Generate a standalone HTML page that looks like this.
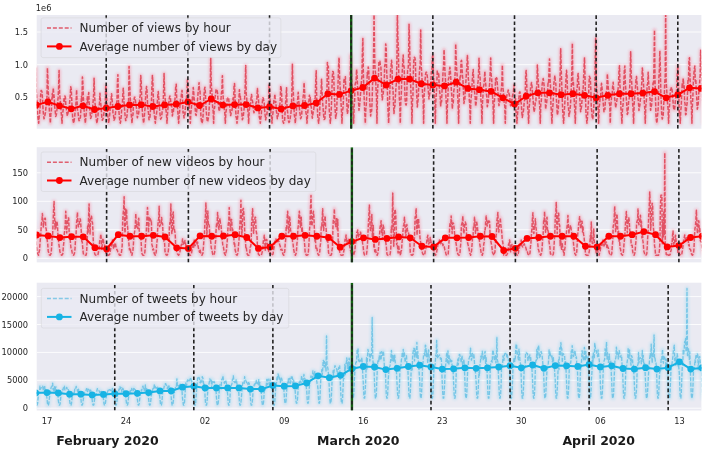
<!DOCTYPE html>
<html><head><meta charset="utf-8"><title>chart</title>
<style>html,body{margin:0;padding:0;background:#fff;width:705px;height:449px;overflow:hidden}svg{display:block}</style>
</head><body>
<svg width="705" height="449" viewBox="0 0 705 449">
<rect x="0" y="0" width="705" height="449" fill="#ffffff"/>
<defs><filter id="blur" x="-5%" y="-5%" width="110%" height="110%"><feGaussianBlur stdDeviation="0.4"/></filter><filter id="blur2" x="-5%" y="-5%" width="110%" height="110%"><feGaussianBlur stdDeviation="1.2"/></filter>
<clipPath id="c0"><rect x="36.7" y="15.0" width="664.70" height="113.70"/></clipPath>
<clipPath id="c1"><rect x="36.7" y="147.2" width="664.70" height="115.20"/></clipPath>
<clipPath id="c2"><rect x="36.7" y="282.7" width="664.70" height="127.80"/></clipPath>
</defs>
<rect x="36.7" y="15.0" width="664.70" height="113.70" fill="#EAEAF2"/>
<g clip-path="url(#c0)">
<line x1="36.7" x2="701.4" y1="32.0" y2="32.0" stroke="#ffffff" stroke-opacity="0.85" stroke-width="1"/>
<line x1="36.7" x2="701.4" y1="64.7" y2="64.7" stroke="#ffffff" stroke-opacity="0.85" stroke-width="1"/>
<line x1="36.7" x2="701.4" y1="97.4" y2="97.4" stroke="#ffffff" stroke-opacity="0.85" stroke-width="1"/>
<polyline points="24.58,76.54 25.07,89.27 25.55,102.79 26.04,117.48 26.52,120.23 27.01,123.2 27.5,119.12 27.98,115.8 28.47,105.13 28.95,105.71 29.44,86.42 29.93,89.66 30.41,92.28 30.9,104.08 31.38,112.69 31.87,115.84 32.36,120.37 32.84,119.58 33.33,118.33 33.81,111.82 34.3,109.83 34.79,105.56 35.27,90.27 35.76,68 36.24,90.99 36.73,97.51 37.22,104.98 37.7,115.9 38.19,119.2 38.68,123.2 39.16,116.8 39.65,113.5 40.13,106.45 40.62,95.78 41.11,90.5 41.59,90.79 42.08,92.5 42.56,98.77 43.05,109.75 43.54,114.86 44.02,118.86 44.51,117.27 44.99,114.97 45.48,112.47 45.97,106.77 46.45,101.07 46.94,99.1 47.42,68 47.91,79.53 48.4,95.38 48.88,98.14 49.37,110.55 49.85,115.16 50.34,123.2 50.83,113.92 51.31,111.91 51.8,100.58 52.28,93.57 52.77,97.92 53.26,87.86 53.74,93.85 54.23,97.29 54.71,107.03 55.2,110.8 55.69,116.39 56.17,115.48 56.66,112.43 57.14,107.34 57.63,101.37 58.12,97.78 58.6,87.62 59.09,70.5 59.57,93.13 60.06,98.4 60.55,102.95 61.03,110.57 61.52,116.39 62.01,123.2 62.49,114.26 62.98,111.09 63.46,106.75 63.95,98.78 64.44,101.51 64.92,95.91 65.41,97.22 65.89,106.15 66.38,108.62 66.87,112.82 67.35,116.02 67.84,113.59 68.32,111.74 68.81,111.1 69.3,106.42 69.78,100.45 70.27,95.32 70.75,86.8 71.24,89.5 71.73,99.41 72.21,109.6 72.7,118.56 73.18,121.14 73.67,123.2 74.16,120.23 74.64,117.5 75.13,110.8 75.61,107.37 76.1,101.15 76.59,89.73 77.07,101.24 77.56,111.23 78.04,112.45 78.53,117.44 79.02,120.69 79.5,120.34 79.99,119.68 80.47,117.07 80.96,108.13 81.45,96.4 81.93,101.34 82.42,77 82.91,83.69 83.39,98.41 83.88,105.12 84.36,115.24 84.85,118.3 85.34,123.2 85.82,117.65 86.31,112.44 86.79,106.26 87.28,96.85 87.77,102.45 88.25,96.78 88.74,92.61 89.22,103.91 89.71,108.87 90.2,113.59 90.68,118.53 91.17,117.09 91.65,115.34 92.14,110.93 92.63,107.41 93.11,101.46 93.6,94.87 94.08,78.2 94.57,94.63 95.06,103.21 95.54,109.27 96.03,117.6 96.51,120.75 97,123.2 97.49,119.24 97.97,115.43 98.46,109.35 98.94,106.41 99.43,104.08 99.92,93.17 100.4,100.97 100.89,104.56 101.37,111.09 101.86,117.55 102.35,120.3 102.83,119.12 103.32,117.96 103.8,113.72 104.29,110.4 104.78,105.39 105.26,105.6 105.75,85 106.23,90.64 106.72,99.1 107.21,108.41 107.69,115.82 108.18,118.94 108.67,123.2 109.15,118.54 109.64,115.17 110.12,109.05 110.61,102.17 111.1,100.05 111.58,93.78 112.07,99.45 112.55,104.21 113.04,114.09 113.53,114.96 114.01,120.33 114.5,119.17 114.98,117.67 115.47,113.65 115.96,108.07 116.44,104.38 116.93,101.06 117.41,82.5 117.9,74.64 118.39,97.95 118.87,110.32 119.36,117.21 119.84,120.85 120.33,123.2 120.82,120.39 121.3,115.57 121.79,107.1 122.27,105.77 122.76,95.58 123.25,88.22 123.73,96.33 124.22,104.64 124.7,111.22 125.19,116.49 125.68,120.58 126.16,119.6 126.65,117.9 127.13,114.95 127.62,107.15 128.11,103.75 128.59,100.1 129.08,66.5 129.56,80.39 130.05,93.31 130.54,104.71 131.02,112.48 131.51,117.21 132,123.2 132.48,116.02 132.97,114.91 133.45,103.95 133.94,100.91 134.43,97.16 134.91,97.24 135.4,100.61 135.88,103.98 136.37,107.16 136.86,110.74 137.34,117.79 137.83,115.29 138.31,114.83 138.8,112.27 139.29,104.53 139.77,98 140.26,95.4 140.74,75.5 141.23,81.95 141.72,98.93 142.2,109.28 142.69,116.33 143.17,119.53 143.66,123.2 144.15,118.1 144.63,112.75 145.12,107.34 145.6,95.72 146.09,90.07 146.58,86.45 147.06,91.23 147.55,104.24 148.03,109.81 148.52,113.22 149.01,119.75 149.49,119.14 149.98,116.89 150.46,109.99 150.95,106.03 151.44,101.59 151.92,85.87 152.41,75.4 152.89,83.15 153.38,98.45 153.87,109.23 154.35,114.78 154.84,118.87 155.33,123.2 155.81,118.02 156.3,115.23 156.78,111.4 157.27,102.72 157.76,96.4 158.24,91.6 158.73,97.87 159.21,104.55 159.7,110.73 160.19,115.55 160.67,119.23 161.16,118.31 161.64,116.9 162.13,111.49 162.62,109.99 163.1,103.82 163.59,90.91 164.07,73.6 164.56,91.58 165.05,97.16 165.53,103.81 166.02,110.44 166.5,114.65 166.99,123.2 167.48,114.63 167.96,108.28 168.45,104.36 168.93,102.26 169.42,97.59 169.91,96.08 170.39,97.51 170.88,103.69 171.36,106.22 171.85,106.98 172.34,115.92 172.82,113.13 173.31,112.22 173.79,107.14 174.28,106.82 174.77,102.03 175.25,95.6 175.74,86.3 176.22,84.16 176.71,98.73 177.2,103.47 177.68,110.1 178.17,117.03 178.66,123.2 179.14,115.72 179.63,111.69 180.11,102.94 180.6,98.39 181.09,98.04 181.57,92.7 182.06,90.36 182.54,99.51 183.03,112.89 183.52,112.4 184,117.9 184.49,115.24 184.97,114.38 185.46,106.52 185.95,103.27 186.43,97.63 186.92,94.53 187.4,80 187.89,86.05 188.38,90.53 188.86,99.42 189.35,110.3 189.83,113.04 190.32,123.2 190.81,113.12 191.29,109.56 191.78,102.19 192.26,96.96 192.75,100.98 193.24,87.57 193.72,92.24 194.21,99.18 194.69,103.47 195.18,108.69 195.67,114.76 196.15,115.44 196.64,111.62 197.12,105.07 197.61,98.76 198.1,92.42 198.58,88.33 199.07,82.7 199.56,91.44 200.04,91.06 200.53,107.22 201.01,117.66 201.5,121.24 201.99,123.2 202.47,121.41 202.96,116.89 203.44,109.63 203.93,96.43 204.42,89.55 204.9,87.15 205.39,92.5 205.87,104.5 206.36,112.28 206.85,117.46 207.33,121.83 207.82,120.98 208.3,118.42 208.79,114.82 209.28,106.27 209.76,98.25 210.25,93.91 210.73,57.9 211.22,82.84 211.71,90.43 212.19,96.02 212.68,107.78 213.16,111.09 213.65,123.2 214.14,108.15 214.62,108.21 215.11,96.95 215.59,93.72 216.08,89.29 216.57,89.32 217.05,90.2 217.54,92.77 218.02,100.88 218.51,105.01 219,111.42 219.48,110.26 219.97,107.2 220.45,102.49 220.94,99.56 221.43,93.47 221.91,90.04 222.4,75.7 222.88,92.92 223.37,99.82 223.86,101.73 224.34,109.76 224.83,113.11 225.32,123.2 225.8,113.2 226.29,109.96 226.77,104.45 227.26,98.65 227.75,98.13 228.23,99.63 228.72,98.97 229.2,104.61 229.69,106.72 230.18,111.23 230.66,115.55 231.15,113.03 231.63,111.83 232.12,109.5 232.61,103.45 233.09,97.65 233.58,100.59 234.06,84.7 234.55,83.63 235.04,96.77 235.52,104.97 236.01,116.85 236.49,118.02 236.98,123.2 237.47,118.58 237.95,114.29 238.44,109.12 238.92,98.76 239.41,89.81 239.9,97.6 240.38,96.54 240.87,101.83 241.35,108.32 241.84,113.05 242.33,119.77 242.81,118.57 243.3,116.23 243.78,111.67 244.27,106.69 244.76,95.4 245.24,85.26 245.73,65.5 246.21,94.11 246.7,98.05 247.19,105.45 247.67,109.28 248.16,113.15 248.65,123.2 249.13,111.2 249.62,108.17 250.1,103.57 250.59,103.95 251.08,97.34 251.56,94.61 252.05,99.95 252.53,101.03 253.02,105.15 253.51,110.22 253.99,112.76 254.48,110.81 254.96,110.21 255.45,106.49 255.94,102.74 256.42,102.72 256.91,97.74 257.39,88.5 257.88,94.08 258.37,96.98 258.85,107.67 259.34,117.46 259.82,118.62 260.31,123.2 260.8,117.69 261.28,115.6 261.77,105.61 262.25,103.55 262.74,97.7 263.23,97.86 263.71,100.58 264.2,102.64 264.68,110.94 265.17,115.28 265.66,119.86 266.14,117.18 266.63,116.07 267.11,112.42 267.6,107.53 268.09,105.2 268.57,100.89 269.06,85 269.54,89.59 270.03,98.79 270.52,107.09 271,113.26 271.49,116.72 271.98,123.2 272.46,115.78 272.95,113.11 273.43,106.55 273.92,100.14 274.41,98.76 274.89,94.24 275.38,102.58 275.86,101.62 276.35,110.88 276.84,113.52 277.32,118.72 277.81,116.06 278.29,114.14 278.78,109.21 279.27,105.43 279.75,105.5 280.24,99.9 280.72,86 281.21,88.27 281.7,95.92 282.18,111.5 282.67,120.33 283.15,121.95 283.64,123.2 284.13,122.03 284.61,120.2 285.1,111.63 285.58,103.18 286.07,96.74 286.56,87.75 287.04,107.49 287.53,111.29 288.01,116.64 288.5,120.84 288.99,122.46 289.47,121.43 289.96,120.54 290.44,116.19 290.93,113.21 291.42,106.89 291.9,92.01 292.39,64.3 292.87,87.16 293.36,93.01 293.85,105.53 294.33,114.91 294.82,117.78 295.31,123.2 295.79,116.68 296.28,112.84 296.76,104.35 297.25,103.66 297.74,98.62 298.22,92.26 298.71,99.77 299.19,106.09 299.68,111.53 300.17,114.67 300.65,118.67 301.14,117.76 301.62,115.39 302.11,108 302.6,106.26 303.08,96.84 303.57,93.9 304.05,82.7 304.54,90.7 305.03,100.31 305.51,102.76 306,113.35 306.48,114.83 306.97,123.2 307.46,116.48 307.94,110.21 308.43,102.19 308.91,101.32 309.4,95.15 309.89,99.91 310.37,97.51 310.86,105.75 311.34,107.36 311.83,113.55 312.32,118.26 312.8,114.59 313.29,111.63 313.77,109.48 314.26,103.7 314.75,100.24 315.23,97.34 315.72,82.2 316.2,70.84 316.69,98.51 317.18,102.35 317.66,115.14 318.15,119.97 318.64,123.2 319.12,117.02 319.61,115.4 320.09,100.31 320.58,95.88 321.07,92.27 321.55,79.15 322.04,92.04 322.52,100.37 323.01,107.23 323.5,113.27 323.98,119.43 324.47,119.37 324.95,118.38 325.44,109.12 325.93,107.93 326.41,97.09 326.9,95.23 327.38,62.5 327.87,66.46 328.36,66.46 328.84,97.64 329.33,111.18 329.81,116.75 330.3,123.2 330.79,117 331.27,108.89 331.76,95.58 332.24,78.44 332.73,71.49 333.22,71.64 333.7,75.41 334.19,91.26 334.67,101.28 335.16,110.08 335.65,118.26 336.13,115.44 336.62,112.64 337.1,98.17 337.59,97.62 338.08,82.15 338.56,66.46 339.05,57.7 339.53,76.16 340.02,85.93 340.51,91.98 340.99,102.09 341.48,111.23 341.97,123.2 342.45,110.61 342.94,108.8 343.42,99.95 343.91,80.16 344.4,78.87 344.88,81.79 345.37,76.69 345.85,94.25 346.34,96.08 346.83,102.4 347.31,113.83 347.8,111.74 348.28,106.78 348.77,102.36 349.26,91 349.74,89.76 350.23,74.95 350.71,55 351.2,68.45 351.69,82.09 352.17,87.63 352.66,105.18 353.14,108.18 353.63,123.2 354.12,105.58 354.6,102.18 355.09,84.98 355.57,82.37 356.06,81.93 356.55,69.45 357.03,73.56 357.52,86.45 358,96.76 358.49,100.72 358.98,110.17 359.46,106.85 359.95,101.76 360.43,95.08 360.92,89.46 361.41,81.56 361.89,76.8 362.38,54 362.86,38.4 363.35,74.23 363.84,87.78 364.32,102.72 364.81,113.48 365.3,123.2 365.78,109.91 366.27,104.88 366.75,94.42 367.24,72.45 367.73,75.75 368.21,66.9 368.7,69.76 369.18,84.94 369.67,100.51 370.16,107.29 370.64,116.02 371.13,111.03 371.61,111.08 372.1,101.43 372.59,82.74 373.07,81.77 373.56,57.31 374.04,12 374.53,51.37 375.02,69.38 375.5,72.72 375.99,88.69 376.47,96.4 376.96,123.2 377.45,94.07 377.93,84.71 378.42,78.46 378.9,61.65 379.39,61.8 379.88,61.23 380.36,64.92 380.85,65.85 381.33,79.09 381.82,93 382.31,99.84 382.79,96.23 383.28,93.12 383.76,84.23 384.25,80.49 384.74,64.93 385.22,65.03 385.71,44 386.19,48.2 386.68,71.51 387.17,79.98 387.65,102.64 388.14,111.98 388.63,123.2 389.11,110.13 389.6,98.44 390.08,84.24 390.57,69.95 391.06,66.84 391.54,60.25 392.03,65.49 392.51,88.78 393,88.31 393.49,104.02 393.97,113.47 394.46,107.39 394.94,105.91 395.43,95.1 395.92,88.29 396.4,82.6 396.89,61.3 397.37,12 397.86,39.17 398.35,46.9 398.83,78.82 399.32,98.15 399.8,104.63 400.29,123.2 400.78,102.1 401.26,95.23 401.75,79.83 402.23,72.49 402.72,61.83 403.21,55.06 403.69,65.44 404.18,67.15 404.66,87.07 405.15,100.52 405.64,104.24 406.12,105.06 406.61,102.63 407.09,82.23 407.58,70.73 408.07,69.74 408.55,61.97 409.04,24.2 409.52,39.65 410.01,64.8 410.5,79.3 410.98,94.69 411.47,101.05 411.96,123.2 412.44,101.66 412.93,95.57 413.41,70.25 413.9,59.12 414.39,57.26 414.87,57.8 415.36,60.29 415.84,82.13 416.33,84.23 416.82,96.6 417.3,107.01 417.79,102.25 418.27,98.32 418.76,85.03 419.25,75.95 419.73,67.33 420.22,65.01 420.7,29.9 421.19,66.33 421.68,71.44 422.16,82.65 422.65,96.7 423.13,98.14 423.62,123.2 424.11,95.53 424.59,90.26 425.08,79.73 425.56,74.61 426.05,72.17 426.54,72.32 427.02,73.85 427.51,78.54 427.99,86.9 428.48,92.64 428.97,99.03 429.45,94.94 429.94,92.84 430.42,85.83 430.91,80.92 431.4,71.58 431.88,71.85 432.37,58 432.85,54.72 433.34,71.93 433.83,81.22 434.31,94.81 434.8,101.41 435.29,123.2 435.77,101.42 436.26,94.28 436.74,86.55 437.23,71.07 437.72,71.84 438.2,74.74 438.69,72.64 439.17,85.21 439.66,91.43 440.15,95.49 440.63,106.57 441.12,100.42 441.6,101.75 442.09,89.58 442.58,82.13 443.06,71.48 443.55,66.4 444.03,49.7 444.52,59.64 445.01,73.49 445.49,80.23 445.98,99.49 446.46,104.4 446.95,123.2 447.44,103.14 447.92,96.59 448.41,78.81 448.89,78.26 449.38,71.06 449.87,67.32 450.35,71.08 450.84,79.46 451.32,89.47 451.81,95.31 452.3,108.79 452.78,103.47 453.27,102.85 453.75,91.23 454.24,88.62 454.73,80.68 455.21,71.01 455.7,44 456.18,59.64 456.67,69.1 457.16,75.88 457.64,95.84 458.13,104.35 458.62,123.2 459.1,99.8 459.59,89.47 460.07,75.2 460.56,77.1 461.05,61.23 461.53,60.33 462.02,67.36 462.5,76.05 462.99,81.17 463.48,92.71 463.96,103.54 464.45,99.16 464.93,98.98 465.42,86.52 465.91,81.45 466.39,72.77 466.88,66.56 467.36,55.4 467.85,62.39 468.34,79.05 468.82,82.24 469.31,100.48 469.79,103.45 470.28,123.2 470.77,102.35 471.25,96.8 471.74,91.39 472.22,81.46 472.71,74.45 473.2,69.62 473.68,80.66 474.17,88.59 474.65,92.53 475.14,96.92 475.63,106.35 476.11,103.56 476.6,98.56 477.08,89.83 477.57,84.14 478.06,81.98 478.54,73.39 479.03,58.2 479.51,73.61 480,76.18 480.49,87.3 480.97,101.19 481.46,104.83 481.95,123.2 482.43,103.95 482.92,96.49 483.4,86.69 483.89,85.09 484.38,79.04 484.86,71.43 485.35,81.34 485.83,85.22 486.32,92.81 486.81,97.13 487.29,106.67 487.78,103.9 488.26,102.81 488.75,92.97 489.24,87.76 489.72,82.75 490.21,72.52 490.69,57.9 491.18,75.2 491.67,78.52 492.15,88.76 492.64,98.15 493.12,106.16 493.61,123.2 494.1,104.22 494.58,98.85 495.07,93.17 495.55,78.65 496.04,80.96 496.53,77.65 497.01,78.87 497.5,86.74 497.98,92.35 498.47,100.24 498.96,105.62 499.44,103.55 499.93,100.22 500.41,93.85 500.9,92.36 501.39,88.75 501.87,82.48 502.36,65.1 502.84,87.09 503.33,91.37 503.82,97.95 504.3,104.32 504.79,105.38 505.28,123.2 505.76,104.55 506.25,100.23 506.73,95.99 507.22,94.28 507.71,92.6 508.19,90.09 508.68,91.77 509.16,94.57 509.65,96.2 510.14,101.25 510.62,105.81 511.11,104.88 511.59,102.98 512.08,98.21 512.57,95.49 513.05,93.42 513.54,90.56 514.02,85 514.51,93.17 515,104.85 515.48,98.43 515.97,110.89 516.45,115.6 516.94,123.2 517.43,115.76 517.91,108.93 518.4,109.05 518.88,98.33 519.37,92.62 519.86,91.91 520.34,93.84 520.83,101.15 521.31,103.74 521.8,112.3 522.29,117.38 522.77,114.49 523.26,111.87 523.74,107.96 524.23,101.84 524.72,99.74 525.2,97.35 525.69,74 526.17,70.58 526.66,82.34 527.15,95.39 527.63,107.33 528.12,111.92 528.61,123.2 529.09,108.94 529.58,103.27 530.06,98.53 530.55,88.04 531.04,85.47 531.52,82.43 532.01,86.58 532.49,92.89 532.98,98.73 533.47,104.64 533.95,111.81 534.44,110.31 534.92,107 535.41,100.99 535.9,100.75 536.38,88.4 536.87,85.37 537.35,65.1 537.84,74.9 538.33,83.69 538.81,90.15 539.3,101.5 539.78,107.25 540.27,123.2 540.76,103.58 541.24,102.41 541.73,92.03 542.21,83.74 542.7,81.6 543.19,78.58 543.67,81.55 544.16,86.11 544.64,95.18 545.13,96.89 545.62,109.21 546.1,105.26 546.59,103.82 547.07,97.6 547.56,91.24 548.05,83.01 548.53,83.69 549.02,71 549.5,58.9 549.99,77.96 550.48,86.12 550.96,105.53 551.45,112.8 551.94,123.2 552.42,111.5 552.91,105.51 553.39,97.75 553.88,83.52 554.37,79.64 554.85,75.55 555.34,82.32 555.82,83.54 556.31,98.01 556.8,104.55 557.28,114.99 557.77,113.02 558.25,109.79 558.74,100.43 559.23,95.12 559.71,85.94 560.2,72.8 560.68,48.7 561.17,67.57 561.66,82.64 562.14,96.29 562.63,109.44 563.11,116.47 563.6,123.2 564.09,113.35 564.57,107.66 565.06,98.34 565.54,87.08 566.03,77.86 566.52,70.26 567,76.01 567.49,91.23 567.97,105.57 568.46,106.24 568.95,116.31 569.43,113.67 569.92,111.44 570.4,105.99 570.89,97.03 571.38,84.8 571.86,70.94 572.35,43.4 572.84,84.62 573.32,81.59 573.81,89.59 574.29,102.21 574.78,109.33 575.27,123.2 575.75,107.09 576.24,99.96 576.72,89.05 577.21,88.3 577.7,76.37 578.18,73.49 578.67,82.66 579.15,86.37 579.64,96.27 580.13,104.04 580.61,111.71 581.1,109.1 581.58,106.03 582.07,99.3 582.56,90.76 583.04,91.53 583.53,79.33 584.01,68.1 584.5,57.89 584.99,76.26 585.47,95.71 585.96,112.8 586.44,117.63 586.93,123.2 587.42,117.75 587.9,108.97 588.39,103.17 588.87,86.96 589.36,76.24 589.85,77.36 590.33,78.3 590.82,88.65 591.3,108.13 591.79,111.76 592.28,118.99 592.76,118.59 593.25,114.87 593.73,108.3 594.22,93.12 594.71,91.37 595.19,62.89 595.68,38.3 596.16,77.45 596.65,87.2 597.14,94.49 597.62,104.52 598.11,109.42 598.6,123.2 599.08,107.49 599.57,104.49 600.05,98.65 600.54,97.56 601.03,88.67 601.51,83.25 602,87.59 602.48,93.39 602.97,100.77 603.46,105.61 603.94,111.7 604.43,108.74 604.91,109.4 605.4,99.94 605.89,99.53 606.37,91.6 606.86,88.54 607.34,74 607.83,81.07 608.32,88.62 608.8,92.57 609.29,103.33 609.77,104.55 610.26,123.2 610.75,106.27 611.23,101.14 611.72,94.84 612.2,93.55 612.69,85.74 613.18,82.29 613.66,89.54 614.15,90.53 614.63,98.71 615.12,101.15 615.61,107.71 616.09,105.06 616.58,103.07 617.06,98.63 617.55,91.72 618.04,89.3 618.52,83.63 619.01,71 619.5,65.84 619.98,86.7 620.47,90.51 620.95,109.25 621.44,114.08 621.93,123.2 622.41,110.86 622.9,105.63 623.38,101.07 623.87,80.95 624.36,70.18 624.84,66.09 625.33,83.33 625.81,89.33 626.3,98.67 626.79,104.77 627.27,114.45 627.76,113.19 628.24,108.43 628.73,99.79 629.22,98.51 629.7,87.01 630.19,76.48 630.67,51.7 631.16,72.64 631.65,82.07 632.13,90.57 632.62,103.16 633.1,109.79 633.59,123.2 634.08,105.54 634.56,98.51 635.05,92.58 635.53,86.23 636.02,79.42 636.51,76.54 636.99,83.26 637.48,88.2 637.96,98.51 638.45,101.29 638.94,110.48 639.42,107.21 639.91,105.03 640.39,98.89 640.88,98.02 641.37,89.35 641.85,81.4 642.34,68.1 642.83,73.48 643.31,81.21 643.8,88.91 644.28,101.14 644.77,108.82 645.26,123.2 645.74,107.01 646.23,102.08 646.71,94.97 647.2,84.8 647.69,84.17 648.17,72.32 648.66,82.74 649.14,89 649.63,96.9 650.12,98.75 650.6,110.33 651.09,106.8 651.57,105.41 652.06,97.38 652.55,91.93 653.03,82.81 653.52,85.12 654,65.1 654.49,30.15 654.98,78.28 655.46,95.35 655.95,115.19 656.43,120.76 656.92,123.2 657.41,116.66 657.89,112.57 658.38,104.81 658.86,77.82 659.35,70.14 659.84,50.84 660.32,65.92 660.81,91.42 661.29,103.86 661.78,115.96 662.27,119.04 662.75,117.61 663.24,114.35 663.72,103.69 664.21,98.61 664.7,83.87 665.18,76.3 665.67,12 666.15,81.56 666.64,88.76 667.13,97.4 667.61,103.9 668.1,109.19 668.59,123.2 669.07,108.99 669.56,105.84 670.04,94.6 670.53,89.44 671.02,88.59 671.5,87.23 671.99,89.73 672.47,93.98 672.96,100.54 673.45,106.82 673.93,109.87 674.42,109.8 674.9,106.72 675.39,101.01 675.88,95.92 676.36,95.18 676.85,84.93 677.33,74 677.82,65.75 678.31,75.48 678.79,95.41 679.28,113.37 679.76,113.04 680.25,123.2 680.74,110.79 681.22,106.66 681.71,94.15 682.19,82.97 682.68,88.31 683.17,78.43 683.65,83.87 684.14,84.47 684.62,101.83 685.11,103.95 685.6,114.72 686.08,114.19 686.57,106.77 687.05,103.8 687.54,92.74 688.03,79.24 688.51,80.48 689,59.2 689.49,57.82 689.97,75.11 690.46,88.92 690.94,101.58 691.43,106.64 691.92,123.2 692.4,105.01 692.89,96.23 693.37,81.9 693.86,73.81 694.35,69.1 694.83,65.99 695.32,81.58 695.8,79.18 696.29,91.31 696.78,98.72 697.26,109.14 697.75,107 698.23,103.79 698.72,93.36 699.21,90.26 699.69,82.06 700.18,75.31 700.66,50.2 701.15,64.69 701.64,75.74 702.12,81.57 702.61,100.26 703.09,105.52 703.58,123.2 704.07,104.28 704.55,97.32 705.04,85.71 705.52,79.45 706.01,77.99 706.5,71.63 706.98,76.94 707.47,79.62 707.95,90.05 708.44,100.96 708.93,107.26 709.41,105.43 709.9,101.32 710.38,94.49 710.87,91.22 711.36,75.92 711.84,71.04 712.33,60 712.81,75.67 713.3,79.36 713.79,87.52 714.27,96.51 714.76,100.93 715.25,123.2 715.73,100.71 716.22,92.23 716.7,83.41 717.19,80.81 717.68,81.75 718.16,72.74 718.65,76.58 719.13,78.58 719.62,87.62 720.11,93.93 720.59,101.51 721.08,101.63 721.56,97.67 722.05,91.44 722.54,82.92 723.02,79.44 723.51,85.85 723.99,60 724.48,71.3 724.97,75.69 725.45,86.48 725.94,96.9 726.42,102.46 726.91,123.2 727.4,103.06 727.88,93.27 728.37,85.28 728.85,79.71 729.34,74.89 729.83,75.78 730.31,73.01 730.8,82.85 731.28,90.2 731.77,95.78 732.26,105.84 732.74,103.37 733.23,99.03 733.71,91.28 734.2,83.92 734.69,79.58 735.17,79.13 735.66,60" fill="none" stroke="#ff4060" stroke-opacity="0.26" stroke-width="4" stroke-linejoin="round" filter="url(#blur2)"/>
<polyline points="24.58,76.54 25.07,89.27 25.55,102.79 26.04,117.48 26.52,120.23 27.01,123.2 27.5,119.12 27.98,115.8 28.47,105.13 28.95,105.71 29.44,86.42 29.93,89.66 30.41,92.28 30.9,104.08 31.38,112.69 31.87,115.84 32.36,120.37 32.84,119.58 33.33,118.33 33.81,111.82 34.3,109.83 34.79,105.56 35.27,90.27 35.76,68 36.24,90.99 36.73,97.51 37.22,104.98 37.7,115.9 38.19,119.2 38.68,123.2 39.16,116.8 39.65,113.5 40.13,106.45 40.62,95.78 41.11,90.5 41.59,90.79 42.08,92.5 42.56,98.77 43.05,109.75 43.54,114.86 44.02,118.86 44.51,117.27 44.99,114.97 45.48,112.47 45.97,106.77 46.45,101.07 46.94,99.1 47.42,68 47.91,79.53 48.4,95.38 48.88,98.14 49.37,110.55 49.85,115.16 50.34,123.2 50.83,113.92 51.31,111.91 51.8,100.58 52.28,93.57 52.77,97.92 53.26,87.86 53.74,93.85 54.23,97.29 54.71,107.03 55.2,110.8 55.69,116.39 56.17,115.48 56.66,112.43 57.14,107.34 57.63,101.37 58.12,97.78 58.6,87.62 59.09,70.5 59.57,93.13 60.06,98.4 60.55,102.95 61.03,110.57 61.52,116.39 62.01,123.2 62.49,114.26 62.98,111.09 63.46,106.75 63.95,98.78 64.44,101.51 64.92,95.91 65.41,97.22 65.89,106.15 66.38,108.62 66.87,112.82 67.35,116.02 67.84,113.59 68.32,111.74 68.81,111.1 69.3,106.42 69.78,100.45 70.27,95.32 70.75,86.8 71.24,89.5 71.73,99.41 72.21,109.6 72.7,118.56 73.18,121.14 73.67,123.2 74.16,120.23 74.64,117.5 75.13,110.8 75.61,107.37 76.1,101.15 76.59,89.73 77.07,101.24 77.56,111.23 78.04,112.45 78.53,117.44 79.02,120.69 79.5,120.34 79.99,119.68 80.47,117.07 80.96,108.13 81.45,96.4 81.93,101.34 82.42,77 82.91,83.69 83.39,98.41 83.88,105.12 84.36,115.24 84.85,118.3 85.34,123.2 85.82,117.65 86.31,112.44 86.79,106.26 87.28,96.85 87.77,102.45 88.25,96.78 88.74,92.61 89.22,103.91 89.71,108.87 90.2,113.59 90.68,118.53 91.17,117.09 91.65,115.34 92.14,110.93 92.63,107.41 93.11,101.46 93.6,94.87 94.08,78.2 94.57,94.63 95.06,103.21 95.54,109.27 96.03,117.6 96.51,120.75 97,123.2 97.49,119.24 97.97,115.43 98.46,109.35 98.94,106.41 99.43,104.08 99.92,93.17 100.4,100.97 100.89,104.56 101.37,111.09 101.86,117.55 102.35,120.3 102.83,119.12 103.32,117.96 103.8,113.72 104.29,110.4 104.78,105.39 105.26,105.6 105.75,85 106.23,90.64 106.72,99.1 107.21,108.41 107.69,115.82 108.18,118.94 108.67,123.2 109.15,118.54 109.64,115.17 110.12,109.05 110.61,102.17 111.1,100.05 111.58,93.78 112.07,99.45 112.55,104.21 113.04,114.09 113.53,114.96 114.01,120.33 114.5,119.17 114.98,117.67 115.47,113.65 115.96,108.07 116.44,104.38 116.93,101.06 117.41,82.5 117.9,74.64 118.39,97.95 118.87,110.32 119.36,117.21 119.84,120.85 120.33,123.2 120.82,120.39 121.3,115.57 121.79,107.1 122.27,105.77 122.76,95.58 123.25,88.22 123.73,96.33 124.22,104.64 124.7,111.22 125.19,116.49 125.68,120.58 126.16,119.6 126.65,117.9 127.13,114.95 127.62,107.15 128.11,103.75 128.59,100.1 129.08,66.5 129.56,80.39 130.05,93.31 130.54,104.71 131.02,112.48 131.51,117.21 132,123.2 132.48,116.02 132.97,114.91 133.45,103.95 133.94,100.91 134.43,97.16 134.91,97.24 135.4,100.61 135.88,103.98 136.37,107.16 136.86,110.74 137.34,117.79 137.83,115.29 138.31,114.83 138.8,112.27 139.29,104.53 139.77,98 140.26,95.4 140.74,75.5 141.23,81.95 141.72,98.93 142.2,109.28 142.69,116.33 143.17,119.53 143.66,123.2 144.15,118.1 144.63,112.75 145.12,107.34 145.6,95.72 146.09,90.07 146.58,86.45 147.06,91.23 147.55,104.24 148.03,109.81 148.52,113.22 149.01,119.75 149.49,119.14 149.98,116.89 150.46,109.99 150.95,106.03 151.44,101.59 151.92,85.87 152.41,75.4 152.89,83.15 153.38,98.45 153.87,109.23 154.35,114.78 154.84,118.87 155.33,123.2 155.81,118.02 156.3,115.23 156.78,111.4 157.27,102.72 157.76,96.4 158.24,91.6 158.73,97.87 159.21,104.55 159.7,110.73 160.19,115.55 160.67,119.23 161.16,118.31 161.64,116.9 162.13,111.49 162.62,109.99 163.1,103.82 163.59,90.91 164.07,73.6 164.56,91.58 165.05,97.16 165.53,103.81 166.02,110.44 166.5,114.65 166.99,123.2 167.48,114.63 167.96,108.28 168.45,104.36 168.93,102.26 169.42,97.59 169.91,96.08 170.39,97.51 170.88,103.69 171.36,106.22 171.85,106.98 172.34,115.92 172.82,113.13 173.31,112.22 173.79,107.14 174.28,106.82 174.77,102.03 175.25,95.6 175.74,86.3 176.22,84.16 176.71,98.73 177.2,103.47 177.68,110.1 178.17,117.03 178.66,123.2 179.14,115.72 179.63,111.69 180.11,102.94 180.6,98.39 181.09,98.04 181.57,92.7 182.06,90.36 182.54,99.51 183.03,112.89 183.52,112.4 184,117.9 184.49,115.24 184.97,114.38 185.46,106.52 185.95,103.27 186.43,97.63 186.92,94.53 187.4,80 187.89,86.05 188.38,90.53 188.86,99.42 189.35,110.3 189.83,113.04 190.32,123.2 190.81,113.12 191.29,109.56 191.78,102.19 192.26,96.96 192.75,100.98 193.24,87.57 193.72,92.24 194.21,99.18 194.69,103.47 195.18,108.69 195.67,114.76 196.15,115.44 196.64,111.62 197.12,105.07 197.61,98.76 198.1,92.42 198.58,88.33 199.07,82.7 199.56,91.44 200.04,91.06 200.53,107.22 201.01,117.66 201.5,121.24 201.99,123.2 202.47,121.41 202.96,116.89 203.44,109.63 203.93,96.43 204.42,89.55 204.9,87.15 205.39,92.5 205.87,104.5 206.36,112.28 206.85,117.46 207.33,121.83 207.82,120.98 208.3,118.42 208.79,114.82 209.28,106.27 209.76,98.25 210.25,93.91 210.73,57.9 211.22,82.84 211.71,90.43 212.19,96.02 212.68,107.78 213.16,111.09 213.65,123.2 214.14,108.15 214.62,108.21 215.11,96.95 215.59,93.72 216.08,89.29 216.57,89.32 217.05,90.2 217.54,92.77 218.02,100.88 218.51,105.01 219,111.42 219.48,110.26 219.97,107.2 220.45,102.49 220.94,99.56 221.43,93.47 221.91,90.04 222.4,75.7 222.88,92.92 223.37,99.82 223.86,101.73 224.34,109.76 224.83,113.11 225.32,123.2 225.8,113.2 226.29,109.96 226.77,104.45 227.26,98.65 227.75,98.13 228.23,99.63 228.72,98.97 229.2,104.61 229.69,106.72 230.18,111.23 230.66,115.55 231.15,113.03 231.63,111.83 232.12,109.5 232.61,103.45 233.09,97.65 233.58,100.59 234.06,84.7 234.55,83.63 235.04,96.77 235.52,104.97 236.01,116.85 236.49,118.02 236.98,123.2 237.47,118.58 237.95,114.29 238.44,109.12 238.92,98.76 239.41,89.81 239.9,97.6 240.38,96.54 240.87,101.83 241.35,108.32 241.84,113.05 242.33,119.77 242.81,118.57 243.3,116.23 243.78,111.67 244.27,106.69 244.76,95.4 245.24,85.26 245.73,65.5 246.21,94.11 246.7,98.05 247.19,105.45 247.67,109.28 248.16,113.15 248.65,123.2 249.13,111.2 249.62,108.17 250.1,103.57 250.59,103.95 251.08,97.34 251.56,94.61 252.05,99.95 252.53,101.03 253.02,105.15 253.51,110.22 253.99,112.76 254.48,110.81 254.96,110.21 255.45,106.49 255.94,102.74 256.42,102.72 256.91,97.74 257.39,88.5 257.88,94.08 258.37,96.98 258.85,107.67 259.34,117.46 259.82,118.62 260.31,123.2 260.8,117.69 261.28,115.6 261.77,105.61 262.25,103.55 262.74,97.7 263.23,97.86 263.71,100.58 264.2,102.64 264.68,110.94 265.17,115.28 265.66,119.86 266.14,117.18 266.63,116.07 267.11,112.42 267.6,107.53 268.09,105.2 268.57,100.89 269.06,85 269.54,89.59 270.03,98.79 270.52,107.09 271,113.26 271.49,116.72 271.98,123.2 272.46,115.78 272.95,113.11 273.43,106.55 273.92,100.14 274.41,98.76 274.89,94.24 275.38,102.58 275.86,101.62 276.35,110.88 276.84,113.52 277.32,118.72 277.81,116.06 278.29,114.14 278.78,109.21 279.27,105.43 279.75,105.5 280.24,99.9 280.72,86 281.21,88.27 281.7,95.92 282.18,111.5 282.67,120.33 283.15,121.95 283.64,123.2 284.13,122.03 284.61,120.2 285.1,111.63 285.58,103.18 286.07,96.74 286.56,87.75 287.04,107.49 287.53,111.29 288.01,116.64 288.5,120.84 288.99,122.46 289.47,121.43 289.96,120.54 290.44,116.19 290.93,113.21 291.42,106.89 291.9,92.01 292.39,64.3 292.87,87.16 293.36,93.01 293.85,105.53 294.33,114.91 294.82,117.78 295.31,123.2 295.79,116.68 296.28,112.84 296.76,104.35 297.25,103.66 297.74,98.62 298.22,92.26 298.71,99.77 299.19,106.09 299.68,111.53 300.17,114.67 300.65,118.67 301.14,117.76 301.62,115.39 302.11,108 302.6,106.26 303.08,96.84 303.57,93.9 304.05,82.7 304.54,90.7 305.03,100.31 305.51,102.76 306,113.35 306.48,114.83 306.97,123.2 307.46,116.48 307.94,110.21 308.43,102.19 308.91,101.32 309.4,95.15 309.89,99.91 310.37,97.51 310.86,105.75 311.34,107.36 311.83,113.55 312.32,118.26 312.8,114.59 313.29,111.63 313.77,109.48 314.26,103.7 314.75,100.24 315.23,97.34 315.72,82.2 316.2,70.84 316.69,98.51 317.18,102.35 317.66,115.14 318.15,119.97 318.64,123.2 319.12,117.02 319.61,115.4 320.09,100.31 320.58,95.88 321.07,92.27 321.55,79.15 322.04,92.04 322.52,100.37 323.01,107.23 323.5,113.27 323.98,119.43 324.47,119.37 324.95,118.38 325.44,109.12 325.93,107.93 326.41,97.09 326.9,95.23 327.38,62.5 327.87,66.46 328.36,66.46 328.84,97.64 329.33,111.18 329.81,116.75 330.3,123.2 330.79,117 331.27,108.89 331.76,95.58 332.24,78.44 332.73,71.49 333.22,71.64 333.7,75.41 334.19,91.26 334.67,101.28 335.16,110.08 335.65,118.26 336.13,115.44 336.62,112.64 337.1,98.17 337.59,97.62 338.08,82.15 338.56,66.46 339.05,57.7 339.53,76.16 340.02,85.93 340.51,91.98 340.99,102.09 341.48,111.23 341.97,123.2 342.45,110.61 342.94,108.8 343.42,99.95 343.91,80.16 344.4,78.87 344.88,81.79 345.37,76.69 345.85,94.25 346.34,96.08 346.83,102.4 347.31,113.83 347.8,111.74 348.28,106.78 348.77,102.36 349.26,91 349.74,89.76 350.23,74.95 350.71,55 351.2,68.45 351.69,82.09 352.17,87.63 352.66,105.18 353.14,108.18 353.63,123.2 354.12,105.58 354.6,102.18 355.09,84.98 355.57,82.37 356.06,81.93 356.55,69.45 357.03,73.56 357.52,86.45 358,96.76 358.49,100.72 358.98,110.17 359.46,106.85 359.95,101.76 360.43,95.08 360.92,89.46 361.41,81.56 361.89,76.8 362.38,54 362.86,38.4 363.35,74.23 363.84,87.78 364.32,102.72 364.81,113.48 365.3,123.2 365.78,109.91 366.27,104.88 366.75,94.42 367.24,72.45 367.73,75.75 368.21,66.9 368.7,69.76 369.18,84.94 369.67,100.51 370.16,107.29 370.64,116.02 371.13,111.03 371.61,111.08 372.1,101.43 372.59,82.74 373.07,81.77 373.56,57.31 374.04,12 374.53,51.37 375.02,69.38 375.5,72.72 375.99,88.69 376.47,96.4 376.96,123.2 377.45,94.07 377.93,84.71 378.42,78.46 378.9,61.65 379.39,61.8 379.88,61.23 380.36,64.92 380.85,65.85 381.33,79.09 381.82,93 382.31,99.84 382.79,96.23 383.28,93.12 383.76,84.23 384.25,80.49 384.74,64.93 385.22,65.03 385.71,44 386.19,48.2 386.68,71.51 387.17,79.98 387.65,102.64 388.14,111.98 388.63,123.2 389.11,110.13 389.6,98.44 390.08,84.24 390.57,69.95 391.06,66.84 391.54,60.25 392.03,65.49 392.51,88.78 393,88.31 393.49,104.02 393.97,113.47 394.46,107.39 394.94,105.91 395.43,95.1 395.92,88.29 396.4,82.6 396.89,61.3 397.37,12 397.86,39.17 398.35,46.9 398.83,78.82 399.32,98.15 399.8,104.63 400.29,123.2 400.78,102.1 401.26,95.23 401.75,79.83 402.23,72.49 402.72,61.83 403.21,55.06 403.69,65.44 404.18,67.15 404.66,87.07 405.15,100.52 405.64,104.24 406.12,105.06 406.61,102.63 407.09,82.23 407.58,70.73 408.07,69.74 408.55,61.97 409.04,24.2 409.52,39.65 410.01,64.8 410.5,79.3 410.98,94.69 411.47,101.05 411.96,123.2 412.44,101.66 412.93,95.57 413.41,70.25 413.9,59.12 414.39,57.26 414.87,57.8 415.36,60.29 415.84,82.13 416.33,84.23 416.82,96.6 417.3,107.01 417.79,102.25 418.27,98.32 418.76,85.03 419.25,75.95 419.73,67.33 420.22,65.01 420.7,29.9 421.19,66.33 421.68,71.44 422.16,82.65 422.65,96.7 423.13,98.14 423.62,123.2 424.11,95.53 424.59,90.26 425.08,79.73 425.56,74.61 426.05,72.17 426.54,72.32 427.02,73.85 427.51,78.54 427.99,86.9 428.48,92.64 428.97,99.03 429.45,94.94 429.94,92.84 430.42,85.83 430.91,80.92 431.4,71.58 431.88,71.85 432.37,58 432.85,54.72 433.34,71.93 433.83,81.22 434.31,94.81 434.8,101.41 435.29,123.2 435.77,101.42 436.26,94.28 436.74,86.55 437.23,71.07 437.72,71.84 438.2,74.74 438.69,72.64 439.17,85.21 439.66,91.43 440.15,95.49 440.63,106.57 441.12,100.42 441.6,101.75 442.09,89.58 442.58,82.13 443.06,71.48 443.55,66.4 444.03,49.7 444.52,59.64 445.01,73.49 445.49,80.23 445.98,99.49 446.46,104.4 446.95,123.2 447.44,103.14 447.92,96.59 448.41,78.81 448.89,78.26 449.38,71.06 449.87,67.32 450.35,71.08 450.84,79.46 451.32,89.47 451.81,95.31 452.3,108.79 452.78,103.47 453.27,102.85 453.75,91.23 454.24,88.62 454.73,80.68 455.21,71.01 455.7,44 456.18,59.64 456.67,69.1 457.16,75.88 457.64,95.84 458.13,104.35 458.62,123.2 459.1,99.8 459.59,89.47 460.07,75.2 460.56,77.1 461.05,61.23 461.53,60.33 462.02,67.36 462.5,76.05 462.99,81.17 463.48,92.71 463.96,103.54 464.45,99.16 464.93,98.98 465.42,86.52 465.91,81.45 466.39,72.77 466.88,66.56 467.36,55.4 467.85,62.39 468.34,79.05 468.82,82.24 469.31,100.48 469.79,103.45 470.28,123.2 470.77,102.35 471.25,96.8 471.74,91.39 472.22,81.46 472.71,74.45 473.2,69.62 473.68,80.66 474.17,88.59 474.65,92.53 475.14,96.92 475.63,106.35 476.11,103.56 476.6,98.56 477.08,89.83 477.57,84.14 478.06,81.98 478.54,73.39 479.03,58.2 479.51,73.61 480,76.18 480.49,87.3 480.97,101.19 481.46,104.83 481.95,123.2 482.43,103.95 482.92,96.49 483.4,86.69 483.89,85.09 484.38,79.04 484.86,71.43 485.35,81.34 485.83,85.22 486.32,92.81 486.81,97.13 487.29,106.67 487.78,103.9 488.26,102.81 488.75,92.97 489.24,87.76 489.72,82.75 490.21,72.52 490.69,57.9 491.18,75.2 491.67,78.52 492.15,88.76 492.64,98.15 493.12,106.16 493.61,123.2 494.1,104.22 494.58,98.85 495.07,93.17 495.55,78.65 496.04,80.96 496.53,77.65 497.01,78.87 497.5,86.74 497.98,92.35 498.47,100.24 498.96,105.62 499.44,103.55 499.93,100.22 500.41,93.85 500.9,92.36 501.39,88.75 501.87,82.48 502.36,65.1 502.84,87.09 503.33,91.37 503.82,97.95 504.3,104.32 504.79,105.38 505.28,123.2 505.76,104.55 506.25,100.23 506.73,95.99 507.22,94.28 507.71,92.6 508.19,90.09 508.68,91.77 509.16,94.57 509.65,96.2 510.14,101.25 510.62,105.81 511.11,104.88 511.59,102.98 512.08,98.21 512.57,95.49 513.05,93.42 513.54,90.56 514.02,85 514.51,93.17 515,104.85 515.48,98.43 515.97,110.89 516.45,115.6 516.94,123.2 517.43,115.76 517.91,108.93 518.4,109.05 518.88,98.33 519.37,92.62 519.86,91.91 520.34,93.84 520.83,101.15 521.31,103.74 521.8,112.3 522.29,117.38 522.77,114.49 523.26,111.87 523.74,107.96 524.23,101.84 524.72,99.74 525.2,97.35 525.69,74 526.17,70.58 526.66,82.34 527.15,95.39 527.63,107.33 528.12,111.92 528.61,123.2 529.09,108.94 529.58,103.27 530.06,98.53 530.55,88.04 531.04,85.47 531.52,82.43 532.01,86.58 532.49,92.89 532.98,98.73 533.47,104.64 533.95,111.81 534.44,110.31 534.92,107 535.41,100.99 535.9,100.75 536.38,88.4 536.87,85.37 537.35,65.1 537.84,74.9 538.33,83.69 538.81,90.15 539.3,101.5 539.78,107.25 540.27,123.2 540.76,103.58 541.24,102.41 541.73,92.03 542.21,83.74 542.7,81.6 543.19,78.58 543.67,81.55 544.16,86.11 544.64,95.18 545.13,96.89 545.62,109.21 546.1,105.26 546.59,103.82 547.07,97.6 547.56,91.24 548.05,83.01 548.53,83.69 549.02,71 549.5,58.9 549.99,77.96 550.48,86.12 550.96,105.53 551.45,112.8 551.94,123.2 552.42,111.5 552.91,105.51 553.39,97.75 553.88,83.52 554.37,79.64 554.85,75.55 555.34,82.32 555.82,83.54 556.31,98.01 556.8,104.55 557.28,114.99 557.77,113.02 558.25,109.79 558.74,100.43 559.23,95.12 559.71,85.94 560.2,72.8 560.68,48.7 561.17,67.57 561.66,82.64 562.14,96.29 562.63,109.44 563.11,116.47 563.6,123.2 564.09,113.35 564.57,107.66 565.06,98.34 565.54,87.08 566.03,77.86 566.52,70.26 567,76.01 567.49,91.23 567.97,105.57 568.46,106.24 568.95,116.31 569.43,113.67 569.92,111.44 570.4,105.99 570.89,97.03 571.38,84.8 571.86,70.94 572.35,43.4 572.84,84.62 573.32,81.59 573.81,89.59 574.29,102.21 574.78,109.33 575.27,123.2 575.75,107.09 576.24,99.96 576.72,89.05 577.21,88.3 577.7,76.37 578.18,73.49 578.67,82.66 579.15,86.37 579.64,96.27 580.13,104.04 580.61,111.71 581.1,109.1 581.58,106.03 582.07,99.3 582.56,90.76 583.04,91.53 583.53,79.33 584.01,68.1 584.5,57.89 584.99,76.26 585.47,95.71 585.96,112.8 586.44,117.63 586.93,123.2 587.42,117.75 587.9,108.97 588.39,103.17 588.87,86.96 589.36,76.24 589.85,77.36 590.33,78.3 590.82,88.65 591.3,108.13 591.79,111.76 592.28,118.99 592.76,118.59 593.25,114.87 593.73,108.3 594.22,93.12 594.71,91.37 595.19,62.89 595.68,38.3 596.16,77.45 596.65,87.2 597.14,94.49 597.62,104.52 598.11,109.42 598.6,123.2 599.08,107.49 599.57,104.49 600.05,98.65 600.54,97.56 601.03,88.67 601.51,83.25 602,87.59 602.48,93.39 602.97,100.77 603.46,105.61 603.94,111.7 604.43,108.74 604.91,109.4 605.4,99.94 605.89,99.53 606.37,91.6 606.86,88.54 607.34,74 607.83,81.07 608.32,88.62 608.8,92.57 609.29,103.33 609.77,104.55 610.26,123.2 610.75,106.27 611.23,101.14 611.72,94.84 612.2,93.55 612.69,85.74 613.18,82.29 613.66,89.54 614.15,90.53 614.63,98.71 615.12,101.15 615.61,107.71 616.09,105.06 616.58,103.07 617.06,98.63 617.55,91.72 618.04,89.3 618.52,83.63 619.01,71 619.5,65.84 619.98,86.7 620.47,90.51 620.95,109.25 621.44,114.08 621.93,123.2 622.41,110.86 622.9,105.63 623.38,101.07 623.87,80.95 624.36,70.18 624.84,66.09 625.33,83.33 625.81,89.33 626.3,98.67 626.79,104.77 627.27,114.45 627.76,113.19 628.24,108.43 628.73,99.79 629.22,98.51 629.7,87.01 630.19,76.48 630.67,51.7 631.16,72.64 631.65,82.07 632.13,90.57 632.62,103.16 633.1,109.79 633.59,123.2 634.08,105.54 634.56,98.51 635.05,92.58 635.53,86.23 636.02,79.42 636.51,76.54 636.99,83.26 637.48,88.2 637.96,98.51 638.45,101.29 638.94,110.48 639.42,107.21 639.91,105.03 640.39,98.89 640.88,98.02 641.37,89.35 641.85,81.4 642.34,68.1 642.83,73.48 643.31,81.21 643.8,88.91 644.28,101.14 644.77,108.82 645.26,123.2 645.74,107.01 646.23,102.08 646.71,94.97 647.2,84.8 647.69,84.17 648.17,72.32 648.66,82.74 649.14,89 649.63,96.9 650.12,98.75 650.6,110.33 651.09,106.8 651.57,105.41 652.06,97.38 652.55,91.93 653.03,82.81 653.52,85.12 654,65.1 654.49,30.15 654.98,78.28 655.46,95.35 655.95,115.19 656.43,120.76 656.92,123.2 657.41,116.66 657.89,112.57 658.38,104.81 658.86,77.82 659.35,70.14 659.84,50.84 660.32,65.92 660.81,91.42 661.29,103.86 661.78,115.96 662.27,119.04 662.75,117.61 663.24,114.35 663.72,103.69 664.21,98.61 664.7,83.87 665.18,76.3 665.67,12 666.15,81.56 666.64,88.76 667.13,97.4 667.61,103.9 668.1,109.19 668.59,123.2 669.07,108.99 669.56,105.84 670.04,94.6 670.53,89.44 671.02,88.59 671.5,87.23 671.99,89.73 672.47,93.98 672.96,100.54 673.45,106.82 673.93,109.87 674.42,109.8 674.9,106.72 675.39,101.01 675.88,95.92 676.36,95.18 676.85,84.93 677.33,74 677.82,65.75 678.31,75.48 678.79,95.41 679.28,113.37 679.76,113.04 680.25,123.2 680.74,110.79 681.22,106.66 681.71,94.15 682.19,82.97 682.68,88.31 683.17,78.43 683.65,83.87 684.14,84.47 684.62,101.83 685.11,103.95 685.6,114.72 686.08,114.19 686.57,106.77 687.05,103.8 687.54,92.74 688.03,79.24 688.51,80.48 689,59.2 689.49,57.82 689.97,75.11 690.46,88.92 690.94,101.58 691.43,106.64 691.92,123.2 692.4,105.01 692.89,96.23 693.37,81.9 693.86,73.81 694.35,69.1 694.83,65.99 695.32,81.58 695.8,79.18 696.29,91.31 696.78,98.72 697.26,109.14 697.75,107 698.23,103.79 698.72,93.36 699.21,90.26 699.69,82.06 700.18,75.31 700.66,50.2 701.15,64.69 701.64,75.74 702.12,81.57 702.61,100.26 703.09,105.52 703.58,123.2 704.07,104.28 704.55,97.32 705.04,85.71 705.52,79.45 706.01,77.99 706.5,71.63 706.98,76.94 707.47,79.62 707.95,90.05 708.44,100.96 708.93,107.26 709.41,105.43 709.9,101.32 710.38,94.49 710.87,91.22 711.36,75.92 711.84,71.04 712.33,60 712.81,75.67 713.3,79.36 713.79,87.52 714.27,96.51 714.76,100.93 715.25,123.2 715.73,100.71 716.22,92.23 716.7,83.41 717.19,80.81 717.68,81.75 718.16,72.74 718.65,76.58 719.13,78.58 719.62,87.62 720.11,93.93 720.59,101.51 721.08,101.63 721.56,97.67 722.05,91.44 722.54,82.92 723.02,79.44 723.51,85.85 723.99,60 724.48,71.3 724.97,75.69 725.45,86.48 725.94,96.9 726.42,102.46 726.91,123.2 727.4,103.06 727.88,93.27 728.37,85.28 728.85,79.71 729.34,74.89 729.83,75.78 730.31,73.01 730.8,82.85 731.28,90.2 731.77,95.78 732.26,105.84 732.74,103.37 733.23,99.03 733.71,91.28 734.2,83.92 734.69,79.58 735.17,79.13 735.66,60" fill="none" stroke="#dc2436" stroke-opacity="0.72" stroke-width="1.5" stroke-dasharray="4 1.5" stroke-linejoin="round" filter="url(#blur)"/>
<polyline points="36.24,105 47.91,101.9 59.57,105.8 71.24,108.8 82.91,105.8 94.57,109.5 106.23,108.1 117.9,106.5 129.56,104.9 141.23,104.7 152.89,106.5 164.56,104.9 176.22,104.2 187.89,101.9 199.56,105.5 211.22,99 222.88,105.1 234.55,104.6 246.21,104.6 257.88,107.9 269.54,106.7 281.21,109 292.87,105.9 304.54,105.5 316.2,103 327.87,93.8 339.53,94.4 351.2,90.6 362.86,87.5 374.53,78.1 386.19,85 397.86,79.1 409.52,79.1 421.19,83.75 432.85,85 444.52,85.9 456.18,82.2 467.85,88.4 479.51,89.7 491.18,91.4 502.84,97.8 514.51,104.1 526.17,96.25 537.84,92.8 549.5,92.8 561.17,94.7 572.84,93.75 584.5,95.3 596.16,97.8 607.83,95.3 619.5,93.75 631.16,93.75 642.83,93.1 654.49,91.6 666.15,97.8 677.82,94.7 689.49,87.8 701.15,88.4 712.81,88" fill="none" stroke="#ff0000" stroke-width="2" stroke-linejoin="round"/>
<circle cx="36.24" cy="105" r="3.4" fill="#ff0000"/>
<circle cx="47.91" cy="101.9" r="3.4" fill="#ff0000"/>
<circle cx="59.57" cy="105.8" r="3.4" fill="#ff0000"/>
<circle cx="71.24" cy="108.8" r="3.4" fill="#ff0000"/>
<circle cx="82.91" cy="105.8" r="3.4" fill="#ff0000"/>
<circle cx="94.57" cy="109.5" r="3.4" fill="#ff0000"/>
<circle cx="106.23" cy="108.1" r="3.4" fill="#ff0000"/>
<circle cx="117.9" cy="106.5" r="3.4" fill="#ff0000"/>
<circle cx="129.56" cy="104.9" r="3.4" fill="#ff0000"/>
<circle cx="141.23" cy="104.7" r="3.4" fill="#ff0000"/>
<circle cx="152.89" cy="106.5" r="3.4" fill="#ff0000"/>
<circle cx="164.56" cy="104.9" r="3.4" fill="#ff0000"/>
<circle cx="176.22" cy="104.2" r="3.4" fill="#ff0000"/>
<circle cx="187.89" cy="101.9" r="3.4" fill="#ff0000"/>
<circle cx="199.56" cy="105.5" r="3.4" fill="#ff0000"/>
<circle cx="211.22" cy="99" r="3.4" fill="#ff0000"/>
<circle cx="222.88" cy="105.1" r="3.4" fill="#ff0000"/>
<circle cx="234.55" cy="104.6" r="3.4" fill="#ff0000"/>
<circle cx="246.21" cy="104.6" r="3.4" fill="#ff0000"/>
<circle cx="257.88" cy="107.9" r="3.4" fill="#ff0000"/>
<circle cx="269.54" cy="106.7" r="3.4" fill="#ff0000"/>
<circle cx="281.21" cy="109" r="3.4" fill="#ff0000"/>
<circle cx="292.87" cy="105.9" r="3.4" fill="#ff0000"/>
<circle cx="304.54" cy="105.5" r="3.4" fill="#ff0000"/>
<circle cx="316.2" cy="103" r="3.4" fill="#ff0000"/>
<circle cx="327.87" cy="93.8" r="3.4" fill="#ff0000"/>
<circle cx="339.53" cy="94.4" r="3.4" fill="#ff0000"/>
<circle cx="351.2" cy="90.6" r="3.4" fill="#ff0000"/>
<circle cx="362.86" cy="87.5" r="3.4" fill="#ff0000"/>
<circle cx="374.53" cy="78.1" r="3.4" fill="#ff0000"/>
<circle cx="386.19" cy="85" r="3.4" fill="#ff0000"/>
<circle cx="397.86" cy="79.1" r="3.4" fill="#ff0000"/>
<circle cx="409.52" cy="79.1" r="3.4" fill="#ff0000"/>
<circle cx="421.19" cy="83.75" r="3.4" fill="#ff0000"/>
<circle cx="432.85" cy="85" r="3.4" fill="#ff0000"/>
<circle cx="444.52" cy="85.9" r="3.4" fill="#ff0000"/>
<circle cx="456.18" cy="82.2" r="3.4" fill="#ff0000"/>
<circle cx="467.85" cy="88.4" r="3.4" fill="#ff0000"/>
<circle cx="479.51" cy="89.7" r="3.4" fill="#ff0000"/>
<circle cx="491.18" cy="91.4" r="3.4" fill="#ff0000"/>
<circle cx="502.84" cy="97.8" r="3.4" fill="#ff0000"/>
<circle cx="514.51" cy="104.1" r="3.4" fill="#ff0000"/>
<circle cx="526.17" cy="96.25" r="3.4" fill="#ff0000"/>
<circle cx="537.84" cy="92.8" r="3.4" fill="#ff0000"/>
<circle cx="549.5" cy="92.8" r="3.4" fill="#ff0000"/>
<circle cx="561.17" cy="94.7" r="3.4" fill="#ff0000"/>
<circle cx="572.84" cy="93.75" r="3.4" fill="#ff0000"/>
<circle cx="584.5" cy="95.3" r="3.4" fill="#ff0000"/>
<circle cx="596.16" cy="97.8" r="3.4" fill="#ff0000"/>
<circle cx="607.83" cy="95.3" r="3.4" fill="#ff0000"/>
<circle cx="619.5" cy="93.75" r="3.4" fill="#ff0000"/>
<circle cx="631.16" cy="93.75" r="3.4" fill="#ff0000"/>
<circle cx="642.83" cy="93.1" r="3.4" fill="#ff0000"/>
<circle cx="654.49" cy="91.6" r="3.4" fill="#ff0000"/>
<circle cx="666.15" cy="97.8" r="3.4" fill="#ff0000"/>
<circle cx="677.82" cy="94.7" r="3.4" fill="#ff0000"/>
<circle cx="689.49" cy="87.8" r="3.4" fill="#ff0000"/>
<circle cx="701.15" cy="88.4" r="3.4" fill="#ff0000"/>
<circle cx="712.81" cy="88" r="3.4" fill="#ff0000"/>
<line x1="106.23" x2="106.23" y1="128.7" y2="15.0" stroke="#222" stroke-width="1.6" stroke-dasharray="3.6 2.5"/>
<line x1="187.89" x2="187.89" y1="128.7" y2="15.0" stroke="#222" stroke-width="1.6" stroke-dasharray="3.6 2.5"/>
<line x1="269.54" x2="269.54" y1="128.7" y2="15.0" stroke="#222" stroke-width="1.6" stroke-dasharray="3.6 2.5"/>
<line x1="351.2" x2="351.2" y1="128.7" y2="15.0" stroke="#136313" stroke-width="2.4"/>
<line x1="351.2" x2="351.2" y1="128.7" y2="15.0" stroke="#222" stroke-width="1.6" stroke-dasharray="3.6 2.5"/>
<line x1="432.85" x2="432.85" y1="128.7" y2="15.0" stroke="#222" stroke-width="1.6" stroke-dasharray="3.6 2.5"/>
<line x1="514.51" x2="514.51" y1="128.7" y2="15.0" stroke="#222" stroke-width="1.6" stroke-dasharray="3.6 2.5"/>
<line x1="596.16" x2="596.16" y1="128.7" y2="15.0" stroke="#222" stroke-width="1.6" stroke-dasharray="3.6 2.5"/>
<line x1="677.82" x2="677.82" y1="128.7" y2="15.0" stroke="#222" stroke-width="1.6" stroke-dasharray="3.6 2.5"/>
</g>
<text x="28" y="35.00" text-anchor="end" font-family="'DejaVu Sans', 'Liberation Sans', sans-serif" font-size="8.3" fill="#262626">1.5</text>
<text x="28" y="67.70" text-anchor="end" font-family="'DejaVu Sans', 'Liberation Sans', sans-serif" font-size="8.3" fill="#262626">1.0</text>
<text x="28" y="100.40" text-anchor="end" font-family="'DejaVu Sans', 'Liberation Sans', sans-serif" font-size="8.3" fill="#262626">0.5</text>
<rect x="36.7" y="147.2" width="664.70" height="115.20" fill="#EAEAF2"/>
<g clip-path="url(#c1)">
<line x1="36.7" x2="701.4" y1="172.8" y2="172.8" stroke="#ffffff" stroke-opacity="0.85" stroke-width="1"/>
<line x1="36.7" x2="701.4" y1="201.3" y2="201.3" stroke="#ffffff" stroke-opacity="0.85" stroke-width="1"/>
<line x1="36.7" x2="701.4" y1="229.8" y2="229.8" stroke="#ffffff" stroke-opacity="0.85" stroke-width="1"/>
<line x1="36.7" x2="701.4" y1="258.3" y2="258.3" stroke="#ffffff" stroke-opacity="0.85" stroke-width="1"/>
<polyline points="24.87,245.1 25.36,248 25.84,252.26 26.33,253.67 26.82,255.3 27.3,252.17 27.79,249.66 28.28,244.43 28.76,234.97 29.25,232.1 29.74,220.97 30.22,217.78 30.71,213.6 31.2,227.07 31.68,231.22 32.17,228.45 32.66,220.85 33.14,219.22 33.63,223.85 34.12,226.94 34.6,230.12 35.09,233.73 35.58,236.25 36.06,242.27 36.55,246.86 37.04,251.04 37.52,253.47 38.01,254.1 38.5,255.3 38.98,252.66 39.47,250.48 39.96,243.89 40.44,238.13 40.93,231.37 41.42,222.72 41.9,221.68 42.39,213.6 42.88,220.46 43.36,227.02 43.85,222.11 44.34,221.53 44.82,218.34 45.31,218.34 45.79,227.45 46.28,229.36 46.77,235.44 47.25,240.72 47.74,243.94 48.23,251.22 48.71,252.6 49.2,254.64 49.69,254.97 50.17,255.3 50.66,254.4 51.15,253.04 51.63,246.91 52.12,238.85 52.61,234.63 53.09,222.75 53.58,209.87 54.07,201.5 54.55,215.63 55.04,229.14 55.53,221.5 56.01,227.88 56.5,222.33 56.99,221.27 57.47,225.43 57.96,235.9 58.45,239.72 58.93,244.6 59.42,247.53 59.91,251.58 60.39,253.26 60.88,254.57 61.37,255.04 61.85,255.3 62.34,254.48 62.83,253.74 63.31,247.19 63.8,242.46 64.29,233.56 64.77,230.04 65.26,224.16 65.75,211.2 66.23,221.03 66.72,233.07 67.21,225.42 67.69,221.98 68.18,217.97 68.67,217.97 69.15,231.88 69.64,233.98 70.13,238.77 70.61,244.73 71.1,249.01 71.59,249.54 72.07,252.17 72.56,254.45 73.05,254.88 73.53,255.3 74.02,254.39 74.51,253.06 74.99,249.17 75.48,240.13 75.97,237.1 76.45,224.29 76.94,218.89 77.43,212.4 77.91,222.95 78.4,226.87 78.89,226 79.37,222.56 79.86,218.89 80.35,218.89 80.83,225.02 81.32,231.79 81.81,241.62 82.29,241.94 82.78,248.48 83.27,253.36 83.75,254.81 84.24,255.17 84.72,255.28 85.21,255.3 85.7,255.15 86.18,255.08 86.67,251.53 87.16,240.59 87.64,225.94 88.13,233.25 88.62,216.2 89.1,203.9 89.59,224.68 90.08,234.02 90.56,216.2 91.05,216.2 91.54,216.2 92.02,221.39 92.51,222.76 93,232.81 93.48,245.85 93.97,245.15 94.46,252.39 94.94,254.43 95.43,254.83 95.92,255.2 96.4,255.28 96.89,255.3 97.38,255.18 97.86,255 98.35,252.77 98.84,249.65 99.32,246 99.81,239.37 100.3,238.53 100.78,234 101.27,238.53 101.76,249.68 102.24,245.46 102.73,238.53 103.22,238.53 103.7,243.55 104.19,243.78 104.68,245.65 105.16,250.71 105.65,251.45 106.14,253.38 106.62,253.3 107.11,254.05 107.6,254.82 108.08,255.11 108.57,255.3 109.06,254.74 109.54,254.53 110.03,252.84 110.52,249.64 111,247.49 111.49,245.24 111.98,243.28 112.46,240 112.95,242.05 113.44,248.06 113.92,246.24 114.41,246.66 114.9,243.95 115.38,242.81 115.87,246.53 116.36,247.51 116.84,249.93 117.33,249.9 117.82,252.03 118.3,253.09 118.79,253.63 119.28,255.09 119.76,255.2 120.25,255.3 120.74,254.96 121.22,254.41 121.71,250.2 122.2,245.67 122.68,221.13 123.17,213.38 123.65,208.96 124.14,196.7 124.63,228.49 125.11,232.85 125.6,208.96 126.09,216.25 126.57,208.96 127.06,226.03 127.55,226.06 128.03,233.28 128.52,239.34 129.01,245.05 129.49,249.81 129.98,247.73 130.47,249.85 130.95,253.05 131.44,254.02 131.93,255.3 132.41,252.68 132.9,250.96 133.39,244.39 133.87,235.24 134.36,233.42 134.85,230.17 135.33,224.27 135.82,213.6 136.31,226.96 136.79,224.63 137.28,225.51 137.77,228.52 138.25,220.34 138.74,218.31 139.23,230.71 139.71,235.76 140.2,234.73 140.69,237.8 141.17,242.04 141.66,252.77 142.15,253.96 142.63,255.06 143.12,255.19 143.61,255.3 144.09,255 144.58,254.25 145.07,250.17 145.55,241.52 146.04,237.16 146.53,226.08 147.01,217.28 147.5,207.6 147.99,217.28 148.47,232.71 148.96,222.83 149.45,217.58 149.93,217.28 150.42,219.12 150.91,221.2 151.39,220.08 151.88,244.82 152.37,245.8 152.85,249.96 153.34,248.86 153.83,250.41 154.31,253.83 154.8,254.37 155.29,255.3 155.77,253.85 156.26,251.62 156.75,243.44 157.23,239.84 157.72,227.7 158.21,220.41 158.69,219.22 159.18,206.3 159.67,226.41 160.15,225.21 160.64,224.8 161.12,225.18 161.61,217.48 162.1,223.53 162.58,223.52 163.07,236.32 163.56,236.38 164.04,241.43 164.53,241.8 165.02,251.64 165.5,252.28 165.99,254.83 166.48,254.96 166.96,255.3 167.45,254.39 167.94,253.73 168.42,250.11 168.91,244.93 169.4,227.39 169.88,222.53 170.37,223.58 170.86,203.9 171.34,225.78 171.83,233.53 172.32,232.03 172.8,214.58 173.29,212.05 173.78,228.94 174.26,227.99 174.75,231.3 175.24,233.74 175.72,248.73 176.21,247.36 176.7,251.62 177.18,253.29 177.67,254.2 178.16,254.62 178.64,255.3 179.13,254.16 179.62,253.29 180.1,250.79 180.59,247.86 181.08,245.71 181.56,244.19 182.05,244.51 182.54,238.9 183.02,241.81 183.51,244.38 184,245.04 184.48,243.67 184.97,240.57 185.46,242.81 185.94,246 186.43,246.4 186.92,247.68 187.4,249.4 187.89,250.98 188.38,252.5 188.86,253.7 189.35,254.83 189.84,255.1 190.32,255.3 190.81,254.71 191.3,254.07 191.78,251.76 192.27,248.19 192.76,245.95 193.24,244.54 193.73,247.2 194.22,240 194.7,245.3 195.19,245.61 195.68,243.41 196.16,242.05 196.65,242.05 197.14,245.26 197.62,242.05 198.11,246.49 198.6,248.79 199.08,250.44 199.57,252.29 200.06,249.2 200.54,251.9 201.03,254.16 201.51,254.77 202,255.3 202.49,253.93 202.97,253.12 203.46,246.71 203.95,239.12 204.43,234.78 204.92,220.88 205.41,216.33 205.89,203 206.38,217.75 206.87,235.91 207.35,222.24 207.84,210.92 208.33,225.57 208.81,224.38 209.3,225.86 209.79,236.93 210.27,238.7 210.76,242.13 211.25,248.01 211.73,249.32 212.22,251.57 212.71,254.38 213.19,254.7 213.68,255.3 214.17,253.95 214.65,252.54 215.14,245.32 215.63,240.65 216.11,229.17 216.6,223.3 217.09,225.54 217.57,212.4 218.06,219.12 218.55,227.64 219.03,229.51 219.52,220.99 220.01,218.28 220.49,223.94 220.98,225.17 221.47,230.34 221.95,238.62 222.44,241.69 222.93,246.54 223.41,246.78 223.9,250.28 224.39,253.43 224.87,254.11 225.36,255.3 225.85,252.83 226.33,251.13 226.82,245.8 227.31,239.82 227.79,230.78 228.28,223.99 228.77,221.74 229.25,207.6 229.74,220.15 230.23,230.42 230.71,224.73 231.2,219.35 231.69,219.87 232.17,232.07 232.66,229.1 233.15,233.22 233.63,232.6 234.12,244.29 234.61,242.21 235.09,249.77 235.58,251.47 236.07,254.37 236.55,254.79 237.04,255.3 237.53,254.07 238.01,252.5 238.5,246.06 238.98,240.14 239.47,230.94 239.96,223.8 240.44,216.27 240.93,200.3 241.42,225.55 241.9,234.98 242.39,223.41 242.88,209.25 243.36,208.4 243.85,214 244.34,221.07 244.82,234.92 245.31,236.92 245.8,247.71 246.28,246.82 246.77,251.55 247.26,254.08 247.74,255.07 248.23,255.18 248.72,255.3 249.2,254.7 249.69,253.55 250.18,247.23 250.66,246.41 251.15,242.96 251.64,222.58 252.12,217.2 252.61,208.8 253.1,224.34 253.58,233.2 254.07,225.84 254.56,222.02 255.04,217.2 255.53,217.2 256.02,229.44 256.5,233.02 256.99,235.25 257.48,247.62 257.96,250.25 258.45,254.41 258.94,254.77 259.42,255.24 259.91,255.27 260.4,255.3 260.88,255.2 261.37,255.1 261.86,253.39 262.34,251.3 262.83,247.68 263.32,240.89 263.8,239.44 264.29,235.3 264.78,240.9 265.26,250.22 265.75,243.14 266.24,239.44 266.72,239.44 267.21,243.1 267.7,246.75 268.18,247.98 268.67,251.42 269.16,252.2 269.64,253.73 270.13,252.4 270.62,253.32 271.1,254.63 271.59,255.01 272.08,255.3 272.56,254.47 273.05,254.17 273.54,249.89 274.02,247.72 274.51,243.85 275,241.09 275.48,241.09 275.97,239 276.46,241.09 276.94,242.92 277.43,241.09 277.92,241.55 278.4,241.09 278.89,241.09 279.37,243.4 279.86,245.35 280.35,246.68 280.83,249.84 281.32,249.58 281.81,249.26 282.29,250.91 282.78,253.85 283.27,254.53 283.75,255.3 284.24,253.23 284.73,251.39 285.21,243.88 285.7,239.31 286.19,227.57 286.67,229.25 287.16,218.2 287.65,211.2 288.13,218.59 288.62,232.66 289.11,230.97 289.59,216.86 290.08,220.16 290.57,230.2 291.05,232.23 291.54,232.32 292.03,233.83 292.51,241.25 293,243.06 293.49,248.49 293.97,250.95 294.46,253.79 294.95,254.62 295.43,255.3 295.92,253.77 296.41,252.56 296.89,243.93 297.38,240.14 297.87,229.31 298.35,225.21 298.84,217.16 299.33,211.2 299.81,217.16 300.3,227.24 300.79,223.12 301.27,217.16 301.76,232.26 302.25,226.88 302.73,238.03 303.22,231.81 303.71,235.31 304.19,240.04 304.68,244.55 305.17,252.84 305.65,253.29 306.14,255.03 306.63,255.21 307.11,255.3 307.6,254.92 308.09,254.5 308.57,249.81 309.06,241.54 309.55,229.58 310.03,224.28 310.52,207.51 311.01,195.5 311.49,223.93 311.98,225.78 312.47,220.17 312.95,213.6 313.44,211.31 313.93,217.4 314.41,229.65 314.9,241.21 315.39,237.55 315.87,247.74 316.36,249.54 316.85,248.14 317.33,251.23 317.82,253.44 318.3,254.71 318.79,255.3 319.28,253.63 319.76,251.71 320.25,245.5 320.74,242.1 321.22,226.84 321.71,227.25 322.2,219.44 322.68,208.8 323.17,224.41 323.66,230.47 324.14,222.91 324.63,222.18 325.12,216.01 325.6,227.39 326.09,228.29 326.58,236.19 327.06,241.14 327.55,238.41 328.04,244.52 328.52,252.44 329.01,254.46 329.5,255.13 329.98,255.24 330.47,255.3 330.96,255.03 331.44,254.75 331.93,250.59 332.42,247.85 332.9,228.5 333.39,218.62 333.88,218.62 334.36,208.8 334.85,222.57 335.34,223.47 335.82,226.54 336.31,218.62 336.8,218.62 337.28,229.81 337.77,219.5 338.26,244.52 338.74,241.52 339.23,247.39 339.72,252.11 340.2,254.18 340.69,254.76 341.18,255.22 341.66,255.28 342.15,255.3 342.64,255.16 343.12,254.99 343.61,252.23 344.1,249.47 344.58,244.32 345.07,239.24 345.56,239.87 346.04,235 346.53,239.24 347.02,243.49 347.5,239.24 347.99,239.24 348.48,239.24 348.96,240.04 349.45,244.83 349.94,247.87 350.42,250.21 350.91,251.03 351.4,253.36 351.88,248.43 352.37,250.05 352.86,252.94 353.34,253.69 353.83,255.3 354.32,252.38 354.8,251.17 355.29,245.52 355.77,241.49 356.26,241.12 356.75,232.31 357.23,232.31 357.72,230 358.21,237.39 358.69,235.85 359.18,234.37 359.67,234.21 360.15,232.31 360.64,232.31 361.13,236.96 361.61,240.12 362.1,239.24 362.59,243.19 363.07,245.75 363.56,251.06 364.05,253.82 364.53,255.02 365.02,255.18 365.51,255.3 365.99,254.9 366.48,254.34 366.97,250.51 367.45,244.61 367.94,233.92 368.43,223.04 368.91,214.54 369.4,205.1 369.89,221.17 370.37,230.48 370.86,230.01 371.35,224.5 371.83,214.54 372.32,236.74 372.81,229.91 373.29,225.57 373.78,247 374.27,244.25 374.75,251.69 375.24,248.89 375.73,250.54 376.21,253.6 376.7,254.58 377.19,255.3 377.67,253.91 378.16,252.02 378.65,246.53 379.13,240.76 379.62,233.67 380.11,226.97 380.59,225.06 381.08,220.8 381.57,232.97 382.05,228.74 382.54,239.32 383.03,225.06 383.51,226.59 384,229.12 384.49,233.69 384.97,236.89 385.46,239.53 385.95,243.65 386.43,247.42 386.92,253.88 387.41,254.96 387.89,255.24 388.38,255.29 388.87,255.3 389.35,255.23 389.84,255.02 390.33,253.13 390.81,247.68 391.3,226.92 391.79,230.28 392.27,220.14 392.76,193.1 393.25,229.19 393.73,246.32 394.22,238.23 394.71,211.83 395.19,209.41 395.68,214.38 396.16,227.78 396.65,244.54 397.14,242.98 397.62,247.8 398.11,252.96 398.6,245.15 399.08,248.81 399.57,252.09 400.06,253.16 400.54,255.3 401.03,251.21 401.52,250.28 402,242.72 402.49,238.33 402.98,230.82 403.46,225.83 403.95,224.16 404.44,217.2 404.92,225.07 405.41,231.54 405.9,236.56 406.38,226.67 406.87,224.58 407.36,229.44 407.84,232.11 408.33,231.91 408.82,234.39 409.3,237.02 409.79,241.24 410.28,252.38 410.76,253.42 411.25,254.98 411.74,255.08 412.22,255.3 412.71,254.81 413.2,254.1 413.68,249.53 414.17,245.09 414.66,231.03 415.14,216.76 415.63,216.91 416.12,208.8 416.6,224.39 417.09,235.14 417.58,218.93 418.06,227.28 418.55,218.38 419.04,228.04 419.52,230.26 420.01,238.01 420.5,240.77 420.98,248.42 421.47,249.36 421.96,250.79 422.44,252.93 422.93,254.27 423.42,254.51 423.9,255.3 424.39,253.84 424.88,253.74 425.36,249.59 425.85,248.21 426.34,245.72 426.82,240.47 427.31,237.46 427.8,235.3 428.28,242.34 428.77,243.97 429.26,241.97 429.74,242.74 430.23,237.45 430.72,240.2 431.2,243.33 431.69,245.25 432.18,244.12 432.66,246.5 433.15,250 433.63,250.4 434.12,251.38 434.61,253.7 435.09,254.13 435.58,255.3 436.07,253.4 436.55,252.46 437.04,249.79 437.53,247.36 438.01,243.77 438.5,243.35 438.99,242.95 439.47,240 439.96,241.29 440.45,243.71 440.93,243.5 441.42,241.77 441.91,241.29 442.39,242.27 442.88,245.61 443.37,244.7 443.85,246.44 444.34,247.22 444.83,249.81 445.31,250.52 445.8,253.39 446.29,254.97 446.77,255.03 447.26,255.3 447.75,254.63 448.23,253.93 448.72,246.51 449.21,238.25 449.69,226.18 450.18,222.86 450.67,226.25 451.15,216 451.64,222.86 452.13,233.5 452.61,222.86 453.1,222.86 453.59,223.74 454.07,227.48 454.56,233.36 455.05,237.47 455.53,239.97 456.02,243.1 456.51,246.17 456.99,251.3 457.48,252.81 457.97,254.34 458.45,254.87 458.94,255.3 459.43,254.71 459.91,253.67 460.4,247.09 460.89,242.52 461.37,225.52 461.86,224.09 462.35,221.99 462.83,216 463.32,228.09 463.81,233.49 464.29,229.59 464.78,223.73 465.27,221.99 465.75,223.35 466.24,225.55 466.73,239.48 467.21,238.95 467.7,243.58 468.19,245.2 468.67,247.34 469.16,249.35 469.65,252.96 470.13,253.59 470.62,255.3 471.11,252.54 471.59,250.88 472.08,244 472.57,238.06 473.05,236.23 473.54,226.29 474.02,226.93 474.51,217.2 475,223.48 475.48,233.24 475.97,231.54 476.46,221 476.94,223.42 477.43,227.13 477.92,232.7 478.4,235.1 478.89,236.42 479.38,240.32 479.86,244.97 480.35,247.26 480.84,250.73 481.32,253.97 481.81,254.33 482.3,255.3 482.78,253.25 483.27,252.24 483.76,244.19 484.24,242.18 484.73,229.31 485.22,229.97 485.7,221.01 486.19,216 486.68,221.71 487.16,226.1 487.65,223.03 488.14,221.01 488.62,223.42 489.11,221.01 489.6,221.87 490.08,236.24 490.57,238.78 491.06,242.35 491.54,244.74 492.03,248.33 492.52,252.4 493,253.59 493.49,254.43 493.98,255.3 494.46,253.16 494.95,252.11 495.44,243.48 495.92,237.93 496.41,232.84 496.9,220.56 497.38,217.71 497.87,212.4 498.36,230.42 498.84,231.95 499.33,224.48 499.82,224.5 500.3,217.71 500.79,224.1 501.28,228.62 501.76,232.46 502.25,239.65 502.74,241.97 503.22,245.9 503.71,255.17 504.2,255.24 504.68,255.29 505.17,255.3 505.66,255.3 506.14,255.29 506.63,255.25 507.12,254.28 507.6,252.9 508.09,250.66 508.58,244.04 509.06,244.04 509.55,240 510.04,244.04 510.52,251.83 511.01,245.16 511.5,247.66 511.98,244.57 512.47,247.41 512.95,248.05 513.44,250.57 513.93,252.17 514.41,253.67 514.9,254.11 515.39,251.45 515.87,252.86 516.36,254.25 516.85,254.72 517.33,255.3 517.82,254.1 518.31,253.49 518.79,250.24 519.28,249.96 519.77,243.54 520.25,245.57 520.74,242.62 521.23,240 521.71,245.29 522.2,246.13 522.69,247 523.17,245.36 523.66,245.32 524.15,243.79 524.63,244.93 525.12,246.97 525.61,247.03 526.09,248.62 526.58,250.67 527.07,250.53 527.55,252.45 528.04,254.45 528.53,254.73 529.01,255.3 529.5,254.23 529.99,253.21 530.47,246.67 530.96,242.62 531.45,233.69 531.93,227.84 532.42,218.82 532.91,212.8 533.39,232.3 533.88,233.45 534.37,226.64 534.85,227.96 535.34,218.82 535.83,226.28 536.31,229.95 536.8,236.61 537.29,239.67 537.77,243.49 538.26,249.11 538.75,250.32 539.23,252.24 539.72,253.82 540.21,254.62 540.69,255.3 541.18,253.81 541.67,252.83 542.15,247.31 542.64,239.03 543.13,234.85 543.61,220.83 544.1,222.05 544.59,211.5 545.07,226.29 545.56,232.25 546.05,228.53 546.53,219.07 547.02,217.29 547.51,231.64 547.99,230.3 548.48,233.47 548.97,241.34 549.45,244.38 549.94,246.94 550.43,253.96 550.91,253.86 551.4,255.09 551.88,255.22 552.37,255.3 552.86,254.99 553.34,254.09 553.83,249.52 554.32,240.59 554.8,234.63 555.29,215.97 555.78,213.31 556.26,202.4 556.75,223.38 557.24,233.6 557.72,218.84 558.21,213.31 558.7,213.31 559.18,224.35 559.67,225.17 560.16,245.56 560.64,237.75 561.13,246.41 561.62,249.39 562.1,242.72 562.59,246.77 563.08,250.22 563.56,252.07 564.05,255.3 564.54,250.19 565.02,247.65 565.51,238.75 566,236.64 566.48,231.84 566.97,227.24 567.46,223.43 567.94,215.4 568.43,226.93 568.92,234.12 569.4,228.93 569.89,229.55 570.38,225.16 570.86,226.42 571.35,231.06 571.84,233.05 572.32,237.85 572.81,237.4 573.3,241.29 573.78,246.68 574.27,249.59 574.76,253.55 575.24,254.19 575.73,255.3 576.22,252.77 576.7,252.19 577.19,244.14 577.68,234.32 578.16,231.29 578.65,223.77 579.14,221.18 579.62,216.7 580.11,221.18 580.6,228.53 581.08,225.57 581.57,221.18 582.06,221.18 582.54,231.91 583.03,226.99 583.52,234.32 584,236.23 584.49,242.02 584.98,245.23 585.46,254.03 585.95,254.83 586.44,255.23 586.92,255.27 587.41,255.3 587.9,255.19 588.38,255.15 588.87,253.55 589.36,250.65 589.84,244.14 590.33,235.52 590.81,240.56 591.3,221.9 591.79,238.58 592.27,243.29 592.76,243.44 593.25,241.15 593.73,229.09 594.22,241.12 594.71,244.11 595.19,244.71 595.68,247.09 596.17,252.89 596.65,253.2 597.14,250.07 597.63,250.76 598.11,252.77 598.6,253.78 599.09,255.3 599.57,252.74 600.06,251.62 600.55,248.72 601.03,245.79 601.52,244.76 602.01,245.38 602.49,242.84 602.98,240 603.47,241.19 603.95,245.92 604.44,244.63 604.93,241.86 605.41,245.26 605.9,241.69 606.39,242.45 606.87,247.52 607.36,245.32 607.85,247.42 608.33,247.82 608.82,250.69 609.31,252.91 609.79,254.63 610.28,254.94 610.77,255.3 611.25,254.46 611.74,253.98 612.23,247.08 612.71,241.44 613.2,226.09 613.69,224.34 614.17,219.27 614.66,206.3 615.15,218.02 615.63,231.64 616.12,229.82 616.61,214.08 617.09,214.08 617.58,226.58 618.07,234.06 618.55,231.29 619.04,241.95 619.53,239.2 620.01,247.85 620.5,248.9 620.99,252.58 621.47,254.27 621.96,254.68 622.45,255.3 622.93,254.12 623.42,251.96 623.91,245.23 624.39,240.43 624.88,233.83 625.37,224.97 625.85,217.72 626.34,211.5 626.83,221.56 627.31,232.82 627.8,220.23 628.28,222.53 628.77,217.72 629.26,221.05 629.74,230.98 630.23,231.51 630.72,235.88 631.2,244.95 631.69,245.27 632.18,245.2 632.66,251.32 633.15,253.84 633.64,254.72 634.12,255.3 634.61,253.8 635.1,251.9 635.58,244.65 636.07,240.51 636.56,224.37 637.04,220.95 637.53,220.49 638.02,208.9 638.5,222.93 638.99,224.71 639.48,222.3 639.96,219.71 640.45,215.24 640.94,226.37 641.42,221.12 641.91,237.86 642.4,231.24 642.88,240.38 643.37,244.97 643.86,251.44 644.34,252.7 644.83,254.78 645.32,255.07 645.8,255.3 646.29,254.66 646.78,253.79 647.26,246.44 647.75,236.11 648.24,228.79 648.72,214.69 649.21,207.54 649.7,192 650.18,203.12 650.67,230.27 651.16,219.88 651.64,213.11 652.13,203.12 652.62,204.55 653.1,223.65 653.59,229.97 654.08,233.26 654.56,245.87 655.05,248.27 655.54,255.22 656.02,255.28 656.51,255.3 657,255.3 657.48,255.3 657.97,255.3 658.46,255.3 658.94,254.42 659.43,250.51 659.92,240.92 660.4,206.79 660.89,195.2 661.38,195.2 661.86,195.2 662.35,243.8 662.84,222.18 663.32,236.9 663.81,211.17 664.3,234.55 664.78,152.8 665.27,247.09 665.76,249.88 666.24,254.37 666.73,254.83 667.22,253.4 667.7,254.4 668.19,255.01 668.67,255.22 669.16,255.3 669.65,254.82 670.13,254.69 670.62,251.64 671.11,250.29 671.59,243.53 672.08,243.66 672.57,235.2 673.05,231 673.54,243.14 674.03,245.34 674.51,244.2 675,238.02 675.49,235.2 675.97,239.65 676.46,244.61 676.95,246.41 677.43,247.26 677.92,252.31 678.41,251.3 678.89,251.45 679.38,253.78 679.87,254.37 680.35,254.95 680.84,255.3 681.33,254.18 681.81,253.96 682.3,251.14 682.79,247.7 683.27,244.11 683.76,238.52 684.25,237.6 684.73,235 685.22,238.45 685.71,241.5 686.19,241.09 686.68,237.6 687.17,237.6 687.65,240.63 688.14,237.6 688.63,245.32 689.11,244.48 689.6,248.63 690.09,249.42 690.57,249.71 691.06,251.76 691.55,254.12 692.03,254.86 692.52,255.3 693.01,254.03 693.49,253.29 693.98,248.66 694.47,236.24 694.95,228.46 695.44,226.6 695.93,218.25 696.41,210.2 696.9,224.26 697.39,233.41 697.87,228.43 698.36,220.84 698.85,221.02 699.33,231.86 699.82,228.23 700.31,240.75 700.79,241.43 701.28,241.68 701.77,246.61 702.25,249.17 702.74,251.66 703.23,254.01 703.71,254.72 704.2,255.3 704.69,253.88 705.17,253.92 705.66,248.75 706.15,235.43 706.63,227 707.12,224.9 707.6,218.09 708.09,212 708.58,218.09 709.06,231.86 709.55,228.74 710.04,223.89 710.52,218.09 711.01,221.32 711.5,229.37 711.98,230.35 712.47,240.29 712.96,242.41 713.44,246.77 713.93,250.86 714.42,251.55 714.9,254.37 715.39,254.87 715.88,255.3 716.36,254.28 716.85,252.79 717.34,245.74 717.82,238.75 718.31,236.94 718.8,226.64 719.28,218.13 719.77,212 720.26,218.2 720.74,226.05 721.23,233.62 721.72,218.44 722.2,218.13 722.69,222.08 723.18,224.29 723.66,233.86 724.15,239.24 724.64,242.6 725.12,247.27 725.61,249.64 726.1,253.19 726.58,254.14 727.07,254.87 727.56,255.3 728.04,254.11 728.53,253.03 729.02,246.51 729.5,240.24 729.99,238.14 730.48,226.64 730.96,218.35 731.45,212 731.94,227.47 732.42,221.69 732.91,220.41 733.4,218.35 733.88,218.35 734.37,222.62 734.86,225.91 735.34,232.32 735.83,238.97 736.32,246.09 736.8,247.67" fill="none" stroke="#ff4060" stroke-opacity="0.24" stroke-width="4" stroke-linejoin="round" filter="url(#blur2)"/>
<polyline points="24.87,245.1 25.36,248 25.84,252.26 26.33,253.67 26.82,255.3 27.3,252.17 27.79,249.66 28.28,244.43 28.76,234.97 29.25,232.1 29.74,220.97 30.22,217.78 30.71,213.6 31.2,227.07 31.68,231.22 32.17,228.45 32.66,220.85 33.14,219.22 33.63,223.85 34.12,226.94 34.6,230.12 35.09,233.73 35.58,236.25 36.06,242.27 36.55,246.86 37.04,251.04 37.52,253.47 38.01,254.1 38.5,255.3 38.98,252.66 39.47,250.48 39.96,243.89 40.44,238.13 40.93,231.37 41.42,222.72 41.9,221.68 42.39,213.6 42.88,220.46 43.36,227.02 43.85,222.11 44.34,221.53 44.82,218.34 45.31,218.34 45.79,227.45 46.28,229.36 46.77,235.44 47.25,240.72 47.74,243.94 48.23,251.22 48.71,252.6 49.2,254.64 49.69,254.97 50.17,255.3 50.66,254.4 51.15,253.04 51.63,246.91 52.12,238.85 52.61,234.63 53.09,222.75 53.58,209.87 54.07,201.5 54.55,215.63 55.04,229.14 55.53,221.5 56.01,227.88 56.5,222.33 56.99,221.27 57.47,225.43 57.96,235.9 58.45,239.72 58.93,244.6 59.42,247.53 59.91,251.58 60.39,253.26 60.88,254.57 61.37,255.04 61.85,255.3 62.34,254.48 62.83,253.74 63.31,247.19 63.8,242.46 64.29,233.56 64.77,230.04 65.26,224.16 65.75,211.2 66.23,221.03 66.72,233.07 67.21,225.42 67.69,221.98 68.18,217.97 68.67,217.97 69.15,231.88 69.64,233.98 70.13,238.77 70.61,244.73 71.1,249.01 71.59,249.54 72.07,252.17 72.56,254.45 73.05,254.88 73.53,255.3 74.02,254.39 74.51,253.06 74.99,249.17 75.48,240.13 75.97,237.1 76.45,224.29 76.94,218.89 77.43,212.4 77.91,222.95 78.4,226.87 78.89,226 79.37,222.56 79.86,218.89 80.35,218.89 80.83,225.02 81.32,231.79 81.81,241.62 82.29,241.94 82.78,248.48 83.27,253.36 83.75,254.81 84.24,255.17 84.72,255.28 85.21,255.3 85.7,255.15 86.18,255.08 86.67,251.53 87.16,240.59 87.64,225.94 88.13,233.25 88.62,216.2 89.1,203.9 89.59,224.68 90.08,234.02 90.56,216.2 91.05,216.2 91.54,216.2 92.02,221.39 92.51,222.76 93,232.81 93.48,245.85 93.97,245.15 94.46,252.39 94.94,254.43 95.43,254.83 95.92,255.2 96.4,255.28 96.89,255.3 97.38,255.18 97.86,255 98.35,252.77 98.84,249.65 99.32,246 99.81,239.37 100.3,238.53 100.78,234 101.27,238.53 101.76,249.68 102.24,245.46 102.73,238.53 103.22,238.53 103.7,243.55 104.19,243.78 104.68,245.65 105.16,250.71 105.65,251.45 106.14,253.38 106.62,253.3 107.11,254.05 107.6,254.82 108.08,255.11 108.57,255.3 109.06,254.74 109.54,254.53 110.03,252.84 110.52,249.64 111,247.49 111.49,245.24 111.98,243.28 112.46,240 112.95,242.05 113.44,248.06 113.92,246.24 114.41,246.66 114.9,243.95 115.38,242.81 115.87,246.53 116.36,247.51 116.84,249.93 117.33,249.9 117.82,252.03 118.3,253.09 118.79,253.63 119.28,255.09 119.76,255.2 120.25,255.3 120.74,254.96 121.22,254.41 121.71,250.2 122.2,245.67 122.68,221.13 123.17,213.38 123.65,208.96 124.14,196.7 124.63,228.49 125.11,232.85 125.6,208.96 126.09,216.25 126.57,208.96 127.06,226.03 127.55,226.06 128.03,233.28 128.52,239.34 129.01,245.05 129.49,249.81 129.98,247.73 130.47,249.85 130.95,253.05 131.44,254.02 131.93,255.3 132.41,252.68 132.9,250.96 133.39,244.39 133.87,235.24 134.36,233.42 134.85,230.17 135.33,224.27 135.82,213.6 136.31,226.96 136.79,224.63 137.28,225.51 137.77,228.52 138.25,220.34 138.74,218.31 139.23,230.71 139.71,235.76 140.2,234.73 140.69,237.8 141.17,242.04 141.66,252.77 142.15,253.96 142.63,255.06 143.12,255.19 143.61,255.3 144.09,255 144.58,254.25 145.07,250.17 145.55,241.52 146.04,237.16 146.53,226.08 147.01,217.28 147.5,207.6 147.99,217.28 148.47,232.71 148.96,222.83 149.45,217.58 149.93,217.28 150.42,219.12 150.91,221.2 151.39,220.08 151.88,244.82 152.37,245.8 152.85,249.96 153.34,248.86 153.83,250.41 154.31,253.83 154.8,254.37 155.29,255.3 155.77,253.85 156.26,251.62 156.75,243.44 157.23,239.84 157.72,227.7 158.21,220.41 158.69,219.22 159.18,206.3 159.67,226.41 160.15,225.21 160.64,224.8 161.12,225.18 161.61,217.48 162.1,223.53 162.58,223.52 163.07,236.32 163.56,236.38 164.04,241.43 164.53,241.8 165.02,251.64 165.5,252.28 165.99,254.83 166.48,254.96 166.96,255.3 167.45,254.39 167.94,253.73 168.42,250.11 168.91,244.93 169.4,227.39 169.88,222.53 170.37,223.58 170.86,203.9 171.34,225.78 171.83,233.53 172.32,232.03 172.8,214.58 173.29,212.05 173.78,228.94 174.26,227.99 174.75,231.3 175.24,233.74 175.72,248.73 176.21,247.36 176.7,251.62 177.18,253.29 177.67,254.2 178.16,254.62 178.64,255.3 179.13,254.16 179.62,253.29 180.1,250.79 180.59,247.86 181.08,245.71 181.56,244.19 182.05,244.51 182.54,238.9 183.02,241.81 183.51,244.38 184,245.04 184.48,243.67 184.97,240.57 185.46,242.81 185.94,246 186.43,246.4 186.92,247.68 187.4,249.4 187.89,250.98 188.38,252.5 188.86,253.7 189.35,254.83 189.84,255.1 190.32,255.3 190.81,254.71 191.3,254.07 191.78,251.76 192.27,248.19 192.76,245.95 193.24,244.54 193.73,247.2 194.22,240 194.7,245.3 195.19,245.61 195.68,243.41 196.16,242.05 196.65,242.05 197.14,245.26 197.62,242.05 198.11,246.49 198.6,248.79 199.08,250.44 199.57,252.29 200.06,249.2 200.54,251.9 201.03,254.16 201.51,254.77 202,255.3 202.49,253.93 202.97,253.12 203.46,246.71 203.95,239.12 204.43,234.78 204.92,220.88 205.41,216.33 205.89,203 206.38,217.75 206.87,235.91 207.35,222.24 207.84,210.92 208.33,225.57 208.81,224.38 209.3,225.86 209.79,236.93 210.27,238.7 210.76,242.13 211.25,248.01 211.73,249.32 212.22,251.57 212.71,254.38 213.19,254.7 213.68,255.3 214.17,253.95 214.65,252.54 215.14,245.32 215.63,240.65 216.11,229.17 216.6,223.3 217.09,225.54 217.57,212.4 218.06,219.12 218.55,227.64 219.03,229.51 219.52,220.99 220.01,218.28 220.49,223.94 220.98,225.17 221.47,230.34 221.95,238.62 222.44,241.69 222.93,246.54 223.41,246.78 223.9,250.28 224.39,253.43 224.87,254.11 225.36,255.3 225.85,252.83 226.33,251.13 226.82,245.8 227.31,239.82 227.79,230.78 228.28,223.99 228.77,221.74 229.25,207.6 229.74,220.15 230.23,230.42 230.71,224.73 231.2,219.35 231.69,219.87 232.17,232.07 232.66,229.1 233.15,233.22 233.63,232.6 234.12,244.29 234.61,242.21 235.09,249.77 235.58,251.47 236.07,254.37 236.55,254.79 237.04,255.3 237.53,254.07 238.01,252.5 238.5,246.06 238.98,240.14 239.47,230.94 239.96,223.8 240.44,216.27 240.93,200.3 241.42,225.55 241.9,234.98 242.39,223.41 242.88,209.25 243.36,208.4 243.85,214 244.34,221.07 244.82,234.92 245.31,236.92 245.8,247.71 246.28,246.82 246.77,251.55 247.26,254.08 247.74,255.07 248.23,255.18 248.72,255.3 249.2,254.7 249.69,253.55 250.18,247.23 250.66,246.41 251.15,242.96 251.64,222.58 252.12,217.2 252.61,208.8 253.1,224.34 253.58,233.2 254.07,225.84 254.56,222.02 255.04,217.2 255.53,217.2 256.02,229.44 256.5,233.02 256.99,235.25 257.48,247.62 257.96,250.25 258.45,254.41 258.94,254.77 259.42,255.24 259.91,255.27 260.4,255.3 260.88,255.2 261.37,255.1 261.86,253.39 262.34,251.3 262.83,247.68 263.32,240.89 263.8,239.44 264.29,235.3 264.78,240.9 265.26,250.22 265.75,243.14 266.24,239.44 266.72,239.44 267.21,243.1 267.7,246.75 268.18,247.98 268.67,251.42 269.16,252.2 269.64,253.73 270.13,252.4 270.62,253.32 271.1,254.63 271.59,255.01 272.08,255.3 272.56,254.47 273.05,254.17 273.54,249.89 274.02,247.72 274.51,243.85 275,241.09 275.48,241.09 275.97,239 276.46,241.09 276.94,242.92 277.43,241.09 277.92,241.55 278.4,241.09 278.89,241.09 279.37,243.4 279.86,245.35 280.35,246.68 280.83,249.84 281.32,249.58 281.81,249.26 282.29,250.91 282.78,253.85 283.27,254.53 283.75,255.3 284.24,253.23 284.73,251.39 285.21,243.88 285.7,239.31 286.19,227.57 286.67,229.25 287.16,218.2 287.65,211.2 288.13,218.59 288.62,232.66 289.11,230.97 289.59,216.86 290.08,220.16 290.57,230.2 291.05,232.23 291.54,232.32 292.03,233.83 292.51,241.25 293,243.06 293.49,248.49 293.97,250.95 294.46,253.79 294.95,254.62 295.43,255.3 295.92,253.77 296.41,252.56 296.89,243.93 297.38,240.14 297.87,229.31 298.35,225.21 298.84,217.16 299.33,211.2 299.81,217.16 300.3,227.24 300.79,223.12 301.27,217.16 301.76,232.26 302.25,226.88 302.73,238.03 303.22,231.81 303.71,235.31 304.19,240.04 304.68,244.55 305.17,252.84 305.65,253.29 306.14,255.03 306.63,255.21 307.11,255.3 307.6,254.92 308.09,254.5 308.57,249.81 309.06,241.54 309.55,229.58 310.03,224.28 310.52,207.51 311.01,195.5 311.49,223.93 311.98,225.78 312.47,220.17 312.95,213.6 313.44,211.31 313.93,217.4 314.41,229.65 314.9,241.21 315.39,237.55 315.87,247.74 316.36,249.54 316.85,248.14 317.33,251.23 317.82,253.44 318.3,254.71 318.79,255.3 319.28,253.63 319.76,251.71 320.25,245.5 320.74,242.1 321.22,226.84 321.71,227.25 322.2,219.44 322.68,208.8 323.17,224.41 323.66,230.47 324.14,222.91 324.63,222.18 325.12,216.01 325.6,227.39 326.09,228.29 326.58,236.19 327.06,241.14 327.55,238.41 328.04,244.52 328.52,252.44 329.01,254.46 329.5,255.13 329.98,255.24 330.47,255.3 330.96,255.03 331.44,254.75 331.93,250.59 332.42,247.85 332.9,228.5 333.39,218.62 333.88,218.62 334.36,208.8 334.85,222.57 335.34,223.47 335.82,226.54 336.31,218.62 336.8,218.62 337.28,229.81 337.77,219.5 338.26,244.52 338.74,241.52 339.23,247.39 339.72,252.11 340.2,254.18 340.69,254.76 341.18,255.22 341.66,255.28 342.15,255.3 342.64,255.16 343.12,254.99 343.61,252.23 344.1,249.47 344.58,244.32 345.07,239.24 345.56,239.87 346.04,235 346.53,239.24 347.02,243.49 347.5,239.24 347.99,239.24 348.48,239.24 348.96,240.04 349.45,244.83 349.94,247.87 350.42,250.21 350.91,251.03 351.4,253.36 351.88,248.43 352.37,250.05 352.86,252.94 353.34,253.69 353.83,255.3 354.32,252.38 354.8,251.17 355.29,245.52 355.77,241.49 356.26,241.12 356.75,232.31 357.23,232.31 357.72,230 358.21,237.39 358.69,235.85 359.18,234.37 359.67,234.21 360.15,232.31 360.64,232.31 361.13,236.96 361.61,240.12 362.1,239.24 362.59,243.19 363.07,245.75 363.56,251.06 364.05,253.82 364.53,255.02 365.02,255.18 365.51,255.3 365.99,254.9 366.48,254.34 366.97,250.51 367.45,244.61 367.94,233.92 368.43,223.04 368.91,214.54 369.4,205.1 369.89,221.17 370.37,230.48 370.86,230.01 371.35,224.5 371.83,214.54 372.32,236.74 372.81,229.91 373.29,225.57 373.78,247 374.27,244.25 374.75,251.69 375.24,248.89 375.73,250.54 376.21,253.6 376.7,254.58 377.19,255.3 377.67,253.91 378.16,252.02 378.65,246.53 379.13,240.76 379.62,233.67 380.11,226.97 380.59,225.06 381.08,220.8 381.57,232.97 382.05,228.74 382.54,239.32 383.03,225.06 383.51,226.59 384,229.12 384.49,233.69 384.97,236.89 385.46,239.53 385.95,243.65 386.43,247.42 386.92,253.88 387.41,254.96 387.89,255.24 388.38,255.29 388.87,255.3 389.35,255.23 389.84,255.02 390.33,253.13 390.81,247.68 391.3,226.92 391.79,230.28 392.27,220.14 392.76,193.1 393.25,229.19 393.73,246.32 394.22,238.23 394.71,211.83 395.19,209.41 395.68,214.38 396.16,227.78 396.65,244.54 397.14,242.98 397.62,247.8 398.11,252.96 398.6,245.15 399.08,248.81 399.57,252.09 400.06,253.16 400.54,255.3 401.03,251.21 401.52,250.28 402,242.72 402.49,238.33 402.98,230.82 403.46,225.83 403.95,224.16 404.44,217.2 404.92,225.07 405.41,231.54 405.9,236.56 406.38,226.67 406.87,224.58 407.36,229.44 407.84,232.11 408.33,231.91 408.82,234.39 409.3,237.02 409.79,241.24 410.28,252.38 410.76,253.42 411.25,254.98 411.74,255.08 412.22,255.3 412.71,254.81 413.2,254.1 413.68,249.53 414.17,245.09 414.66,231.03 415.14,216.76 415.63,216.91 416.12,208.8 416.6,224.39 417.09,235.14 417.58,218.93 418.06,227.28 418.55,218.38 419.04,228.04 419.52,230.26 420.01,238.01 420.5,240.77 420.98,248.42 421.47,249.36 421.96,250.79 422.44,252.93 422.93,254.27 423.42,254.51 423.9,255.3 424.39,253.84 424.88,253.74 425.36,249.59 425.85,248.21 426.34,245.72 426.82,240.47 427.31,237.46 427.8,235.3 428.28,242.34 428.77,243.97 429.26,241.97 429.74,242.74 430.23,237.45 430.72,240.2 431.2,243.33 431.69,245.25 432.18,244.12 432.66,246.5 433.15,250 433.63,250.4 434.12,251.38 434.61,253.7 435.09,254.13 435.58,255.3 436.07,253.4 436.55,252.46 437.04,249.79 437.53,247.36 438.01,243.77 438.5,243.35 438.99,242.95 439.47,240 439.96,241.29 440.45,243.71 440.93,243.5 441.42,241.77 441.91,241.29 442.39,242.27 442.88,245.61 443.37,244.7 443.85,246.44 444.34,247.22 444.83,249.81 445.31,250.52 445.8,253.39 446.29,254.97 446.77,255.03 447.26,255.3 447.75,254.63 448.23,253.93 448.72,246.51 449.21,238.25 449.69,226.18 450.18,222.86 450.67,226.25 451.15,216 451.64,222.86 452.13,233.5 452.61,222.86 453.1,222.86 453.59,223.74 454.07,227.48 454.56,233.36 455.05,237.47 455.53,239.97 456.02,243.1 456.51,246.17 456.99,251.3 457.48,252.81 457.97,254.34 458.45,254.87 458.94,255.3 459.43,254.71 459.91,253.67 460.4,247.09 460.89,242.52 461.37,225.52 461.86,224.09 462.35,221.99 462.83,216 463.32,228.09 463.81,233.49 464.29,229.59 464.78,223.73 465.27,221.99 465.75,223.35 466.24,225.55 466.73,239.48 467.21,238.95 467.7,243.58 468.19,245.2 468.67,247.34 469.16,249.35 469.65,252.96 470.13,253.59 470.62,255.3 471.11,252.54 471.59,250.88 472.08,244 472.57,238.06 473.05,236.23 473.54,226.29 474.02,226.93 474.51,217.2 475,223.48 475.48,233.24 475.97,231.54 476.46,221 476.94,223.42 477.43,227.13 477.92,232.7 478.4,235.1 478.89,236.42 479.38,240.32 479.86,244.97 480.35,247.26 480.84,250.73 481.32,253.97 481.81,254.33 482.3,255.3 482.78,253.25 483.27,252.24 483.76,244.19 484.24,242.18 484.73,229.31 485.22,229.97 485.7,221.01 486.19,216 486.68,221.71 487.16,226.1 487.65,223.03 488.14,221.01 488.62,223.42 489.11,221.01 489.6,221.87 490.08,236.24 490.57,238.78 491.06,242.35 491.54,244.74 492.03,248.33 492.52,252.4 493,253.59 493.49,254.43 493.98,255.3 494.46,253.16 494.95,252.11 495.44,243.48 495.92,237.93 496.41,232.84 496.9,220.56 497.38,217.71 497.87,212.4 498.36,230.42 498.84,231.95 499.33,224.48 499.82,224.5 500.3,217.71 500.79,224.1 501.28,228.62 501.76,232.46 502.25,239.65 502.74,241.97 503.22,245.9 503.71,255.17 504.2,255.24 504.68,255.29 505.17,255.3 505.66,255.3 506.14,255.29 506.63,255.25 507.12,254.28 507.6,252.9 508.09,250.66 508.58,244.04 509.06,244.04 509.55,240 510.04,244.04 510.52,251.83 511.01,245.16 511.5,247.66 511.98,244.57 512.47,247.41 512.95,248.05 513.44,250.57 513.93,252.17 514.41,253.67 514.9,254.11 515.39,251.45 515.87,252.86 516.36,254.25 516.85,254.72 517.33,255.3 517.82,254.1 518.31,253.49 518.79,250.24 519.28,249.96 519.77,243.54 520.25,245.57 520.74,242.62 521.23,240 521.71,245.29 522.2,246.13 522.69,247 523.17,245.36 523.66,245.32 524.15,243.79 524.63,244.93 525.12,246.97 525.61,247.03 526.09,248.62 526.58,250.67 527.07,250.53 527.55,252.45 528.04,254.45 528.53,254.73 529.01,255.3 529.5,254.23 529.99,253.21 530.47,246.67 530.96,242.62 531.45,233.69 531.93,227.84 532.42,218.82 532.91,212.8 533.39,232.3 533.88,233.45 534.37,226.64 534.85,227.96 535.34,218.82 535.83,226.28 536.31,229.95 536.8,236.61 537.29,239.67 537.77,243.49 538.26,249.11 538.75,250.32 539.23,252.24 539.72,253.82 540.21,254.62 540.69,255.3 541.18,253.81 541.67,252.83 542.15,247.31 542.64,239.03 543.13,234.85 543.61,220.83 544.1,222.05 544.59,211.5 545.07,226.29 545.56,232.25 546.05,228.53 546.53,219.07 547.02,217.29 547.51,231.64 547.99,230.3 548.48,233.47 548.97,241.34 549.45,244.38 549.94,246.94 550.43,253.96 550.91,253.86 551.4,255.09 551.88,255.22 552.37,255.3 552.86,254.99 553.34,254.09 553.83,249.52 554.32,240.59 554.8,234.63 555.29,215.97 555.78,213.31 556.26,202.4 556.75,223.38 557.24,233.6 557.72,218.84 558.21,213.31 558.7,213.31 559.18,224.35 559.67,225.17 560.16,245.56 560.64,237.75 561.13,246.41 561.62,249.39 562.1,242.72 562.59,246.77 563.08,250.22 563.56,252.07 564.05,255.3 564.54,250.19 565.02,247.65 565.51,238.75 566,236.64 566.48,231.84 566.97,227.24 567.46,223.43 567.94,215.4 568.43,226.93 568.92,234.12 569.4,228.93 569.89,229.55 570.38,225.16 570.86,226.42 571.35,231.06 571.84,233.05 572.32,237.85 572.81,237.4 573.3,241.29 573.78,246.68 574.27,249.59 574.76,253.55 575.24,254.19 575.73,255.3 576.22,252.77 576.7,252.19 577.19,244.14 577.68,234.32 578.16,231.29 578.65,223.77 579.14,221.18 579.62,216.7 580.11,221.18 580.6,228.53 581.08,225.57 581.57,221.18 582.06,221.18 582.54,231.91 583.03,226.99 583.52,234.32 584,236.23 584.49,242.02 584.98,245.23 585.46,254.03 585.95,254.83 586.44,255.23 586.92,255.27 587.41,255.3 587.9,255.19 588.38,255.15 588.87,253.55 589.36,250.65 589.84,244.14 590.33,235.52 590.81,240.56 591.3,221.9 591.79,238.58 592.27,243.29 592.76,243.44 593.25,241.15 593.73,229.09 594.22,241.12 594.71,244.11 595.19,244.71 595.68,247.09 596.17,252.89 596.65,253.2 597.14,250.07 597.63,250.76 598.11,252.77 598.6,253.78 599.09,255.3 599.57,252.74 600.06,251.62 600.55,248.72 601.03,245.79 601.52,244.76 602.01,245.38 602.49,242.84 602.98,240 603.47,241.19 603.95,245.92 604.44,244.63 604.93,241.86 605.41,245.26 605.9,241.69 606.39,242.45 606.87,247.52 607.36,245.32 607.85,247.42 608.33,247.82 608.82,250.69 609.31,252.91 609.79,254.63 610.28,254.94 610.77,255.3 611.25,254.46 611.74,253.98 612.23,247.08 612.71,241.44 613.2,226.09 613.69,224.34 614.17,219.27 614.66,206.3 615.15,218.02 615.63,231.64 616.12,229.82 616.61,214.08 617.09,214.08 617.58,226.58 618.07,234.06 618.55,231.29 619.04,241.95 619.53,239.2 620.01,247.85 620.5,248.9 620.99,252.58 621.47,254.27 621.96,254.68 622.45,255.3 622.93,254.12 623.42,251.96 623.91,245.23 624.39,240.43 624.88,233.83 625.37,224.97 625.85,217.72 626.34,211.5 626.83,221.56 627.31,232.82 627.8,220.23 628.28,222.53 628.77,217.72 629.26,221.05 629.74,230.98 630.23,231.51 630.72,235.88 631.2,244.95 631.69,245.27 632.18,245.2 632.66,251.32 633.15,253.84 633.64,254.72 634.12,255.3 634.61,253.8 635.1,251.9 635.58,244.65 636.07,240.51 636.56,224.37 637.04,220.95 637.53,220.49 638.02,208.9 638.5,222.93 638.99,224.71 639.48,222.3 639.96,219.71 640.45,215.24 640.94,226.37 641.42,221.12 641.91,237.86 642.4,231.24 642.88,240.38 643.37,244.97 643.86,251.44 644.34,252.7 644.83,254.78 645.32,255.07 645.8,255.3 646.29,254.66 646.78,253.79 647.26,246.44 647.75,236.11 648.24,228.79 648.72,214.69 649.21,207.54 649.7,192 650.18,203.12 650.67,230.27 651.16,219.88 651.64,213.11 652.13,203.12 652.62,204.55 653.1,223.65 653.59,229.97 654.08,233.26 654.56,245.87 655.05,248.27 655.54,255.22 656.02,255.28 656.51,255.3 657,255.3 657.48,255.3 657.97,255.3 658.46,255.3 658.94,254.42 659.43,250.51 659.92,240.92 660.4,206.79 660.89,195.2 661.38,195.2 661.86,195.2 662.35,243.8 662.84,222.18 663.32,236.9 663.81,211.17 664.3,234.55 664.78,152.8 665.27,247.09 665.76,249.88 666.24,254.37 666.73,254.83 667.22,253.4 667.7,254.4 668.19,255.01 668.67,255.22 669.16,255.3 669.65,254.82 670.13,254.69 670.62,251.64 671.11,250.29 671.59,243.53 672.08,243.66 672.57,235.2 673.05,231 673.54,243.14 674.03,245.34 674.51,244.2 675,238.02 675.49,235.2 675.97,239.65 676.46,244.61 676.95,246.41 677.43,247.26 677.92,252.31 678.41,251.3 678.89,251.45 679.38,253.78 679.87,254.37 680.35,254.95 680.84,255.3 681.33,254.18 681.81,253.96 682.3,251.14 682.79,247.7 683.27,244.11 683.76,238.52 684.25,237.6 684.73,235 685.22,238.45 685.71,241.5 686.19,241.09 686.68,237.6 687.17,237.6 687.65,240.63 688.14,237.6 688.63,245.32 689.11,244.48 689.6,248.63 690.09,249.42 690.57,249.71 691.06,251.76 691.55,254.12 692.03,254.86 692.52,255.3 693.01,254.03 693.49,253.29 693.98,248.66 694.47,236.24 694.95,228.46 695.44,226.6 695.93,218.25 696.41,210.2 696.9,224.26 697.39,233.41 697.87,228.43 698.36,220.84 698.85,221.02 699.33,231.86 699.82,228.23 700.31,240.75 700.79,241.43 701.28,241.68 701.77,246.61 702.25,249.17 702.74,251.66 703.23,254.01 703.71,254.72 704.2,255.3 704.69,253.88 705.17,253.92 705.66,248.75 706.15,235.43 706.63,227 707.12,224.9 707.6,218.09 708.09,212 708.58,218.09 709.06,231.86 709.55,228.74 710.04,223.89 710.52,218.09 711.01,221.32 711.5,229.37 711.98,230.35 712.47,240.29 712.96,242.41 713.44,246.77 713.93,250.86 714.42,251.55 714.9,254.37 715.39,254.87 715.88,255.3 716.36,254.28 716.85,252.79 717.34,245.74 717.82,238.75 718.31,236.94 718.8,226.64 719.28,218.13 719.77,212 720.26,218.2 720.74,226.05 721.23,233.62 721.72,218.44 722.2,218.13 722.69,222.08 723.18,224.29 723.66,233.86 724.15,239.24 724.64,242.6 725.12,247.27 725.61,249.64 726.1,253.19 726.58,254.14 727.07,254.87 727.56,255.3 728.04,254.11 728.53,253.03 729.02,246.51 729.5,240.24 729.99,238.14 730.48,226.64 730.96,218.35 731.45,212 731.94,227.47 732.42,221.69 732.91,220.41 733.4,218.35 733.88,218.35 734.37,222.62 734.86,225.91 735.34,232.32 735.83,238.97 736.32,246.09 736.8,247.67" fill="none" stroke="#dc2436" stroke-opacity="0.7" stroke-width="1.45" stroke-dasharray="4 1.5" stroke-linejoin="round" filter="url(#blur)"/>
<polyline points="36.55,235 48.23,235.9 59.91,237.6 71.59,236.7 83.27,236.8 94.94,247.7 106.62,249 118.3,234.7 129.98,236.25 141.66,236.25 153.34,235.3 165.02,236.9 176.7,247.8 188.38,248.4 200.06,235.9 211.73,236.25 223.41,235.9 235.09,234.7 246.77,237.5 258.45,248.4 270.13,246.9 281.81,236.25 293.49,236.25 305.17,235.3 316.85,236.25 328.52,237.5 340.2,247.2 351.88,241.6 363.56,237.8 375.24,239.4 386.92,238.4 398.6,236.9 410.28,237.8 421.96,246.25 433.63,246.9 445.31,237.8 456.99,237.8 468.67,237.5 480.35,236.25 492.03,236.5 503.71,250.5 515.39,248.3 527.07,238.4 538.75,237.5 550.43,236.25 562.1,236.25 573.78,236.25 585.46,246.25 597.14,246.9 608.82,236.25 620.5,236.25 632.18,234.7 643.86,231.6 655.54,234.7 667.22,246.9 678.89,245.6 690.57,237.5 702.25,236.25 713.93,236.5" fill="none" stroke="#ff0000" stroke-width="2" stroke-linejoin="round"/>
<circle cx="36.55" cy="235" r="3.4" fill="#ff0000"/>
<circle cx="48.23" cy="235.9" r="3.4" fill="#ff0000"/>
<circle cx="59.91" cy="237.6" r="3.4" fill="#ff0000"/>
<circle cx="71.59" cy="236.7" r="3.4" fill="#ff0000"/>
<circle cx="83.27" cy="236.8" r="3.4" fill="#ff0000"/>
<circle cx="94.94" cy="247.7" r="3.4" fill="#ff0000"/>
<circle cx="106.62" cy="249" r="3.4" fill="#ff0000"/>
<circle cx="118.3" cy="234.7" r="3.4" fill="#ff0000"/>
<circle cx="129.98" cy="236.25" r="3.4" fill="#ff0000"/>
<circle cx="141.66" cy="236.25" r="3.4" fill="#ff0000"/>
<circle cx="153.34" cy="235.3" r="3.4" fill="#ff0000"/>
<circle cx="165.02" cy="236.9" r="3.4" fill="#ff0000"/>
<circle cx="176.7" cy="247.8" r="3.4" fill="#ff0000"/>
<circle cx="188.38" cy="248.4" r="3.4" fill="#ff0000"/>
<circle cx="200.06" cy="235.9" r="3.4" fill="#ff0000"/>
<circle cx="211.73" cy="236.25" r="3.4" fill="#ff0000"/>
<circle cx="223.41" cy="235.9" r="3.4" fill="#ff0000"/>
<circle cx="235.09" cy="234.7" r="3.4" fill="#ff0000"/>
<circle cx="246.77" cy="237.5" r="3.4" fill="#ff0000"/>
<circle cx="258.45" cy="248.4" r="3.4" fill="#ff0000"/>
<circle cx="270.13" cy="246.9" r="3.4" fill="#ff0000"/>
<circle cx="281.81" cy="236.25" r="3.4" fill="#ff0000"/>
<circle cx="293.49" cy="236.25" r="3.4" fill="#ff0000"/>
<circle cx="305.17" cy="235.3" r="3.4" fill="#ff0000"/>
<circle cx="316.85" cy="236.25" r="3.4" fill="#ff0000"/>
<circle cx="328.52" cy="237.5" r="3.4" fill="#ff0000"/>
<circle cx="340.2" cy="247.2" r="3.4" fill="#ff0000"/>
<circle cx="351.88" cy="241.6" r="3.4" fill="#ff0000"/>
<circle cx="363.56" cy="237.8" r="3.4" fill="#ff0000"/>
<circle cx="375.24" cy="239.4" r="3.4" fill="#ff0000"/>
<circle cx="386.92" cy="238.4" r="3.4" fill="#ff0000"/>
<circle cx="398.6" cy="236.9" r="3.4" fill="#ff0000"/>
<circle cx="410.28" cy="237.8" r="3.4" fill="#ff0000"/>
<circle cx="421.96" cy="246.25" r="3.4" fill="#ff0000"/>
<circle cx="433.63" cy="246.9" r="3.4" fill="#ff0000"/>
<circle cx="445.31" cy="237.8" r="3.4" fill="#ff0000"/>
<circle cx="456.99" cy="237.8" r="3.4" fill="#ff0000"/>
<circle cx="468.67" cy="237.5" r="3.4" fill="#ff0000"/>
<circle cx="480.35" cy="236.25" r="3.4" fill="#ff0000"/>
<circle cx="492.03" cy="236.5" r="3.4" fill="#ff0000"/>
<circle cx="503.71" cy="250.5" r="3.4" fill="#ff0000"/>
<circle cx="515.39" cy="248.3" r="3.4" fill="#ff0000"/>
<circle cx="527.07" cy="238.4" r="3.4" fill="#ff0000"/>
<circle cx="538.75" cy="237.5" r="3.4" fill="#ff0000"/>
<circle cx="550.43" cy="236.25" r="3.4" fill="#ff0000"/>
<circle cx="562.1" cy="236.25" r="3.4" fill="#ff0000"/>
<circle cx="573.78" cy="236.25" r="3.4" fill="#ff0000"/>
<circle cx="585.46" cy="246.25" r="3.4" fill="#ff0000"/>
<circle cx="597.14" cy="246.9" r="3.4" fill="#ff0000"/>
<circle cx="608.82" cy="236.25" r="3.4" fill="#ff0000"/>
<circle cx="620.5" cy="236.25" r="3.4" fill="#ff0000"/>
<circle cx="632.18" cy="234.7" r="3.4" fill="#ff0000"/>
<circle cx="643.86" cy="231.6" r="3.4" fill="#ff0000"/>
<circle cx="655.54" cy="234.7" r="3.4" fill="#ff0000"/>
<circle cx="667.22" cy="246.9" r="3.4" fill="#ff0000"/>
<circle cx="678.89" cy="245.6" r="3.4" fill="#ff0000"/>
<circle cx="690.57" cy="237.5" r="3.4" fill="#ff0000"/>
<circle cx="702.25" cy="236.25" r="3.4" fill="#ff0000"/>
<circle cx="713.93" cy="236.5" r="3.4" fill="#ff0000"/>
<line x1="106.62" x2="106.62" y1="262.4" y2="147.2" stroke="#222" stroke-width="1.6" stroke-dasharray="3.6 2.5"/>
<line x1="188.38" x2="188.38" y1="262.4" y2="147.2" stroke="#222" stroke-width="1.6" stroke-dasharray="3.6 2.5"/>
<line x1="270.13" x2="270.13" y1="262.4" y2="147.2" stroke="#222" stroke-width="1.6" stroke-dasharray="3.6 2.5"/>
<line x1="351.88" x2="351.88" y1="262.4" y2="147.2" stroke="#136313" stroke-width="2.4"/>
<line x1="351.88" x2="351.88" y1="262.4" y2="147.2" stroke="#222" stroke-width="1.6" stroke-dasharray="3.6 2.5"/>
<line x1="433.63" x2="433.63" y1="262.4" y2="147.2" stroke="#222" stroke-width="1.6" stroke-dasharray="3.6 2.5"/>
<line x1="515.39" x2="515.39" y1="262.4" y2="147.2" stroke="#222" stroke-width="1.6" stroke-dasharray="3.6 2.5"/>
<line x1="597.14" x2="597.14" y1="262.4" y2="147.2" stroke="#222" stroke-width="1.6" stroke-dasharray="3.6 2.5"/>
<line x1="678.89" x2="678.89" y1="262.4" y2="147.2" stroke="#222" stroke-width="1.6" stroke-dasharray="3.6 2.5"/>
</g>
<text x="28" y="175.80" text-anchor="end" font-family="'DejaVu Sans', 'Liberation Sans', sans-serif" font-size="8.3" fill="#262626">150</text>
<text x="28" y="204.30" text-anchor="end" font-family="'DejaVu Sans', 'Liberation Sans', sans-serif" font-size="8.3" fill="#262626">100</text>
<text x="28" y="232.80" text-anchor="end" font-family="'DejaVu Sans', 'Liberation Sans', sans-serif" font-size="8.3" fill="#262626">50</text>
<text x="28" y="261.30" text-anchor="end" font-family="'DejaVu Sans', 'Liberation Sans', sans-serif" font-size="8.3" fill="#262626">0</text>
<rect x="36.7" y="282.7" width="664.70" height="127.80" fill="#EAEAF2"/>
<g clip-path="url(#c2)">
<line x1="36.7" x2="701.4" y1="296.6" y2="296.6" stroke="#ffffff" stroke-opacity="0.85" stroke-width="1"/>
<line x1="36.7" x2="701.4" y1="324.5" y2="324.5" stroke="#ffffff" stroke-opacity="0.85" stroke-width="1"/>
<line x1="36.7" x2="701.4" y1="352.4" y2="352.4" stroke="#ffffff" stroke-opacity="0.85" stroke-width="1"/>
<line x1="36.7" x2="701.4" y1="380.3" y2="380.3" stroke="#ffffff" stroke-opacity="0.85" stroke-width="1"/>
<line x1="36.7" x2="701.4" y1="408.2" y2="408.2" stroke="#ffffff" stroke-opacity="0.85" stroke-width="1"/>
<polyline points="35.7,399.54 36.17,402.99 36.64,405.2 37.11,405.2 37.58,403.24 38.05,398.52 38.52,393.15 38.99,392.7 39.46,392.31 39.94,386.12 40.41,389.29 40.88,387.98 41.35,387.69 41.82,387.66 42.29,387.07 42.76,386.25 43.23,389.9 43.7,387.37 44.17,388.89 44.64,385.99 45.11,390.55 45.58,389.54 46.05,389.9 46.52,395.36 46.99,398.47 47.46,403.27 47.94,405.2 48.41,405.2 48.88,403.11 49.35,398.39 49.82,394.28 50.29,392.18 50.76,389.32 51.23,386.98 51.7,386.73 52.17,385.83 52.64,383.21 53.11,389.58 53.58,389.78 54.05,391.67 54.52,386.68 54.99,391.92 55.46,387.82 55.94,386.82 56.41,390.86 56.88,390.77 57.35,391.35 57.82,392.98 58.29,400.03 58.76,403.4 59.23,405.2 59.7,405.2 60.17,403.43 60.64,398.33 61.11,394.51 61.58,393.02 62.05,391.72 62.52,389.41 62.99,389.97 63.46,387.55 63.94,387.59 64.41,386.28 64.88,389.96 65.35,388.96 65.82,388.96 66.29,388.68 66.76,387.34 67.23,388.89 67.7,388.47 68.17,388.2 68.64,391.02 69.11,395.85 69.58,400.42 70.05,403.5 70.52,405.2 70.99,405.2 71.46,403.63 71.93,398.89 72.41,394.49 72.88,395.31 73.35,392.1 73.82,392.06 74.29,392.74 74.76,389.08 75.23,389.49 75.7,388.97 76.17,386.3 76.64,388.5 77.11,389.27 77.58,391.29 78.05,392.28 78.52,389.07 78.99,391.6 79.46,392.16 79.93,393.7 80.41,395.54 80.88,397.76 81.35,403.54 81.82,405.2 82.29,405.2 82.76,403.44 83.23,399.93 83.7,396.75 84.17,393.92 84.64,391.8 85.11,391.8 85.58,391.35 86.05,390.48 86.52,388.77 86.99,388.73 87.46,391.61 87.93,390.26 88.41,389.27 88.88,389.84 89.35,391.62 89.82,390.38 90.29,390.2 90.76,390.21 91.23,394.48 91.7,394.25 92.17,399.97 92.64,403.6 93.11,405.2 93.58,405.2 94.05,403.76 94.52,399.78 94.99,395.13 95.46,394.84 95.93,394.45 96.41,392.83 96.88,390.58 97.35,388.61 97.82,390.35 98.29,390.44 98.76,390.61 99.23,390.93 99.7,392.46 100.17,391.6 100.64,390.51 101.11,390.98 101.58,391.41 102.05,393.74 102.52,394.12 102.99,396.49 103.46,399.03 103.93,403.37 104.41,405.2 104.88,405.2 105.35,403.65 105.82,399.78 106.29,396.87 106.76,393.77 107.23,393.01 107.7,391.51 108.17,390.14 108.64,390.4 109.11,391.03 109.58,389.7 110.05,390.14 110.52,390.39 110.99,389.86 111.46,390.98 111.93,390.9 112.41,388.35 112.88,389.64 113.35,392.3 113.82,394.33 114.29,396.04 114.76,398.91 115.23,403.32 115.7,405.2 116.17,405.2 116.64,403.44 117.11,399.35 117.58,394.72 118.05,393.53 118.52,392.81 118.99,388.98 119.46,389.4 119.93,386.63 120.41,388.73 120.88,387.85 121.35,387.65 121.82,392.14 122.29,391.63 122.76,388.24 123.23,389.08 123.7,392.42 124.17,391.04 124.64,392.52 125.11,392.8 125.58,393.19 126.05,399.87 126.52,403.26 126.99,405.2 127.46,405.2 127.93,403.33 128.4,399.01 128.88,394.18 129.35,391.71 129.82,390.9 130.29,389.79 130.76,393.11 131.23,391.08 131.7,388.31 132.17,389.1 132.64,388.72 133.11,390.92 133.58,389.02 134.05,387.52 134.52,389.43 134.99,389.41 135.46,390.22 135.93,390.78 136.4,392.78 136.88,395.95 137.35,398.84 137.82,403.4 138.29,405.2 138.76,405.2 139.23,403.41 139.7,398.84 140.17,395.09 140.64,392.14 141.11,390.07 141.58,391.11 142.05,388.66 142.52,386.98 142.99,386.08 143.46,389.41 143.93,389.99 144.4,388.69 144.88,390.84 145.35,385.02 145.82,390.15 146.29,390.46 146.76,388.56 147.23,391.39 147.7,394.96 148.17,394.7 148.64,399.16 149.11,403.39 149.58,405.2 150.05,405.2 150.52,403.32 150.99,398.57 151.46,395.01 151.93,392.8 152.4,391.23 152.88,388.77 153.35,388.31 153.82,389.35 154.29,384.94 154.76,387.92 155.23,386.42 155.7,389.2 156.17,387.57 156.64,388.09 157.11,387.6 157.58,387.23 158.05,387.74 158.52,389.45 158.99,390.71 159.46,395.23 159.93,397.94 160.4,403.57 160.88,405.2 161.35,405.2 161.82,403.16 162.29,396.8 162.76,391.84 163.23,388.97 163.7,389 164.17,386.66 164.64,384.22 165.11,384.3 165.58,383.56 166.05,384.6 166.52,387.14 166.99,387.56 167.46,389.04 167.93,385.39 168.4,386.46 168.88,387.62 169.35,386.13 169.82,389.1 170.29,387.87 170.76,390.26 171.23,397.42 171.7,403.22 172.17,405.2 172.64,405.2 173.11,402.98 173.58,398.61 174.05,391.06 174.52,392.75 174.99,388.9 175.46,387.52 175.93,386.71 176.4,387.25 176.88,378.84 177.35,385.25 177.82,384.19 178.29,385.42 178.76,389.06 179.23,386.87 179.7,385.19 180.17,384.25 180.64,387.09 181.11,387.2 181.58,389.75 182.05,391.67 182.52,398.37 182.99,402.46 183.46,405.2 183.93,405.2 184.4,403.34 184.87,397.11 185.35,388.74 185.82,382.95 186.29,385.96 186.76,384.66 187.23,380.79 187.7,379.93 188.17,380.85 188.64,380.4 189.11,381.56 189.58,379.8 190.05,380.08 190.52,377.54 190.99,379.23 191.46,380.37 191.93,382.07 192.4,382.15 192.87,387.69 193.35,386.34 193.82,394.87 194.29,401.93 194.76,405.2 195.23,405.2 195.7,402.21 196.17,395.34 196.64,389.12 197.11,386.86 197.58,378.12 198.05,377.83 198.52,379.06 198.99,377.39 199.46,378.56 199.93,382.32 200.4,382.78 200.87,380.25 201.35,379.75 201.82,382.12 202.29,376.68 202.76,378.03 203.23,379.52 203.7,385.9 204.17,384.12 204.64,388.02 205.11,397.41 205.58,403.21 206.05,405.2 206.52,405.2 206.99,402.75 207.46,394.87 207.93,388.24 208.4,386.59 208.87,384.38 209.35,381.88 209.82,378.95 210.29,380.85 210.76,380.33 211.23,378.94 211.7,387.83 212.17,381.45 212.64,383.22 213.11,382.08 213.58,382.22 214.05,381.52 214.52,382.57 214.99,384.32 215.46,386.36 215.93,389.23 216.4,396.66 216.87,402.38 217.35,405.2 217.82,405.2 218.29,402.51 218.76,397.35 219.23,390.44 219.7,384.83 220.17,384.91 220.64,385.28 221.11,388.96 221.58,379.95 222.05,379.23 222.52,378.61 222.99,375.78 223.46,381.43 223.93,381.76 224.4,383.42 224.87,381.7 225.35,382.13 225.82,380.87 226.29,383.09 226.76,387.39 227.23,390.51 227.7,395.05 228.17,402.9 228.64,405.2 229.11,405.2 229.58,402.48 230.05,396.05 230.52,387.82 230.99,386.73 231.46,384.83 231.93,383.97 232.4,379.62 232.87,379.3 233.35,375.77 233.82,381.18 234.29,381.74 234.76,382.65 235.23,381.62 235.7,383.61 236.17,379.58 236.64,381.48 237.11,384.97 237.58,390.58 238.05,389.57 238.52,387.71 238.99,396.02 239.46,402.52 239.93,405.2 240.4,405.2 240.87,403.07 241.34,397.82 241.82,391.97 242.29,386.62 242.76,382.62 243.23,381.72 243.7,381.77 244.17,383.36 244.64,376.73 245.11,380.21 245.58,380.2 246.05,380.99 246.52,382.58 246.99,382.94 247.46,382.38 247.93,384.54 248.4,381.42 248.87,384.08 249.34,383.41 249.82,392.25 250.29,396.18 250.76,402.91 251.23,405.2 251.7,405.2 252.17,403.08 252.64,398.33 253.11,390.12 253.58,389.4 254.05,385.42 254.52,383.97 254.99,385.48 255.46,383.81 255.93,382.93 256.4,380.4 256.87,383 257.34,383.5 257.82,382.94 258.29,384.37 258.76,379.64 259.23,386.37 259.7,382.35 260.17,383.76 260.64,389.87 261.11,390.16 261.58,396.31 262.05,402.51 262.52,405.2 262.99,405.2 263.46,402.97 263.93,396.84 264.4,388.27 264.87,388.14 265.34,389.89 265.82,387.14 266.29,385.5 266.76,379.34 267.23,382.22 267.7,384.86 268.17,379.11 268.64,381.77 269.11,382.2 269.58,384.51 270.05,379.22 270.52,383.24 270.99,387.75 271.46,387.36 271.93,388.23 272.4,390.61 272.87,393.92 273.34,402.42 273.82,405.2 274.29,405.2 274.76,402.18 275.23,395.27 275.7,387.17 276.17,386.86 276.64,379.96 277.11,377.28 277.58,379.81 278.05,373.9 278.52,376.12 278.99,375.16 279.46,378.86 279.93,379.71 280.4,382.29 280.87,377.35 281.34,378.43 281.82,378.93 282.29,381.82 282.76,383.64 283.23,384.16 283.7,386.39 284.17,393.99 284.64,400.82 285.11,403.2 285.58,403.2 286.05,400.62 286.52,392.45 286.99,387.21 287.46,382.93 287.93,383.84 288.4,378.93 288.87,382.93 289.34,378.34 289.81,378.51 290.29,383.26 290.76,382.24 291.23,376.89 291.7,379.08 292.17,376.94 292.64,379.24 293.11,386.88 293.58,380.16 294.05,383.57 294.52,385.01 294.99,388.56 295.46,394.85 295.93,400.86 296.4,403.2 296.87,403.2 297.34,400.79 297.81,394.54 298.29,386.19 298.76,384.43 299.23,382.13 299.7,383.94 300.17,380.96 300.64,381.45 301.11,382.33 301.58,375.77 302.05,379.47 302.52,380.3 302.99,382.19 303.46,377.92 303.93,374.47 304.4,378.6 304.87,378.36 305.34,384.78 305.81,383.49 306.29,387.37 306.76,391.27 307.23,400.23 307.7,403.2 308.17,403.2 308.64,400.36 309.11,391.32 309.58,384.22 310.05,381.73 310.52,379.05 310.99,375.87 311.46,377.83 311.93,377.62 312.4,379.14 312.87,370.86 313.34,373.61 313.81,374.02 314.29,376.41 314.76,371.74 315.23,378.61 315.7,373.31 316.17,379.32 316.64,380.14 317.11,383.68 317.58,385.26 318.05,389.47 318.52,398.99 318.99,403.2 319.46,403.2 319.93,398.93 320.4,387.24 320.87,377.18 321.34,375.09 321.81,369.59 322.29,374.72 322.76,368.08 323.23,360.38 323.7,360.97 324.17,367.21 324.64,361.56 325.11,366.35 325.58,364.21 326.05,371.65 326.52,336 326.99,365.68 327.46,366.6 327.93,368.47 328.4,372.96 328.87,379.46 329.34,389.02 329.81,399 330.29,403.2 330.76,403.2 331.23,399.41 331.7,389.45 332.17,377.64 332.64,379.72 333.11,370.6 333.58,376.02 334.05,371.01 334.52,368.37 334.99,365.56 335.46,367.79 335.93,368.34 336.4,368.64 336.87,369.33 337.34,374.49 337.81,372.59 338.29,369.9 338.76,367.36 339.23,368.51 339.7,365.92 340.17,379.74 340.64,390.04 341.11,399.05 341.58,403.2 342.05,403.2 342.52,399.55 342.99,389.06 343.46,378.81 343.93,378.64 344.4,374.48 344.87,364.35 345.34,374.63 345.81,363.76 346.29,363.44 346.76,357.89 347.23,362.06 347.7,368.69 348.17,361.84 348.64,368.13 349.11,358.19 349.58,360.39 350.05,367.56 350.52,367.36 350.99,372.01 351.46,380.9 351.93,381.76 352.4,393.77 352.87,398.2 353.34,398.2 353.81,393.35 354.28,381.8 354.76,372.93 355.23,368.19 355.7,362.8 356.17,362.5 356.64,360.84 357.11,350.35 357.58,353.62 358.05,348.94 358.52,360.89 358.99,359.03 359.46,361.58 359.93,361 360.4,360.2 360.87,360.39 361.34,362.39 361.81,357.34 362.28,364.16 362.76,374.56 363.23,381.87 363.7,392.9 364.17,398.2 364.64,398.2 365.11,392.82 365.58,383.39 366.05,369.99 366.52,357.76 366.99,368.92 367.46,357.12 367.93,349.46 368.4,352.01 368.87,352.69 369.34,354.34 369.81,360.99 370.28,358.56 370.76,353.51 371.23,355.84 371.7,352.87 372.17,317.5 372.64,353.56 373.11,364.61 373.58,362.33 374.05,369.59 374.52,382.94 374.99,394.1 375.46,398.2 375.93,398.2 376.4,393.34 376.87,378.76 377.34,369.25 377.81,361.58 378.28,360.08 378.76,361.39 379.23,355.72 379.7,360.39 380.17,352.12 380.64,354.8 381.11,359.92 381.58,351.54 382.05,353.22 382.52,355.38 382.99,353.46 383.46,351.1 383.93,359.12 384.4,366.43 384.87,367.63 385.34,369.33 385.81,383.14 386.28,394.61 386.76,398.2 387.23,398.2 387.7,393.32 388.17,381.83 388.64,374.04 389.11,368.47 389.58,366.99 390.05,365.41 390.52,361.44 390.99,356.24 391.46,350.41 391.93,360.78 392.4,355.43 392.87,359.11 393.34,361.13 393.81,355.6 394.28,360.81 394.76,355.12 395.23,362.35 395.7,367 396.17,364.2 396.64,376.56 397.11,384.68 397.58,393.9 398.05,398.2 398.52,398.2 398.99,394.68 399.46,384.9 399.93,370.59 400.4,365.9 400.87,366.66 401.34,359.98 401.81,357.97 402.28,352.39 402.75,357.57 403.23,349.31 403.7,357.82 404.17,351.87 404.64,355.15 405.11,362.31 405.58,359.12 406.05,357.64 406.52,355.75 406.99,367.38 407.46,366.96 407.93,370.28 408.4,381.39 408.87,394.09 409.34,398.2 409.81,398.2 410.28,394.08 410.75,381.78 411.23,368.19 411.7,366.05 412.17,371.27 412.64,354.69 413.11,352.22 413.58,348.51 414.05,348.44 414.52,360.96 414.99,348.52 415.46,354.33 415.93,353.08 416.4,357.13 416.87,342.5 417.34,357.9 417.81,351.45 418.28,359.81 418.75,364.5 419.23,374.18 419.7,380.24 420.17,393.29 420.64,398.2 421.11,398.2 421.58,392.95 422.05,381.04 422.52,368.16 422.99,363.58 423.46,356.19 423.93,353.67 424.4,353.46 424.87,355.59 425.34,345.07 425.81,346.13 426.28,356.58 426.75,351.11 427.23,355.78 427.7,363.28 428.17,353.31 428.64,349.93 429.11,358.21 429.58,361.07 430.05,357.73 430.52,372.03 430.99,383.91 431.46,393.84 431.93,398.2 432.4,398.2 432.87,393.93 433.34,382.92 433.81,370.94 434.28,367.9 434.75,365.28 435.23,364.09 435.7,354.81 436.17,356.37 436.64,340.36 437.11,351.58 437.58,358.63 438.05,356.55 438.52,356.31 438.99,355.61 439.46,354.95 439.93,355.86 440.4,359.13 440.87,359.14 441.34,357.1 441.81,372.37 442.28,383.38 442.75,393.49 443.23,398.2 443.7,398.2 444.17,393.27 444.64,382.88 445.11,372.4 445.58,365.4 446.05,360.64 446.52,354.58 446.99,352.46 447.46,363.99 447.93,350.8 448.4,358.16 448.87,365.16 449.34,355.92 449.81,359.27 450.28,359.56 450.75,362.9 451.23,362.62 451.7,360.33 452.17,367.69 452.64,365.58 453.11,371.52 453.58,382.62 454.05,393.54 454.52,398.2 454.99,398.2 455.46,394.15 455.93,382.17 456.4,368.48 456.87,366.09 457.34,363.86 457.81,359.16 458.28,364.86 458.75,359.53 459.23,354.72 459.7,354.44 460.17,356.68 460.64,357.55 461.11,362.36 461.58,359.45 462.05,355.62 462.52,365.02 462.99,363.22 463.46,362.68 463.93,359.33 464.4,369.28 464.87,380.12 465.34,393.13 465.81,398.2 466.28,398.2 466.75,394.25 467.22,380.73 467.7,369.44 468.17,365.08 468.64,360.09 469.11,358.47 469.58,357.15 470.05,354.58 470.52,348.12 470.99,358.05 471.46,360.17 471.93,356.85 472.4,353.33 472.87,356.56 473.34,357.93 473.81,354.64 474.28,358.43 474.75,368.67 475.22,368.04 475.7,376.97 476.17,382.62 476.64,393.85 477.11,398.2 477.58,398.2 478.05,393.92 478.52,382.26 478.99,371.93 479.46,375.26 479.93,364.55 480.4,362.28 480.87,356.12 481.34,358.57 481.81,358.53 482.28,351.22 482.75,355.24 483.22,359.85 483.7,360.32 484.17,358.02 484.64,352.91 485.11,351.43 485.58,363.35 486.05,356.79 486.52,363.87 486.99,369.9 487.46,381.97 487.93,394.38 488.4,398.2 488.87,398.2 489.34,394.17 489.81,384.65 490.28,368.56 490.75,363.76 491.22,361.81 491.7,360.4 492.17,362.14 492.64,351.05 493.11,350.01 493.58,353.25 494.05,358.44 494.52,360.41 494.99,360.43 495.46,354.6 495.93,362.91 496.4,359.65 496.87,337.5 497.34,360.66 497.81,360.94 498.28,371.74 498.75,381.45 499.22,392.98 499.7,398.2 500.17,398.2 500.64,393.84 501.11,384.48 501.58,366.57 502.05,367.36 502.52,364.15 502.99,355.79 503.46,360.46 503.93,360.36 504.4,354.82 504.87,353.65 505.34,353.34 505.81,353.51 506.28,352.85 506.75,356.83 507.22,354.36 507.7,357.26 508.17,360.27 508.64,359.22 509.11,362.49 509.58,365.55 510.05,380.19 510.52,393.68 510.99,398.2 511.46,398.2 511.93,392.59 512.4,384.05 512.87,370.95 513.34,366.4 513.81,358.87 514.28,357.43 514.75,361.31 515.22,360.5 515.7,348.74 516.17,343.99 516.64,345.44 517.11,355.02 517.58,352.49 518.05,357.74 518.52,359.84 518.99,349.19 519.46,352.59 519.93,359.89 520.4,363.09 520.87,366.41 521.34,381.89 521.81,393.83 522.28,398.2 522.75,398.2 523.22,393.86 523.69,383.5 524.17,368.63 524.64,368.04 525.11,366.23 525.58,352.98 526.05,352.56 526.52,353.07 526.99,353.3 527.46,353.29 527.93,361.37 528.4,356.48 528.87,356.44 529.34,357.89 529.81,354.87 530.28,360.6 530.75,357.75 531.22,367.05 531.69,364.42 532.17,372.74 532.64,382.85 533.11,393.36 533.58,398.2 534.05,398.2 534.52,392.7 534.99,381.77 535.46,365.2 535.93,360.42 536.4,360.28 536.87,349.38 537.34,358.91 537.81,347.85 538.28,347.51 538.75,345.43 539.22,357.69 539.69,357.05 540.17,356.58 540.64,352.31 541.11,351.53 541.58,352.84 542.05,355.06 542.52,360.05 542.99,365.54 543.46,369.3 543.93,381.8 544.4,393.3 544.87,398.2 545.34,398.2 545.81,394.34 546.28,381.42 546.75,374.32 547.22,366.28 547.69,365.9 548.17,363.94 548.64,360.26 549.11,350.01 549.58,356.57 550.05,352.14 550.52,355.25 550.99,355.79 551.46,356.89 551.93,355.18 552.4,362.04 552.87,357.95 553.34,357.67 553.81,363.97 554.28,363.63 554.75,374.14 555.22,379.53 555.69,393.56 556.17,398.2 556.64,398.2 557.11,392.69 557.58,381.73 558.05,370.18 558.52,359.97 558.99,369.56 559.46,350.33 559.93,347.71 560.4,355.81 560.87,342.6 561.34,347.92 561.81,348.77 562.28,362.56 562.75,355.53 563.22,353.73 563.69,354.22 564.17,355.08 564.64,355.6 565.11,368.98 565.58,361.58 566.05,370.35 566.52,381.46 566.99,393.61 567.46,398.2 567.93,398.2 568.4,392.54 568.87,382.68 569.34,364.48 569.81,365.24 570.28,362.99 570.75,363.01 571.22,351.13 571.69,359.18 572.17,345.68 572.64,349.59 573.11,354.94 573.58,356.51 574.05,352.75 574.52,353.66 574.99,350.62 575.46,354.81 575.93,357.9 576.4,356.84 576.87,366.28 577.34,366.88 577.81,381.32 578.28,393.93 578.75,398.2 579.22,398.2 579.69,394.26 580.16,379.12 580.64,366.69 581.11,368.23 581.58,360.26 582.05,350.65 582.52,353.33 582.99,357.18 583.46,360.39 583.93,358.97 584.4,347.3 584.87,352.46 585.34,360.59 585.81,351.52 586.28,355.65 586.75,357.87 587.22,358.16 587.69,360.9 588.16,356.31 588.64,372.11 589.11,381.18 589.58,392.47 590.05,398.2 590.52,398.2 590.99,392.1 591.46,378.55 591.93,372.27 592.4,356.42 592.87,363.61 593.34,352.26 593.81,357.81 594.28,358.56 594.75,343.29 595.22,346.76 595.69,350.48 596.16,350.47 596.64,353.08 597.11,353.29 597.58,356.54 598.05,349.99 598.52,353.54 598.99,357.92 599.46,362.36 599.93,368.66 600.4,384.73 600.87,393.81 601.34,398.2 601.81,398.2 602.28,394.1 602.75,383.05 603.22,370.98 603.69,363.99 604.16,360.3 604.64,359.63 605.11,348.7 605.58,355.23 606.05,351.45 606.52,342.06 606.99,358.96 607.46,352.29 607.93,355.63 608.4,362.36 608.87,359.1 609.34,354.06 609.81,364.07 610.28,361.96 610.75,361.08 611.22,371.66 611.69,381.51 612.16,393.86 612.64,398.2 613.11,398.2 613.58,393.72 614.05,380.92 614.52,370.11 614.99,359.32 615.46,359 615.93,357.62 616.4,347.06 616.87,354.54 617.34,355.46 617.81,352.21 618.28,358.84 618.75,353.02 619.22,350.72 619.69,353.25 620.16,357.19 620.64,356.99 621.11,355.35 621.58,355.9 622.05,364.74 622.52,371.47 622.99,381.82 623.46,393.88 623.93,398.2 624.4,398.2 624.87,394.3 625.34,383.63 625.81,370.17 626.28,369.08 626.75,365.06 627.22,361.21 627.69,358.7 628.16,347.92 628.64,359.33 629.11,356.42 629.58,350.01 630.05,358.97 630.52,358.73 630.99,365.28 631.46,355.55 631.93,356.87 632.4,357.97 632.87,364.37 633.34,365.33 633.81,373 634.28,381.63 634.75,393.84 635.22,398.2 635.69,398.2 636.16,393.98 636.63,387.24 637.11,372.39 637.58,365.3 638.05,364.17 638.52,352.43 638.99,362.78 639.46,358.11 639.93,358.55 640.4,357.76 640.87,358.66 641.34,363.72 641.81,362.72 642.28,350.47 642.75,359.08 643.22,355.35 643.69,364.63 644.16,363.03 644.63,363.72 645.11,372.46 645.58,383.27 646.05,393.79 646.52,398.2 646.99,398.2 647.46,393.17 647.93,384.53 648.4,376.74 648.87,367.34 649.34,362.23 649.81,357.28 650.28,353.46 650.75,358.32 651.22,344.05 651.69,353.26 652.16,363 652.63,352.66 653.11,356.63 653.58,356.13 654.05,335 654.52,358.97 654.99,358.02 655.46,362.13 655.93,362.19 656.4,367.87 656.87,380.18 657.34,393.17 657.81,398.2 658.28,398.2 658.75,393.61 659.22,381.22 659.69,372.02 660.16,371.24 660.63,370.5 661.11,359.5 661.58,360.67 662.05,355.76 662.52,349.52 662.99,361.23 663.46,363.17 663.93,355.78 664.4,356.5 664.87,358.62 665.34,359.22 665.81,364.33 666.28,359.2 666.75,364.45 667.22,363.23 667.69,368.85 668.16,383.53 668.63,393.58 669.11,398.2 669.58,398.2 670.05,393.09 670.52,381.65 670.99,369.7 671.46,364.69 671.93,364.21 672.4,360.52 672.87,356.9 673.34,350.87 673.81,348.13 674.28,345.18 674.75,360.63 675.22,357.33 675.69,365.12 676.16,359.99 676.63,364.05 677.11,353.64 677.58,356.23 678.05,365.9 678.52,363.82 678.99,369.63 679.46,375.59 679.93,392.24 680.4,398.2 680.87,398.2 681.34,392.35 681.81,378.34 682.28,366.72 682.75,364.32 683.22,349.52 683.69,354.74 684.16,349.96 684.63,341.72 685.11,343.43 685.58,338.45 686.05,351.71 686.52,343.4 686.99,288.5 687.46,355.56 687.93,352.78 688.4,348.05 688.87,352.99 689.34,359.47 689.81,351.96 690.28,368.32 690.75,382.95 691.22,393.68 691.69,398.2 692.16,398.2 692.63,393.52 693.1,382.93 693.58,369.02 694.05,369.17 694.52,366.66 694.99,359.98 695.46,362.36 695.93,354.77 696.4,354.58 696.87,357.24 697.34,353.93 697.81,355.27 698.28,370.22 698.75,359.37 699.22,357.1 699.69,356.61 700.16,361.53 700.63,366.39 701.1,364.74 701.58,369.97 702.05,386.1 702.52,394.5 702.99,398.2 703.46,398.2 703.93,394.11 704.4,381.73 704.87,374.87 705.34,367.34 705.81,366.49 706.28,359.68 706.75,356.53 707.22,351.53 707.69,354.39 708.16,351.36 708.63,355.24 709.1,359.88 709.58,353.32 710.05,360.99 710.52,357.52 710.99,349.52 711.46,356.62 711.93,365.67 712.4,364.63 712.87,373.55 713.34,382.28 713.81,394.28 714.28,398.2 714.75,398.2 715.22,393.41 715.69,381.44 716.16,368.17 716.63,358.71 717.1,367.37 717.58,363.64 718.05,360.79 718.52,356.83 718.99,347.99 719.46,354.71 719.93,356.91 720.4,360.31 720.87,359.27 721.34,358.04 721.81,356.18 722.28,362.6 722.75,357.89 723.22,358.46 723.69,362.38 724.16,373.95" fill="none" stroke="#40c8f0" stroke-opacity="0.2" stroke-width="4" stroke-linejoin="round" filter="url(#blur2)"/>
<polyline points="35.7,399.54 36.17,402.99 36.64,405.2 37.11,405.2 37.58,403.24 38.05,398.52 38.52,393.15 38.99,392.7 39.46,392.31 39.94,386.12 40.41,389.29 40.88,387.98 41.35,387.69 41.82,387.66 42.29,387.07 42.76,386.25 43.23,389.9 43.7,387.37 44.17,388.89 44.64,385.99 45.11,390.55 45.58,389.54 46.05,389.9 46.52,395.36 46.99,398.47 47.46,403.27 47.94,405.2 48.41,405.2 48.88,403.11 49.35,398.39 49.82,394.28 50.29,392.18 50.76,389.32 51.23,386.98 51.7,386.73 52.17,385.83 52.64,383.21 53.11,389.58 53.58,389.78 54.05,391.67 54.52,386.68 54.99,391.92 55.46,387.82 55.94,386.82 56.41,390.86 56.88,390.77 57.35,391.35 57.82,392.98 58.29,400.03 58.76,403.4 59.23,405.2 59.7,405.2 60.17,403.43 60.64,398.33 61.11,394.51 61.58,393.02 62.05,391.72 62.52,389.41 62.99,389.97 63.46,387.55 63.94,387.59 64.41,386.28 64.88,389.96 65.35,388.96 65.82,388.96 66.29,388.68 66.76,387.34 67.23,388.89 67.7,388.47 68.17,388.2 68.64,391.02 69.11,395.85 69.58,400.42 70.05,403.5 70.52,405.2 70.99,405.2 71.46,403.63 71.93,398.89 72.41,394.49 72.88,395.31 73.35,392.1 73.82,392.06 74.29,392.74 74.76,389.08 75.23,389.49 75.7,388.97 76.17,386.3 76.64,388.5 77.11,389.27 77.58,391.29 78.05,392.28 78.52,389.07 78.99,391.6 79.46,392.16 79.93,393.7 80.41,395.54 80.88,397.76 81.35,403.54 81.82,405.2 82.29,405.2 82.76,403.44 83.23,399.93 83.7,396.75 84.17,393.92 84.64,391.8 85.11,391.8 85.58,391.35 86.05,390.48 86.52,388.77 86.99,388.73 87.46,391.61 87.93,390.26 88.41,389.27 88.88,389.84 89.35,391.62 89.82,390.38 90.29,390.2 90.76,390.21 91.23,394.48 91.7,394.25 92.17,399.97 92.64,403.6 93.11,405.2 93.58,405.2 94.05,403.76 94.52,399.78 94.99,395.13 95.46,394.84 95.93,394.45 96.41,392.83 96.88,390.58 97.35,388.61 97.82,390.35 98.29,390.44 98.76,390.61 99.23,390.93 99.7,392.46 100.17,391.6 100.64,390.51 101.11,390.98 101.58,391.41 102.05,393.74 102.52,394.12 102.99,396.49 103.46,399.03 103.93,403.37 104.41,405.2 104.88,405.2 105.35,403.65 105.82,399.78 106.29,396.87 106.76,393.77 107.23,393.01 107.7,391.51 108.17,390.14 108.64,390.4 109.11,391.03 109.58,389.7 110.05,390.14 110.52,390.39 110.99,389.86 111.46,390.98 111.93,390.9 112.41,388.35 112.88,389.64 113.35,392.3 113.82,394.33 114.29,396.04 114.76,398.91 115.23,403.32 115.7,405.2 116.17,405.2 116.64,403.44 117.11,399.35 117.58,394.72 118.05,393.53 118.52,392.81 118.99,388.98 119.46,389.4 119.93,386.63 120.41,388.73 120.88,387.85 121.35,387.65 121.82,392.14 122.29,391.63 122.76,388.24 123.23,389.08 123.7,392.42 124.17,391.04 124.64,392.52 125.11,392.8 125.58,393.19 126.05,399.87 126.52,403.26 126.99,405.2 127.46,405.2 127.93,403.33 128.4,399.01 128.88,394.18 129.35,391.71 129.82,390.9 130.29,389.79 130.76,393.11 131.23,391.08 131.7,388.31 132.17,389.1 132.64,388.72 133.11,390.92 133.58,389.02 134.05,387.52 134.52,389.43 134.99,389.41 135.46,390.22 135.93,390.78 136.4,392.78 136.88,395.95 137.35,398.84 137.82,403.4 138.29,405.2 138.76,405.2 139.23,403.41 139.7,398.84 140.17,395.09 140.64,392.14 141.11,390.07 141.58,391.11 142.05,388.66 142.52,386.98 142.99,386.08 143.46,389.41 143.93,389.99 144.4,388.69 144.88,390.84 145.35,385.02 145.82,390.15 146.29,390.46 146.76,388.56 147.23,391.39 147.7,394.96 148.17,394.7 148.64,399.16 149.11,403.39 149.58,405.2 150.05,405.2 150.52,403.32 150.99,398.57 151.46,395.01 151.93,392.8 152.4,391.23 152.88,388.77 153.35,388.31 153.82,389.35 154.29,384.94 154.76,387.92 155.23,386.42 155.7,389.2 156.17,387.57 156.64,388.09 157.11,387.6 157.58,387.23 158.05,387.74 158.52,389.45 158.99,390.71 159.46,395.23 159.93,397.94 160.4,403.57 160.88,405.2 161.35,405.2 161.82,403.16 162.29,396.8 162.76,391.84 163.23,388.97 163.7,389 164.17,386.66 164.64,384.22 165.11,384.3 165.58,383.56 166.05,384.6 166.52,387.14 166.99,387.56 167.46,389.04 167.93,385.39 168.4,386.46 168.88,387.62 169.35,386.13 169.82,389.1 170.29,387.87 170.76,390.26 171.23,397.42 171.7,403.22 172.17,405.2 172.64,405.2 173.11,402.98 173.58,398.61 174.05,391.06 174.52,392.75 174.99,388.9 175.46,387.52 175.93,386.71 176.4,387.25 176.88,378.84 177.35,385.25 177.82,384.19 178.29,385.42 178.76,389.06 179.23,386.87 179.7,385.19 180.17,384.25 180.64,387.09 181.11,387.2 181.58,389.75 182.05,391.67 182.52,398.37 182.99,402.46 183.46,405.2 183.93,405.2 184.4,403.34 184.87,397.11 185.35,388.74 185.82,382.95 186.29,385.96 186.76,384.66 187.23,380.79 187.7,379.93 188.17,380.85 188.64,380.4 189.11,381.56 189.58,379.8 190.05,380.08 190.52,377.54 190.99,379.23 191.46,380.37 191.93,382.07 192.4,382.15 192.87,387.69 193.35,386.34 193.82,394.87 194.29,401.93 194.76,405.2 195.23,405.2 195.7,402.21 196.17,395.34 196.64,389.12 197.11,386.86 197.58,378.12 198.05,377.83 198.52,379.06 198.99,377.39 199.46,378.56 199.93,382.32 200.4,382.78 200.87,380.25 201.35,379.75 201.82,382.12 202.29,376.68 202.76,378.03 203.23,379.52 203.7,385.9 204.17,384.12 204.64,388.02 205.11,397.41 205.58,403.21 206.05,405.2 206.52,405.2 206.99,402.75 207.46,394.87 207.93,388.24 208.4,386.59 208.87,384.38 209.35,381.88 209.82,378.95 210.29,380.85 210.76,380.33 211.23,378.94 211.7,387.83 212.17,381.45 212.64,383.22 213.11,382.08 213.58,382.22 214.05,381.52 214.52,382.57 214.99,384.32 215.46,386.36 215.93,389.23 216.4,396.66 216.87,402.38 217.35,405.2 217.82,405.2 218.29,402.51 218.76,397.35 219.23,390.44 219.7,384.83 220.17,384.91 220.64,385.28 221.11,388.96 221.58,379.95 222.05,379.23 222.52,378.61 222.99,375.78 223.46,381.43 223.93,381.76 224.4,383.42 224.87,381.7 225.35,382.13 225.82,380.87 226.29,383.09 226.76,387.39 227.23,390.51 227.7,395.05 228.17,402.9 228.64,405.2 229.11,405.2 229.58,402.48 230.05,396.05 230.52,387.82 230.99,386.73 231.46,384.83 231.93,383.97 232.4,379.62 232.87,379.3 233.35,375.77 233.82,381.18 234.29,381.74 234.76,382.65 235.23,381.62 235.7,383.61 236.17,379.58 236.64,381.48 237.11,384.97 237.58,390.58 238.05,389.57 238.52,387.71 238.99,396.02 239.46,402.52 239.93,405.2 240.4,405.2 240.87,403.07 241.34,397.82 241.82,391.97 242.29,386.62 242.76,382.62 243.23,381.72 243.7,381.77 244.17,383.36 244.64,376.73 245.11,380.21 245.58,380.2 246.05,380.99 246.52,382.58 246.99,382.94 247.46,382.38 247.93,384.54 248.4,381.42 248.87,384.08 249.34,383.41 249.82,392.25 250.29,396.18 250.76,402.91 251.23,405.2 251.7,405.2 252.17,403.08 252.64,398.33 253.11,390.12 253.58,389.4 254.05,385.42 254.52,383.97 254.99,385.48 255.46,383.81 255.93,382.93 256.4,380.4 256.87,383 257.34,383.5 257.82,382.94 258.29,384.37 258.76,379.64 259.23,386.37 259.7,382.35 260.17,383.76 260.64,389.87 261.11,390.16 261.58,396.31 262.05,402.51 262.52,405.2 262.99,405.2 263.46,402.97 263.93,396.84 264.4,388.27 264.87,388.14 265.34,389.89 265.82,387.14 266.29,385.5 266.76,379.34 267.23,382.22 267.7,384.86 268.17,379.11 268.64,381.77 269.11,382.2 269.58,384.51 270.05,379.22 270.52,383.24 270.99,387.75 271.46,387.36 271.93,388.23 272.4,390.61 272.87,393.92 273.34,402.42 273.82,405.2 274.29,405.2 274.76,402.18 275.23,395.27 275.7,387.17 276.17,386.86 276.64,379.96 277.11,377.28 277.58,379.81 278.05,373.9 278.52,376.12 278.99,375.16 279.46,378.86 279.93,379.71 280.4,382.29 280.87,377.35 281.34,378.43 281.82,378.93 282.29,381.82 282.76,383.64 283.23,384.16 283.7,386.39 284.17,393.99 284.64,400.82 285.11,403.2 285.58,403.2 286.05,400.62 286.52,392.45 286.99,387.21 287.46,382.93 287.93,383.84 288.4,378.93 288.87,382.93 289.34,378.34 289.81,378.51 290.29,383.26 290.76,382.24 291.23,376.89 291.7,379.08 292.17,376.94 292.64,379.24 293.11,386.88 293.58,380.16 294.05,383.57 294.52,385.01 294.99,388.56 295.46,394.85 295.93,400.86 296.4,403.2 296.87,403.2 297.34,400.79 297.81,394.54 298.29,386.19 298.76,384.43 299.23,382.13 299.7,383.94 300.17,380.96 300.64,381.45 301.11,382.33 301.58,375.77 302.05,379.47 302.52,380.3 302.99,382.19 303.46,377.92 303.93,374.47 304.4,378.6 304.87,378.36 305.34,384.78 305.81,383.49 306.29,387.37 306.76,391.27 307.23,400.23 307.7,403.2 308.17,403.2 308.64,400.36 309.11,391.32 309.58,384.22 310.05,381.73 310.52,379.05 310.99,375.87 311.46,377.83 311.93,377.62 312.4,379.14 312.87,370.86 313.34,373.61 313.81,374.02 314.29,376.41 314.76,371.74 315.23,378.61 315.7,373.31 316.17,379.32 316.64,380.14 317.11,383.68 317.58,385.26 318.05,389.47 318.52,398.99 318.99,403.2 319.46,403.2 319.93,398.93 320.4,387.24 320.87,377.18 321.34,375.09 321.81,369.59 322.29,374.72 322.76,368.08 323.23,360.38 323.7,360.97 324.17,367.21 324.64,361.56 325.11,366.35 325.58,364.21 326.05,371.65 326.52,336 326.99,365.68 327.46,366.6 327.93,368.47 328.4,372.96 328.87,379.46 329.34,389.02 329.81,399 330.29,403.2 330.76,403.2 331.23,399.41 331.7,389.45 332.17,377.64 332.64,379.72 333.11,370.6 333.58,376.02 334.05,371.01 334.52,368.37 334.99,365.56 335.46,367.79 335.93,368.34 336.4,368.64 336.87,369.33 337.34,374.49 337.81,372.59 338.29,369.9 338.76,367.36 339.23,368.51 339.7,365.92 340.17,379.74 340.64,390.04 341.11,399.05 341.58,403.2 342.05,403.2 342.52,399.55 342.99,389.06 343.46,378.81 343.93,378.64 344.4,374.48 344.87,364.35 345.34,374.63 345.81,363.76 346.29,363.44 346.76,357.89 347.23,362.06 347.7,368.69 348.17,361.84 348.64,368.13 349.11,358.19 349.58,360.39 350.05,367.56 350.52,367.36 350.99,372.01 351.46,380.9 351.93,381.76 352.4,393.77 352.87,398.2 353.34,398.2 353.81,393.35 354.28,381.8 354.76,372.93 355.23,368.19 355.7,362.8 356.17,362.5 356.64,360.84 357.11,350.35 357.58,353.62 358.05,348.94 358.52,360.89 358.99,359.03 359.46,361.58 359.93,361 360.4,360.2 360.87,360.39 361.34,362.39 361.81,357.34 362.28,364.16 362.76,374.56 363.23,381.87 363.7,392.9 364.17,398.2 364.64,398.2 365.11,392.82 365.58,383.39 366.05,369.99 366.52,357.76 366.99,368.92 367.46,357.12 367.93,349.46 368.4,352.01 368.87,352.69 369.34,354.34 369.81,360.99 370.28,358.56 370.76,353.51 371.23,355.84 371.7,352.87 372.17,317.5 372.64,353.56 373.11,364.61 373.58,362.33 374.05,369.59 374.52,382.94 374.99,394.1 375.46,398.2 375.93,398.2 376.4,393.34 376.87,378.76 377.34,369.25 377.81,361.58 378.28,360.08 378.76,361.39 379.23,355.72 379.7,360.39 380.17,352.12 380.64,354.8 381.11,359.92 381.58,351.54 382.05,353.22 382.52,355.38 382.99,353.46 383.46,351.1 383.93,359.12 384.4,366.43 384.87,367.63 385.34,369.33 385.81,383.14 386.28,394.61 386.76,398.2 387.23,398.2 387.7,393.32 388.17,381.83 388.64,374.04 389.11,368.47 389.58,366.99 390.05,365.41 390.52,361.44 390.99,356.24 391.46,350.41 391.93,360.78 392.4,355.43 392.87,359.11 393.34,361.13 393.81,355.6 394.28,360.81 394.76,355.12 395.23,362.35 395.7,367 396.17,364.2 396.64,376.56 397.11,384.68 397.58,393.9 398.05,398.2 398.52,398.2 398.99,394.68 399.46,384.9 399.93,370.59 400.4,365.9 400.87,366.66 401.34,359.98 401.81,357.97 402.28,352.39 402.75,357.57 403.23,349.31 403.7,357.82 404.17,351.87 404.64,355.15 405.11,362.31 405.58,359.12 406.05,357.64 406.52,355.75 406.99,367.38 407.46,366.96 407.93,370.28 408.4,381.39 408.87,394.09 409.34,398.2 409.81,398.2 410.28,394.08 410.75,381.78 411.23,368.19 411.7,366.05 412.17,371.27 412.64,354.69 413.11,352.22 413.58,348.51 414.05,348.44 414.52,360.96 414.99,348.52 415.46,354.33 415.93,353.08 416.4,357.13 416.87,342.5 417.34,357.9 417.81,351.45 418.28,359.81 418.75,364.5 419.23,374.18 419.7,380.24 420.17,393.29 420.64,398.2 421.11,398.2 421.58,392.95 422.05,381.04 422.52,368.16 422.99,363.58 423.46,356.19 423.93,353.67 424.4,353.46 424.87,355.59 425.34,345.07 425.81,346.13 426.28,356.58 426.75,351.11 427.23,355.78 427.7,363.28 428.17,353.31 428.64,349.93 429.11,358.21 429.58,361.07 430.05,357.73 430.52,372.03 430.99,383.91 431.46,393.84 431.93,398.2 432.4,398.2 432.87,393.93 433.34,382.92 433.81,370.94 434.28,367.9 434.75,365.28 435.23,364.09 435.7,354.81 436.17,356.37 436.64,340.36 437.11,351.58 437.58,358.63 438.05,356.55 438.52,356.31 438.99,355.61 439.46,354.95 439.93,355.86 440.4,359.13 440.87,359.14 441.34,357.1 441.81,372.37 442.28,383.38 442.75,393.49 443.23,398.2 443.7,398.2 444.17,393.27 444.64,382.88 445.11,372.4 445.58,365.4 446.05,360.64 446.52,354.58 446.99,352.46 447.46,363.99 447.93,350.8 448.4,358.16 448.87,365.16 449.34,355.92 449.81,359.27 450.28,359.56 450.75,362.9 451.23,362.62 451.7,360.33 452.17,367.69 452.64,365.58 453.11,371.52 453.58,382.62 454.05,393.54 454.52,398.2 454.99,398.2 455.46,394.15 455.93,382.17 456.4,368.48 456.87,366.09 457.34,363.86 457.81,359.16 458.28,364.86 458.75,359.53 459.23,354.72 459.7,354.44 460.17,356.68 460.64,357.55 461.11,362.36 461.58,359.45 462.05,355.62 462.52,365.02 462.99,363.22 463.46,362.68 463.93,359.33 464.4,369.28 464.87,380.12 465.34,393.13 465.81,398.2 466.28,398.2 466.75,394.25 467.22,380.73 467.7,369.44 468.17,365.08 468.64,360.09 469.11,358.47 469.58,357.15 470.05,354.58 470.52,348.12 470.99,358.05 471.46,360.17 471.93,356.85 472.4,353.33 472.87,356.56 473.34,357.93 473.81,354.64 474.28,358.43 474.75,368.67 475.22,368.04 475.7,376.97 476.17,382.62 476.64,393.85 477.11,398.2 477.58,398.2 478.05,393.92 478.52,382.26 478.99,371.93 479.46,375.26 479.93,364.55 480.4,362.28 480.87,356.12 481.34,358.57 481.81,358.53 482.28,351.22 482.75,355.24 483.22,359.85 483.7,360.32 484.17,358.02 484.64,352.91 485.11,351.43 485.58,363.35 486.05,356.79 486.52,363.87 486.99,369.9 487.46,381.97 487.93,394.38 488.4,398.2 488.87,398.2 489.34,394.17 489.81,384.65 490.28,368.56 490.75,363.76 491.22,361.81 491.7,360.4 492.17,362.14 492.64,351.05 493.11,350.01 493.58,353.25 494.05,358.44 494.52,360.41 494.99,360.43 495.46,354.6 495.93,362.91 496.4,359.65 496.87,337.5 497.34,360.66 497.81,360.94 498.28,371.74 498.75,381.45 499.22,392.98 499.7,398.2 500.17,398.2 500.64,393.84 501.11,384.48 501.58,366.57 502.05,367.36 502.52,364.15 502.99,355.79 503.46,360.46 503.93,360.36 504.4,354.82 504.87,353.65 505.34,353.34 505.81,353.51 506.28,352.85 506.75,356.83 507.22,354.36 507.7,357.26 508.17,360.27 508.64,359.22 509.11,362.49 509.58,365.55 510.05,380.19 510.52,393.68 510.99,398.2 511.46,398.2 511.93,392.59 512.4,384.05 512.87,370.95 513.34,366.4 513.81,358.87 514.28,357.43 514.75,361.31 515.22,360.5 515.7,348.74 516.17,343.99 516.64,345.44 517.11,355.02 517.58,352.49 518.05,357.74 518.52,359.84 518.99,349.19 519.46,352.59 519.93,359.89 520.4,363.09 520.87,366.41 521.34,381.89 521.81,393.83 522.28,398.2 522.75,398.2 523.22,393.86 523.69,383.5 524.17,368.63 524.64,368.04 525.11,366.23 525.58,352.98 526.05,352.56 526.52,353.07 526.99,353.3 527.46,353.29 527.93,361.37 528.4,356.48 528.87,356.44 529.34,357.89 529.81,354.87 530.28,360.6 530.75,357.75 531.22,367.05 531.69,364.42 532.17,372.74 532.64,382.85 533.11,393.36 533.58,398.2 534.05,398.2 534.52,392.7 534.99,381.77 535.46,365.2 535.93,360.42 536.4,360.28 536.87,349.38 537.34,358.91 537.81,347.85 538.28,347.51 538.75,345.43 539.22,357.69 539.69,357.05 540.17,356.58 540.64,352.31 541.11,351.53 541.58,352.84 542.05,355.06 542.52,360.05 542.99,365.54 543.46,369.3 543.93,381.8 544.4,393.3 544.87,398.2 545.34,398.2 545.81,394.34 546.28,381.42 546.75,374.32 547.22,366.28 547.69,365.9 548.17,363.94 548.64,360.26 549.11,350.01 549.58,356.57 550.05,352.14 550.52,355.25 550.99,355.79 551.46,356.89 551.93,355.18 552.4,362.04 552.87,357.95 553.34,357.67 553.81,363.97 554.28,363.63 554.75,374.14 555.22,379.53 555.69,393.56 556.17,398.2 556.64,398.2 557.11,392.69 557.58,381.73 558.05,370.18 558.52,359.97 558.99,369.56 559.46,350.33 559.93,347.71 560.4,355.81 560.87,342.6 561.34,347.92 561.81,348.77 562.28,362.56 562.75,355.53 563.22,353.73 563.69,354.22 564.17,355.08 564.64,355.6 565.11,368.98 565.58,361.58 566.05,370.35 566.52,381.46 566.99,393.61 567.46,398.2 567.93,398.2 568.4,392.54 568.87,382.68 569.34,364.48 569.81,365.24 570.28,362.99 570.75,363.01 571.22,351.13 571.69,359.18 572.17,345.68 572.64,349.59 573.11,354.94 573.58,356.51 574.05,352.75 574.52,353.66 574.99,350.62 575.46,354.81 575.93,357.9 576.4,356.84 576.87,366.28 577.34,366.88 577.81,381.32 578.28,393.93 578.75,398.2 579.22,398.2 579.69,394.26 580.16,379.12 580.64,366.69 581.11,368.23 581.58,360.26 582.05,350.65 582.52,353.33 582.99,357.18 583.46,360.39 583.93,358.97 584.4,347.3 584.87,352.46 585.34,360.59 585.81,351.52 586.28,355.65 586.75,357.87 587.22,358.16 587.69,360.9 588.16,356.31 588.64,372.11 589.11,381.18 589.58,392.47 590.05,398.2 590.52,398.2 590.99,392.1 591.46,378.55 591.93,372.27 592.4,356.42 592.87,363.61 593.34,352.26 593.81,357.81 594.28,358.56 594.75,343.29 595.22,346.76 595.69,350.48 596.16,350.47 596.64,353.08 597.11,353.29 597.58,356.54 598.05,349.99 598.52,353.54 598.99,357.92 599.46,362.36 599.93,368.66 600.4,384.73 600.87,393.81 601.34,398.2 601.81,398.2 602.28,394.1 602.75,383.05 603.22,370.98 603.69,363.99 604.16,360.3 604.64,359.63 605.11,348.7 605.58,355.23 606.05,351.45 606.52,342.06 606.99,358.96 607.46,352.29 607.93,355.63 608.4,362.36 608.87,359.1 609.34,354.06 609.81,364.07 610.28,361.96 610.75,361.08 611.22,371.66 611.69,381.51 612.16,393.86 612.64,398.2 613.11,398.2 613.58,393.72 614.05,380.92 614.52,370.11 614.99,359.32 615.46,359 615.93,357.62 616.4,347.06 616.87,354.54 617.34,355.46 617.81,352.21 618.28,358.84 618.75,353.02 619.22,350.72 619.69,353.25 620.16,357.19 620.64,356.99 621.11,355.35 621.58,355.9 622.05,364.74 622.52,371.47 622.99,381.82 623.46,393.88 623.93,398.2 624.4,398.2 624.87,394.3 625.34,383.63 625.81,370.17 626.28,369.08 626.75,365.06 627.22,361.21 627.69,358.7 628.16,347.92 628.64,359.33 629.11,356.42 629.58,350.01 630.05,358.97 630.52,358.73 630.99,365.28 631.46,355.55 631.93,356.87 632.4,357.97 632.87,364.37 633.34,365.33 633.81,373 634.28,381.63 634.75,393.84 635.22,398.2 635.69,398.2 636.16,393.98 636.63,387.24 637.11,372.39 637.58,365.3 638.05,364.17 638.52,352.43 638.99,362.78 639.46,358.11 639.93,358.55 640.4,357.76 640.87,358.66 641.34,363.72 641.81,362.72 642.28,350.47 642.75,359.08 643.22,355.35 643.69,364.63 644.16,363.03 644.63,363.72 645.11,372.46 645.58,383.27 646.05,393.79 646.52,398.2 646.99,398.2 647.46,393.17 647.93,384.53 648.4,376.74 648.87,367.34 649.34,362.23 649.81,357.28 650.28,353.46 650.75,358.32 651.22,344.05 651.69,353.26 652.16,363 652.63,352.66 653.11,356.63 653.58,356.13 654.05,335 654.52,358.97 654.99,358.02 655.46,362.13 655.93,362.19 656.4,367.87 656.87,380.18 657.34,393.17 657.81,398.2 658.28,398.2 658.75,393.61 659.22,381.22 659.69,372.02 660.16,371.24 660.63,370.5 661.11,359.5 661.58,360.67 662.05,355.76 662.52,349.52 662.99,361.23 663.46,363.17 663.93,355.78 664.4,356.5 664.87,358.62 665.34,359.22 665.81,364.33 666.28,359.2 666.75,364.45 667.22,363.23 667.69,368.85 668.16,383.53 668.63,393.58 669.11,398.2 669.58,398.2 670.05,393.09 670.52,381.65 670.99,369.7 671.46,364.69 671.93,364.21 672.4,360.52 672.87,356.9 673.34,350.87 673.81,348.13 674.28,345.18 674.75,360.63 675.22,357.33 675.69,365.12 676.16,359.99 676.63,364.05 677.11,353.64 677.58,356.23 678.05,365.9 678.52,363.82 678.99,369.63 679.46,375.59 679.93,392.24 680.4,398.2 680.87,398.2 681.34,392.35 681.81,378.34 682.28,366.72 682.75,364.32 683.22,349.52 683.69,354.74 684.16,349.96 684.63,341.72 685.11,343.43 685.58,338.45 686.05,351.71 686.52,343.4 686.99,288.5 687.46,355.56 687.93,352.78 688.4,348.05 688.87,352.99 689.34,359.47 689.81,351.96 690.28,368.32 690.75,382.95 691.22,393.68 691.69,398.2 692.16,398.2 692.63,393.52 693.1,382.93 693.58,369.02 694.05,369.17 694.52,366.66 694.99,359.98 695.46,362.36 695.93,354.77 696.4,354.58 696.87,357.24 697.34,353.93 697.81,355.27 698.28,370.22 698.75,359.37 699.22,357.1 699.69,356.61 700.16,361.53 700.63,366.39 701.1,364.74 701.58,369.97 702.05,386.1 702.52,394.5 702.99,398.2 703.46,398.2 703.93,394.11 704.4,381.73 704.87,374.87 705.34,367.34 705.81,366.49 706.28,359.68 706.75,356.53 707.22,351.53 707.69,354.39 708.16,351.36 708.63,355.24 709.1,359.88 709.58,353.32 710.05,360.99 710.52,357.52 710.99,349.52 711.46,356.62 711.93,365.67 712.4,364.63 712.87,373.55 713.34,382.28 713.81,394.28 714.28,398.2 714.75,398.2 715.22,393.41 715.69,381.44 716.16,368.17 716.63,358.71 717.1,367.37 717.58,363.64 718.05,360.79 718.52,356.83 718.99,347.99 719.46,354.71 719.93,356.91 720.4,360.31 720.87,359.27 721.34,358.04 721.81,356.18 722.28,362.6 722.75,357.89 723.22,358.46 723.69,362.38 724.16,373.95" fill="none" stroke="#1fa8dc" stroke-opacity="0.5" stroke-width="1.3" stroke-dasharray="4 1.5" stroke-linejoin="round" filter="url(#blur)"/>
<polyline points="35.7,393 46.99,392.6 58.29,393 69.58,394.2 80.88,394.2 92.17,394.9 103.46,394.4 114.76,393.7 126.05,393.7 137.35,393.3 148.64,392.6 159.93,390.9 171.23,390.9 182.52,387.2 193.82,386.3 205.11,387.9 216.4,387.9 227.7,387.9 238.99,387.9 250.29,389.1 261.58,389.1 272.87,385.5 284.17,386.2 295.46,385.9 306.76,383 318.05,375.8 329.34,377.7 340.64,375.3 351.93,368.7 363.23,366.5 374.52,367 385.81,369.6 397.11,368.3 408.4,366.5 419.7,365.2 430.99,367 442.28,369.1 453.58,368.8 464.87,367.8 476.17,368.3 487.46,367.8 498.75,367 510.05,365.7 521.34,367.8 532.64,365 543.93,368.3 555.22,365.6 566.52,365.8 577.81,366.4 589.11,364.5 600.4,366.9 611.69,365.8 622.99,368.5 634.28,369.1 645.58,367.7 656.87,369.1 668.16,367.7 679.46,361.8 690.75,369.1 702.05,368" fill="none" stroke="#17b3e4" stroke-width="2" stroke-linejoin="round"/>
<circle cx="35.7" cy="393" r="3.4" fill="#17b3e4"/>
<circle cx="46.99" cy="392.6" r="3.4" fill="#17b3e4"/>
<circle cx="58.29" cy="393" r="3.4" fill="#17b3e4"/>
<circle cx="69.58" cy="394.2" r="3.4" fill="#17b3e4"/>
<circle cx="80.88" cy="394.2" r="3.4" fill="#17b3e4"/>
<circle cx="92.17" cy="394.9" r="3.4" fill="#17b3e4"/>
<circle cx="103.46" cy="394.4" r="3.4" fill="#17b3e4"/>
<circle cx="114.76" cy="393.7" r="3.4" fill="#17b3e4"/>
<circle cx="126.05" cy="393.7" r="3.4" fill="#17b3e4"/>
<circle cx="137.35" cy="393.3" r="3.4" fill="#17b3e4"/>
<circle cx="148.64" cy="392.6" r="3.4" fill="#17b3e4"/>
<circle cx="159.93" cy="390.9" r="3.4" fill="#17b3e4"/>
<circle cx="171.23" cy="390.9" r="3.4" fill="#17b3e4"/>
<circle cx="182.52" cy="387.2" r="3.4" fill="#17b3e4"/>
<circle cx="193.82" cy="386.3" r="3.4" fill="#17b3e4"/>
<circle cx="205.11" cy="387.9" r="3.4" fill="#17b3e4"/>
<circle cx="216.4" cy="387.9" r="3.4" fill="#17b3e4"/>
<circle cx="227.7" cy="387.9" r="3.4" fill="#17b3e4"/>
<circle cx="238.99" cy="387.9" r="3.4" fill="#17b3e4"/>
<circle cx="250.29" cy="389.1" r="3.4" fill="#17b3e4"/>
<circle cx="261.58" cy="389.1" r="3.4" fill="#17b3e4"/>
<circle cx="272.87" cy="385.5" r="3.4" fill="#17b3e4"/>
<circle cx="284.17" cy="386.2" r="3.4" fill="#17b3e4"/>
<circle cx="295.46" cy="385.9" r="3.4" fill="#17b3e4"/>
<circle cx="306.76" cy="383" r="3.4" fill="#17b3e4"/>
<circle cx="318.05" cy="375.8" r="3.4" fill="#17b3e4"/>
<circle cx="329.34" cy="377.7" r="3.4" fill="#17b3e4"/>
<circle cx="340.64" cy="375.3" r="3.4" fill="#17b3e4"/>
<circle cx="351.93" cy="368.7" r="3.4" fill="#17b3e4"/>
<circle cx="363.23" cy="366.5" r="3.4" fill="#17b3e4"/>
<circle cx="374.52" cy="367" r="3.4" fill="#17b3e4"/>
<circle cx="385.81" cy="369.6" r="3.4" fill="#17b3e4"/>
<circle cx="397.11" cy="368.3" r="3.4" fill="#17b3e4"/>
<circle cx="408.4" cy="366.5" r="3.4" fill="#17b3e4"/>
<circle cx="419.7" cy="365.2" r="3.4" fill="#17b3e4"/>
<circle cx="430.99" cy="367" r="3.4" fill="#17b3e4"/>
<circle cx="442.28" cy="369.1" r="3.4" fill="#17b3e4"/>
<circle cx="453.58" cy="368.8" r="3.4" fill="#17b3e4"/>
<circle cx="464.87" cy="367.8" r="3.4" fill="#17b3e4"/>
<circle cx="476.17" cy="368.3" r="3.4" fill="#17b3e4"/>
<circle cx="487.46" cy="367.8" r="3.4" fill="#17b3e4"/>
<circle cx="498.75" cy="367" r="3.4" fill="#17b3e4"/>
<circle cx="510.05" cy="365.7" r="3.4" fill="#17b3e4"/>
<circle cx="521.34" cy="367.8" r="3.4" fill="#17b3e4"/>
<circle cx="532.64" cy="365" r="3.4" fill="#17b3e4"/>
<circle cx="543.93" cy="368.3" r="3.4" fill="#17b3e4"/>
<circle cx="555.22" cy="365.6" r="3.4" fill="#17b3e4"/>
<circle cx="566.52" cy="365.8" r="3.4" fill="#17b3e4"/>
<circle cx="577.81" cy="366.4" r="3.4" fill="#17b3e4"/>
<circle cx="589.11" cy="364.5" r="3.4" fill="#17b3e4"/>
<circle cx="600.4" cy="366.9" r="3.4" fill="#17b3e4"/>
<circle cx="611.69" cy="365.8" r="3.4" fill="#17b3e4"/>
<circle cx="622.99" cy="368.5" r="3.4" fill="#17b3e4"/>
<circle cx="634.28" cy="369.1" r="3.4" fill="#17b3e4"/>
<circle cx="645.58" cy="367.7" r="3.4" fill="#17b3e4"/>
<circle cx="656.87" cy="369.1" r="3.4" fill="#17b3e4"/>
<circle cx="668.16" cy="367.7" r="3.4" fill="#17b3e4"/>
<circle cx="679.46" cy="361.8" r="3.4" fill="#17b3e4"/>
<circle cx="690.75" cy="369.1" r="3.4" fill="#17b3e4"/>
<circle cx="702.05" cy="368" r="3.4" fill="#17b3e4"/>
<line x1="114.76" x2="114.76" y1="410.5" y2="282.7" stroke="#222" stroke-width="1.6" stroke-dasharray="3.6 2.5"/>
<line x1="193.82" x2="193.82" y1="410.5" y2="282.7" stroke="#222" stroke-width="1.6" stroke-dasharray="3.6 2.5"/>
<line x1="272.87" x2="272.87" y1="410.5" y2="282.7" stroke="#222" stroke-width="1.6" stroke-dasharray="3.6 2.5"/>
<line x1="351.93" x2="351.93" y1="410.5" y2="282.7" stroke="#136313" stroke-width="2.4"/>
<line x1="351.93" x2="351.93" y1="410.5" y2="282.7" stroke="#222" stroke-width="1.6" stroke-dasharray="3.6 2.5"/>
<line x1="430.99" x2="430.99" y1="410.5" y2="282.7" stroke="#222" stroke-width="1.6" stroke-dasharray="3.6 2.5"/>
<line x1="510.05" x2="510.05" y1="410.5" y2="282.7" stroke="#222" stroke-width="1.6" stroke-dasharray="3.6 2.5"/>
<line x1="589.11" x2="589.11" y1="410.5" y2="282.7" stroke="#222" stroke-width="1.6" stroke-dasharray="3.6 2.5"/>
<line x1="668.16" x2="668.16" y1="410.5" y2="282.7" stroke="#222" stroke-width="1.6" stroke-dasharray="3.6 2.5"/>
</g>
<text x="28" y="299.60" text-anchor="end" font-family="'DejaVu Sans', 'Liberation Sans', sans-serif" font-size="8.3" fill="#262626">20000</text>
<text x="28" y="327.50" text-anchor="end" font-family="'DejaVu Sans', 'Liberation Sans', sans-serif" font-size="8.3" fill="#262626">15000</text>
<text x="28" y="355.40" text-anchor="end" font-family="'DejaVu Sans', 'Liberation Sans', sans-serif" font-size="8.3" fill="#262626">10000</text>
<text x="28" y="383.30" text-anchor="end" font-family="'DejaVu Sans', 'Liberation Sans', sans-serif" font-size="8.3" fill="#262626">5000</text>
<text x="28" y="411.20" text-anchor="end" font-family="'DejaVu Sans', 'Liberation Sans', sans-serif" font-size="8.3" fill="#262626">0</text>
<rect x="41.1" y="17.9" width="239.8" height="39.7" rx="2" ry="2" fill="#EAEAF2" fill-opacity="0.8" stroke="#d0d0d4" stroke-opacity="0.6" stroke-width="0.8"/>
<line x1="47" x2="71.5" y1="28.10" y2="28.10" stroke="#dc2436" stroke-opacity="0.72" stroke-width="1.5" stroke-dasharray="4 1.9"/>
<line x1="47" x2="71.5" y1="46.40" y2="46.40" stroke="#ff0000" stroke-width="2"/>
<circle cx="59.4" cy="46.40" r="3.4" fill="#ff0000"/>
<text x="79.6" y="32.10" font-family="'DejaVu Sans', 'Liberation Sans', sans-serif" font-size="12.0" fill="#262626">Number of views by hour</text>
<text x="79.6" y="50.90" font-family="'DejaVu Sans', 'Liberation Sans', sans-serif" font-size="12.0" fill="#262626">Average number of views by day</text>
<rect x="41.1" y="152.0" width="274.7" height="39.5" rx="2" ry="2" fill="#EAEAF2" fill-opacity="0.8" stroke="#d0d0d4" stroke-opacity="0.6" stroke-width="0.8"/>
<line x1="47" x2="71.5" y1="162.20" y2="162.20" stroke="#dc2436" stroke-opacity="0.7" stroke-width="1.5" stroke-dasharray="4 1.9"/>
<line x1="47" x2="71.5" y1="180.50" y2="180.50" stroke="#ff0000" stroke-width="2"/>
<circle cx="59.4" cy="180.50" r="3.4" fill="#ff0000"/>
<text x="79.6" y="166.20" font-family="'DejaVu Sans', 'Liberation Sans', sans-serif" font-size="12.0" fill="#262626">Number of new videos by hour</text>
<text x="79.6" y="185.00" font-family="'DejaVu Sans', 'Liberation Sans', sans-serif" font-size="12.0" fill="#262626">Average number of new videos by day</text>
<rect x="41.3" y="288.4" width="247.5" height="39.6" rx="2" ry="2" fill="#EAEAF2" fill-opacity="0.8" stroke="#d0d0d4" stroke-opacity="0.6" stroke-width="0.8"/>
<line x1="47" x2="71.5" y1="298.60" y2="298.60" stroke="#1fa8dc" stroke-opacity="0.5" stroke-width="1.5" stroke-dasharray="4 1.9"/>
<line x1="47" x2="71.5" y1="316.90" y2="316.90" stroke="#17b3e4" stroke-width="2"/>
<circle cx="59.4" cy="316.90" r="3.4" fill="#17b3e4"/>
<text x="79.6" y="302.60" font-family="'DejaVu Sans', 'Liberation Sans', sans-serif" font-size="12.0" fill="#262626">Number of tweets by hour</text>
<text x="79.6" y="321.40" font-family="'DejaVu Sans', 'Liberation Sans', sans-serif" font-size="12.0" fill="#262626">Average number of tweets by day</text>
<text x="35.8" y="10.8" font-family="'DejaVu Sans', 'Liberation Sans', sans-serif" font-size="8.3" fill="#262626">1e6</text>
<text x="46.99" y="424.0" text-anchor="middle" font-family="'DejaVu Sans', 'Liberation Sans', sans-serif" font-size="8.3" fill="#262626">17</text>
<text x="126.05" y="424.0" text-anchor="middle" font-family="'DejaVu Sans', 'Liberation Sans', sans-serif" font-size="8.3" fill="#262626">24</text>
<text x="205.11" y="424.0" text-anchor="middle" font-family="'DejaVu Sans', 'Liberation Sans', sans-serif" font-size="8.3" fill="#262626">02</text>
<text x="284.17" y="424.0" text-anchor="middle" font-family="'DejaVu Sans', 'Liberation Sans', sans-serif" font-size="8.3" fill="#262626">09</text>
<text x="363.23" y="424.0" text-anchor="middle" font-family="'DejaVu Sans', 'Liberation Sans', sans-serif" font-size="8.3" fill="#262626">16</text>
<text x="442.28" y="424.0" text-anchor="middle" font-family="'DejaVu Sans', 'Liberation Sans', sans-serif" font-size="8.3" fill="#262626">23</text>
<text x="521.34" y="424.0" text-anchor="middle" font-family="'DejaVu Sans', 'Liberation Sans', sans-serif" font-size="8.3" fill="#262626">30</text>
<text x="600.40" y="424.0" text-anchor="middle" font-family="'DejaVu Sans', 'Liberation Sans', sans-serif" font-size="8.3" fill="#262626">06</text>
<text x="679.46" y="424.0" text-anchor="middle" font-family="'DejaVu Sans', 'Liberation Sans', sans-serif" font-size="8.3" fill="#262626">13</text>
<text x="107.4" y="444.6" text-anchor="middle" font-family="'DejaVu Sans', 'Liberation Sans', sans-serif" font-size="12.5" font-weight="bold" fill="#1a1a1a">February 2020</text>
<text x="358.3" y="444.6" text-anchor="middle" font-family="'DejaVu Sans', 'Liberation Sans', sans-serif" font-size="12.5" font-weight="bold" fill="#1a1a1a">March 2020</text>
<text x="598.7" y="444.6" text-anchor="middle" font-family="'DejaVu Sans', 'Liberation Sans', sans-serif" font-size="12.5" font-weight="bold" fill="#1a1a1a">April 2020</text>
</svg>
</body></html>
